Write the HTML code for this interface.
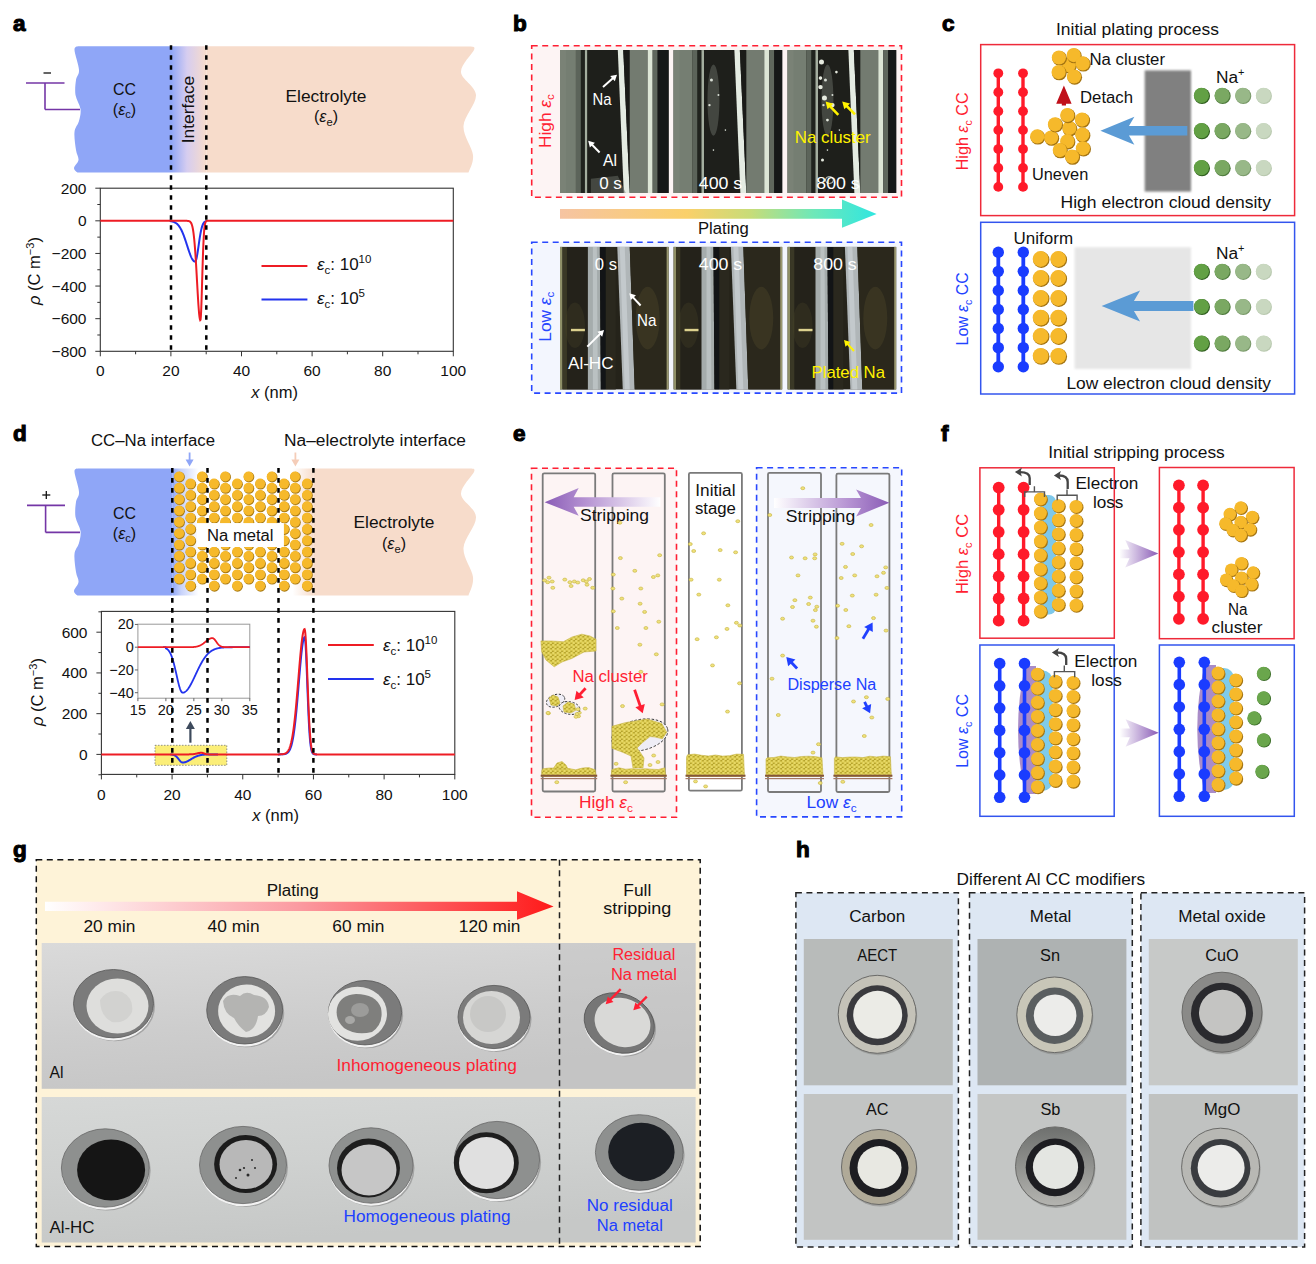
<!DOCTYPE html><html><head><meta charset="utf-8"><style>html,body{margin:0;padding:0;background:#fff;width:1316px;height:1264px;overflow:hidden}text{font-family:"Liberation Sans", sans-serif}</style></head><body><svg width="1316" height="1264" viewBox="0 0 1316 1264" style="display:block;font-family:'Liberation Sans', sans-serif"><defs><clipPath id="clipA"><path d="M78,46.2 L471.5,46.5  C471.92,47.08 475.75,45.75 474.00,50.00 C472.25,54.25 460.67,64.50 461.00,72.00 C461.33,79.50 475.58,86.00 476.00,95.00 C476.42,104.00 464.00,116.00 463.50,126.00 C463.00,136.00 472.17,147.25 473.00,155.00 C473.83,162.75 469.25,169.58 468.50,172.50 L77.5,172.5  C76.92,171.75 73.83,170.08 74.00,168.00 C74.17,165.92 78.17,163.00 78.50,160.00 C78.83,157.00 76.67,154.67 76.00,150.00 C75.33,145.33 74.00,136.83 74.50,132.00 C75.00,127.17 78.00,124.83 79.00,121.00 C80.00,117.17 81.08,113.33 80.50,109.00 C79.92,104.67 76.25,99.83 75.50,95.00 C74.75,90.17 75.42,84.17 76.00,80.00 C76.58,75.83 79.25,75.00 79.00,70.00 C78.75,65.00 74.67,53.97 74.50,50.00 C74.33,46.03 77.42,46.83 78.00,46.20Z"/></clipPath><linearGradient id="gIntA" x1="0" x2="1" y1="0" y2="0"><stop offset="0" stop-color="#8fa6f7"/><stop offset="0.45" stop-color="#d6cdf0"/><stop offset="1" stop-color="#f7dccb"/></linearGradient><linearGradient id="gPlat" x1="0" x2="1" y1="0" y2="0"><stop offset="0" stop-color="#f6c4a2"/><stop offset="0.4" stop-color="#fad06a"/><stop offset="0.6" stop-color="#c8dc78"/><stop offset="0.8" stop-color="#6ee8b8"/><stop offset="1" stop-color="#30e6e0"/></linearGradient><filter id="fblur1" x="-10%" y="-10%" width="120%" height="120%"><feGaussianBlur stdDeviation="0.8"/></filter><clipPath id="clipD"><path d="M77.5,468.6 L471.5,468.6  C471.92,469.17 475.75,467.77 474.00,472.00 C472.25,476.23 460.67,486.50 461.00,494.00 C461.33,501.50 475.58,508.00 476.00,517.00 C476.42,526.00 464.00,538.00 463.50,548.00 C463.00,558.00 472.17,569.08 473.00,577.00 C473.83,584.92 469.25,592.42 468.50,595.50 L77.5,595.5  C76.92,594.75 73.83,593.25 74.00,591.00 C74.17,588.75 78.17,585.17 78.50,582.00 C78.83,578.83 76.67,576.67 76.00,572.00 C75.33,567.33 74.00,558.83 74.50,554.00 C75.00,549.17 78.00,546.83 79.00,543.00 C80.00,539.17 81.08,535.33 80.50,531.00 C79.92,526.67 76.25,521.83 75.50,517.00 C74.75,512.17 75.42,506.17 76.00,502.00 C76.58,497.83 79.25,497.00 79.00,492.00 C78.75,487.00 74.75,475.90 74.50,472.00 C74.25,468.10 77.00,469.17 77.50,468.60Z"/></clipPath><linearGradient id="gIntD1" x1="0" x2="1" y1="0" y2="0"><stop offset="0" stop-color="#8fa6f7"/><stop offset="0.25" stop-color="#c7d2fa"/><stop offset="0.75" stop-color="#ffffff"/><stop offset="1" stop-color="#ffffff"/></linearGradient><linearGradient id="gIntD2" x1="0" x2="1" y1="0" y2="0"><stop offset="0" stop-color="#ffffff"/><stop offset="0.4" stop-color="#ffffff"/><stop offset="1" stop-color="#f7dccb"/></linearGradient><pattern id="pNa" x="0" y="0" width="4.6" height="4" patternUnits="userSpaceOnUse"><rect width="4.6" height="4" fill="#b4a22c"/><circle cx="1.15" cy="1" r="1.85" fill="#ddcc50"/><circle cx="3.45" cy="3" r="1.85" fill="#ddcc50"/><circle cx="1.15" cy="1" r="0.8" fill="#f0e47a"/><circle cx="3.45" cy="3" r="0.8" fill="#f0e47a"/></pattern><linearGradient id="gStripL" x1="0" x2="1" y1="0" y2="0"><stop offset="0" stop-color="#8a5cb6"/><stop offset="0.35" stop-color="#b592d2"/><stop offset="1" stop-color="#ffffff"/></linearGradient><linearGradient id="gStripR" x1="0" x2="1" y1="0" y2="0"><stop offset="0" stop-color="#ffffff"/><stop offset="0.65" stop-color="#b592d2"/><stop offset="1" stop-color="#8a5cb6"/></linearGradient><filter id="fnone"/><linearGradient id="gArrF" x1="0" x2="1" y1="0" y2="0"><stop offset="0" stop-color="#ffffff"/><stop offset="1" stop-color="#8a5cb6"/></linearGradient><linearGradient id="gPlatG" x1="0" x2="1" y1="0" y2="0"><stop offset="0" stop-color="#ffffff"/><stop offset="0.5" stop-color="#fb9aa0"/><stop offset="1" stop-color="#ff1a1a"/></linearGradient><linearGradient id="gAl" x1="0" x2="0.3" y1="0" y2="1"><stop offset="0" stop-color="#dadada"/><stop offset="0.6" stop-color="#cdcdcd"/><stop offset="1" stop-color="#c6c6c6"/></linearGradient><linearGradient id="gHC" x1="0" x2="0.3" y1="0" y2="1"><stop offset="0" stop-color="#d6d8d7"/><stop offset="0.5" stop-color="#cfd1d0"/><stop offset="1" stop-color="#c6c8c7"/></linearGradient><filter id="fnoise" x="0" y="0" width="100%" height="100%"><feTurbulence type="fractalNoise" baseFrequency="0.35" numOctaves="2" seed="3" result="n"/><feColorMatrix type="matrix" values="0 0 0 0 0.5  0 0 0 0 0.5  0 0 0 0 0.5  0 0 0 0.25 0" in="n"/><feComposite in2="SourceGraphic" operator="in"/></filter><linearGradient id="gSb" x1="0" x2="0" y1="0" y2="1"><stop offset="0" stop-color="#6e706e"/><stop offset="1" stop-color="#b4b4b0"/></linearGradient></defs><text x="13.00" y="30.70" font-size="22.5" fill="#000" font-weight="bold" stroke="#000" stroke-width="1.1">a</text><g clip-path="url(#clipA)"><rect x="60.00" y="40.00" width="111.00" height="140.00" fill="#8fa6f7" stroke="none" stroke-width="1" /><rect x="171.00" y="40.00" width="35.50" height="140.00" fill="url(#gIntA)" stroke="none" stroke-width="1" /><rect x="206.50" y="40.00" width="280.00" height="140.00" fill="#f7dccb" stroke="none" stroke-width="1" /></g><line x1="26.00" y1="83.00" x2="64.50" y2="83.00" stroke="#7436a6" stroke-width="1.6" /><line x1="45.00" y1="83.00" x2="45.00" y2="109.50" stroke="#7436a6" stroke-width="1.6" /><line x1="45.00" y1="109.50" x2="80.00" y2="109.50" stroke="#7436a6" stroke-width="1.6" /><line x1="43.50" y1="73.00" x2="51.00" y2="73.00" stroke="#111" stroke-width="1.3" /><text x="124.50" y="94.50" font-size="16" fill="#111" text-anchor="middle" textLength="23" lengthAdjust="spacingAndGlyphs" >CC</text><text x="124.50" y="114.50" font-size="16" fill="#111" text-anchor="middle" >(<tspan font-style="italic">ε</tspan><tspan font-size="11.2" dy="3.5">c</tspan><tspan dy="-3.5">)</tspan></text><text x="193.50" y="109.50" font-size="17.3" fill="#111" text-anchor="middle" textLength="67.5" lengthAdjust="spacingAndGlyphs" transform="rotate(-90 193.50 109.50)" >Interface</text><text x="326.00" y="101.50" font-size="17.3" fill="#111" text-anchor="middle" textLength="81" lengthAdjust="spacingAndGlyphs" >Electrolyte</text><text x="326.00" y="122.00" font-size="16" fill="#111" text-anchor="middle" >(<tspan font-style="italic">ε</tspan><tspan font-size="11.2" dy="3.5">e</tspan><tspan dy="-3.5">)</tspan></text><rect x="100.30" y="188.20" width="353.00" height="163.10" fill="none" stroke="#333" stroke-width="1.1" /><line x1="95.30" y1="351.30" x2="100.30" y2="351.30" stroke="#333" stroke-width="1" /><line x1="97.30" y1="334.99" x2="100.30" y2="334.99" stroke="#333" stroke-width="1" /><line x1="95.30" y1="318.68" x2="100.30" y2="318.68" stroke="#333" stroke-width="1" /><line x1="97.30" y1="302.37" x2="100.30" y2="302.37" stroke="#333" stroke-width="1" /><line x1="95.30" y1="286.06" x2="100.30" y2="286.06" stroke="#333" stroke-width="1" /><line x1="97.30" y1="269.75" x2="100.30" y2="269.75" stroke="#333" stroke-width="1" /><line x1="95.30" y1="253.44" x2="100.30" y2="253.44" stroke="#333" stroke-width="1" /><line x1="97.30" y1="237.13" x2="100.30" y2="237.13" stroke="#333" stroke-width="1" /><line x1="95.30" y1="220.82" x2="100.30" y2="220.82" stroke="#333" stroke-width="1" /><line x1="97.30" y1="204.51" x2="100.30" y2="204.51" stroke="#333" stroke-width="1" /><line x1="95.30" y1="188.20" x2="100.30" y2="188.20" stroke="#333" stroke-width="1" /><text x="86.50" y="356.80" font-size="15.5" fill="#111" text-anchor="end" >−800</text><text x="86.50" y="324.18" font-size="15.5" fill="#111" text-anchor="end" >−600</text><text x="86.50" y="291.56" font-size="15.5" fill="#111" text-anchor="end" >−400</text><text x="86.50" y="258.94" font-size="15.5" fill="#111" text-anchor="end" >−200</text><text x="86.50" y="226.32" font-size="15.5" fill="#111" text-anchor="end" >0</text><text x="86.50" y="193.70" font-size="15.5" fill="#111" text-anchor="end" >200</text><line x1="100.30" y1="351.30" x2="100.30" y2="356.30" stroke="#333" stroke-width="1" /><line x1="135.60" y1="351.30" x2="135.60" y2="354.30" stroke="#333" stroke-width="1" /><line x1="170.90" y1="351.30" x2="170.90" y2="356.30" stroke="#333" stroke-width="1" /><line x1="206.20" y1="351.30" x2="206.20" y2="354.30" stroke="#333" stroke-width="1" /><line x1="241.50" y1="351.30" x2="241.50" y2="356.30" stroke="#333" stroke-width="1" /><line x1="276.80" y1="351.30" x2="276.80" y2="354.30" stroke="#333" stroke-width="1" /><line x1="312.10" y1="351.30" x2="312.10" y2="356.30" stroke="#333" stroke-width="1" /><line x1="347.40" y1="351.30" x2="347.40" y2="354.30" stroke="#333" stroke-width="1" /><line x1="382.70" y1="351.30" x2="382.70" y2="356.30" stroke="#333" stroke-width="1" /><line x1="418.00" y1="351.30" x2="418.00" y2="354.30" stroke="#333" stroke-width="1" /><line x1="453.30" y1="351.30" x2="453.30" y2="356.30" stroke="#333" stroke-width="1" /><text x="100.30" y="376.00" font-size="15.5" fill="#111" text-anchor="middle" >0</text><text x="170.90" y="376.00" font-size="15.5" fill="#111" text-anchor="middle" >20</text><text x="241.50" y="376.00" font-size="15.5" fill="#111" text-anchor="middle" >40</text><text x="312.10" y="376.00" font-size="15.5" fill="#111" text-anchor="middle" >60</text><text x="382.70" y="376.00" font-size="15.5" fill="#111" text-anchor="middle" >80</text><text x="453.30" y="376.00" font-size="15.5" fill="#111" text-anchor="middle" >100</text><text x="274.50" y="397.50" font-size="16.5" fill="#111" text-anchor="middle" ><tspan font-style="italic">x</tspan> (nm)</text><text x="40.00" y="271.00" font-size="16.5" fill="#111" text-anchor="middle" transform="rotate(-90 40.00 271.00)" ><tspan font-style="italic">ρ</tspan> (C m<tspan font-size="11" dy="-6">−3</tspan><tspan dy="6">)</tspan></text><path d="M169.49,220.82 L169.84,220.82 L170.19,220.82 L170.55,220.82 L170.90,221.22 L171.25,221.27 L171.61,221.34 L171.96,221.41 L172.31,221.49 L172.66,221.58 L173.02,221.68 L173.37,221.79 L173.72,221.92 L174.08,222.06 L174.43,222.21 L174.78,222.38 L175.14,222.56 L175.49,222.77 L175.84,222.99 L176.19,223.23 L176.55,223.50 L176.90,223.79 L177.25,224.10 L177.61,224.45 L177.96,224.81 L178.31,225.21 L178.67,225.64 L179.02,226.10 L179.37,226.59 L179.72,227.11 L180.08,227.67 L180.43,228.26 L180.78,228.89 L181.14,229.55 L181.49,230.25 L181.84,230.99 L182.20,231.76 L182.55,232.56 L182.90,233.41 L183.25,234.28 L183.61,235.19 L183.96,236.12 L184.31,237.09 L184.67,238.08 L185.02,239.10 L185.37,240.14 L185.73,241.20 L186.08,242.27 L186.43,243.36 L186.78,244.45 L187.14,245.55 L187.49,246.65 L187.84,247.74 L188.20,248.83 L188.55,249.90 L188.90,250.95 L189.26,251.98 L189.61,252.98 L189.96,253.95 L190.31,254.88 L190.67,255.76 L191.02,256.60 L191.37,257.39 L191.73,258.12 L192.08,258.79 L192.43,259.39 L192.79,259.93 L193.14,260.39 L193.49,260.79 L193.84,261.10 L194.20,261.34 L194.55,261.50 L194.90,261.58 L195.26,261.54 L195.61,261.14 L195.96,260.34 L196.32,259.17 L196.67,257.67 L197.02,255.87 L197.38,253.83 L197.73,251.60 L198.08,249.23 L198.43,246.79 L198.79,244.32 L199.14,241.87 L199.49,239.49 L199.85,237.21 L200.20,235.07 L200.55,233.09 L200.91,231.27 L201.26,229.64 L201.61,228.19 L201.96,226.91 L202.32,225.81 L202.67,224.86 L203.02,224.06 L203.38,223.40 L203.73,222.85 L204.08,222.40 L204.44,222.04 L204.79,221.75 L205.14,221.52 L205.49,221.35 L205.85,221.21 L206.20,221.11 L206.55,221.03 L206.91,220.97" fill="none" stroke="#2233ee" stroke-width="2" /><path d="M100.30,220.82 L100.65,220.82 L101.01,220.82 L101.36,220.82 L101.71,220.82 L102.06,220.82 L102.42,220.82 L102.77,220.82 L103.12,220.82 L103.48,220.82 L103.83,220.82 L104.18,220.82 L104.54,220.82 L104.89,220.82 L105.24,220.82 L105.59,220.82 L105.95,220.82 L106.30,220.82 L106.65,220.82 L107.01,220.82 L107.36,220.82 L107.71,220.82 L108.07,220.82 L108.42,220.82 L108.77,220.82 L109.12,220.82 L109.48,220.82 L109.83,220.82 L110.18,220.82 L110.54,220.82 L110.89,220.82 L111.24,220.82 L111.60,220.82 L111.95,220.82 L112.30,220.82 L112.66,220.82 L113.01,220.82 L113.36,220.82 L113.71,220.82 L114.07,220.82 L114.42,220.82 L114.77,220.82 L115.13,220.82 L115.48,220.82 L115.83,220.82 L116.19,220.82 L116.54,220.82 L116.89,220.82 L117.24,220.82 L117.60,220.82 L117.95,220.82 L118.30,220.82 L118.66,220.82 L119.01,220.82 L119.36,220.82 L119.72,220.82 L120.07,220.82 L120.42,220.82 L120.77,220.82 L121.13,220.82 L121.48,220.82 L121.83,220.82 L122.19,220.82 L122.54,220.82 L122.89,220.82 L123.25,220.82 L123.60,220.82 L123.95,220.82 L124.30,220.82 L124.66,220.82 L125.01,220.82 L125.36,220.82 L125.72,220.82 L126.07,220.82 L126.42,220.82 L126.78,220.82 L127.13,220.82 L127.48,220.82 L127.83,220.82 L128.19,220.82 L128.54,220.82 L128.89,220.82 L129.25,220.82 L129.60,220.82 L129.95,220.82 L130.31,220.82 L130.66,220.82 L131.01,220.82 L131.36,220.82 L131.72,220.82 L132.07,220.82 L132.42,220.82 L132.78,220.82 L133.13,220.82 L133.48,220.82 L133.83,220.82 L134.19,220.82 L134.54,220.82 L134.89,220.82 L135.25,220.82 L135.60,220.82 L135.95,220.82 L136.31,220.82 L136.66,220.82 L137.01,220.82 L137.37,220.82 L137.72,220.82 L138.07,220.82 L138.42,220.82 L138.78,220.82 L139.13,220.82 L139.48,220.82 L139.84,220.82 L140.19,220.82 L140.54,220.82 L140.89,220.82 L141.25,220.82 L141.60,220.82 L141.95,220.82 L142.31,220.82 L142.66,220.82 L143.01,220.82 L143.37,220.82 L143.72,220.82 L144.07,220.82 L144.43,220.82 L144.78,220.82 L145.13,220.82 L145.48,220.82 L145.84,220.82 L146.19,220.82 L146.54,220.82 L146.90,220.82 L147.25,220.82 L147.60,220.82 L147.95,220.82 L148.31,220.82 L148.66,220.82 L149.01,220.82 L149.37,220.82 L149.72,220.82 L150.07,220.82 L150.43,220.82 L150.78,220.82 L151.13,220.82 L151.49,220.82 L151.84,220.82 L152.19,220.82 L152.54,220.82 L152.90,220.82 L153.25,220.82 L153.60,220.82 L153.96,220.82 L154.31,220.82 L154.66,220.82 L155.01,220.82 L155.37,220.82 L155.72,220.82 L156.07,220.82 L156.43,220.82 L156.78,220.82 L157.13,220.82 L157.49,220.82 L157.84,220.82 L158.19,220.82 L158.54,220.82 L158.90,220.82 L159.25,220.82 L159.60,220.82 L159.96,220.82 L160.31,220.82 L160.66,220.82 L161.02,220.82 L161.37,220.82 L161.72,220.82 L162.07,220.82 L162.43,220.82 L162.78,220.82 L163.13,220.82 L163.49,220.82 L163.84,220.82 L164.19,220.82 L164.55,220.82 L164.90,220.82 L165.25,220.82 L165.61,220.82 L165.96,220.82 L166.31,220.82 L166.66,220.82 L167.02,220.82 L167.37,220.82 L167.72,220.82 L168.08,220.82 L168.43,220.82 L168.78,220.82 L169.13,220.82 L169.49,220.82 L169.84,220.82 L170.19,220.82 L170.55,220.82 L170.90,220.82 L171.25,220.82 L171.61,220.82 L171.96,220.82 L172.31,220.82 L172.66,220.82 L173.02,220.82 L173.37,220.82 L173.72,220.82 L174.08,220.82 L174.43,220.82 L174.78,220.82 L175.14,220.82 L175.49,220.82 L175.84,220.82 L176.19,220.82 L176.55,220.82 L176.90,220.82 L177.25,220.82 L177.61,220.82 L177.96,220.82 L178.31,220.82 L178.67,220.82 L179.02,220.82 L179.37,220.82 L179.72,220.82 L180.08,220.82 L180.43,220.82 L180.78,220.82 L181.14,220.82 L181.49,220.82 L181.84,220.82 L182.20,220.82 L182.55,220.82 L182.90,220.82 L183.25,220.82 L183.61,220.82 L183.96,220.82 L184.31,220.82 L184.67,220.82 L185.02,220.82 L185.37,220.82 L185.73,220.83 L186.08,220.83 L186.43,220.84 L186.78,220.85 L187.14,220.86 L187.49,220.88 L187.84,220.91 L188.20,220.96 L188.55,221.02 L188.90,221.11 L189.26,221.23 L189.61,221.39 L189.96,221.62 L190.31,221.93 L190.67,222.33 L191.02,222.85 L191.37,223.53 L191.73,224.40 L192.08,225.49 L192.43,226.84 L192.79,228.50 L193.14,230.52 L193.49,232.92 L193.84,235.76 L194.20,239.06 L194.55,242.84 L194.90,247.11 L195.26,251.86 L195.61,257.07 L195.96,262.68 L196.32,268.64 L196.67,274.84 L197.02,281.16 L197.38,287.49 L197.73,293.67 L198.08,299.55 L198.43,304.96 L198.79,309.75 L199.14,313.78 L199.49,316.92 L199.85,319.08 L200.20,320.17 L200.55,319.81 L200.91,315.93 L201.26,308.62 L201.61,298.69 L201.96,287.18 L202.32,275.15 L202.67,263.56 L203.02,253.12 L203.38,244.27 L203.73,237.18 L204.08,231.79 L204.44,227.88 L204.79,225.19 L205.14,223.42 L205.49,222.30 L205.85,221.63 L206.20,221.25 L206.55,221.04 L206.91,220.93 L207.26,220.87 L207.61,220.84 L207.97,220.83 L208.32,220.82 L208.67,220.82 L209.02,220.82 L209.38,220.82 L209.73,220.82 L210.08,220.82 L210.44,220.82 L210.79,220.82 L211.14,220.82 L211.50,220.82 L211.85,220.82 L212.20,220.82 L212.55,220.82 L212.91,220.82 L213.26,220.82 L213.61,220.82 L213.97,220.82 L214.32,220.82 L214.67,220.82 L215.02,220.82 L215.38,220.82 L215.73,220.82 L216.08,220.82 L216.44,220.82 L216.79,220.82 L217.14,220.82 L217.50,220.82 L217.85,220.82 L218.20,220.82 L218.56,220.82 L218.91,220.82 L219.26,220.82 L219.61,220.82 L219.97,220.82 L220.32,220.82 L220.67,220.82 L221.03,220.82 L221.38,220.82 L221.73,220.82 L222.08,220.82 L222.44,220.82 L222.79,220.82 L223.14,220.82 L223.50,220.82 L223.85,220.82 L224.20,220.82 L224.56,220.82 L224.91,220.82 L225.26,220.82 L225.62,220.82 L225.97,220.82 L226.32,220.82 L226.67,220.82 L227.03,220.82 L227.38,220.82 L227.73,220.82 L228.09,220.82 L228.44,220.82 L228.79,220.82 L229.14,220.82 L229.50,220.82 L229.85,220.82 L230.20,220.82 L230.56,220.82 L230.91,220.82 L231.26,220.82 L231.62,220.82 L231.97,220.82 L232.32,220.82 L232.68,220.82 L233.03,220.82 L233.38,220.82 L233.73,220.82 L234.09,220.82 L234.44,220.82 L234.79,220.82 L235.15,220.82 L235.50,220.82 L235.85,220.82 L236.20,220.82 L236.56,220.82 L236.91,220.82 L237.26,220.82 L237.62,220.82 L237.97,220.82 L238.32,220.82 L238.68,220.82 L239.03,220.82 L239.38,220.82 L239.74,220.82 L240.09,220.82 L240.44,220.82 L240.79,220.82 L241.15,220.82 L241.50,220.82 L241.85,220.82 L242.21,220.82 L242.56,220.82 L242.91,220.82 L243.26,220.82 L243.62,220.82 L243.97,220.82 L244.32,220.82 L244.68,220.82 L245.03,220.82 L245.38,220.82 L245.74,220.82 L246.09,220.82 L246.44,220.82 L246.80,220.82 L247.15,220.82 L247.50,220.82 L247.85,220.82 L248.21,220.82 L248.56,220.82 L248.91,220.82 L249.27,220.82 L249.62,220.82 L249.97,220.82 L250.32,220.82 L250.68,220.82 L251.03,220.82 L251.38,220.82 L251.74,220.82 L252.09,220.82 L252.44,220.82 L252.80,220.82 L253.15,220.82 L253.50,220.82 L253.86,220.82 L254.21,220.82 L254.56,220.82 L254.91,220.82 L255.27,220.82 L255.62,220.82 L255.97,220.82 L256.33,220.82 L256.68,220.82 L257.03,220.82 L257.38,220.82 L257.74,220.82 L258.09,220.82 L258.44,220.82 L258.80,220.82 L259.15,220.82 L259.50,220.82 L259.86,220.82 L260.21,220.82 L260.56,220.82 L260.92,220.82 L261.27,220.82 L261.62,220.82 L261.97,220.82 L262.33,220.82 L262.68,220.82 L263.03,220.82 L263.39,220.82 L263.74,220.82 L264.09,220.82 L264.44,220.82 L264.80,220.82 L265.15,220.82 L265.50,220.82 L265.86,220.82 L266.21,220.82 L266.56,220.82 L266.92,220.82 L267.27,220.82 L267.62,220.82 L267.98,220.82 L268.33,220.82 L268.68,220.82 L269.03,220.82 L269.39,220.82 L269.74,220.82 L270.09,220.82 L270.45,220.82 L270.80,220.82 L271.15,220.82 L271.50,220.82 L271.86,220.82 L272.21,220.82 L272.56,220.82 L272.92,220.82 L273.27,220.82 L273.62,220.82 L273.98,220.82 L274.33,220.82 L274.68,220.82 L275.04,220.82 L275.39,220.82 L275.74,220.82 L276.09,220.82 L276.45,220.82 L276.80,220.82 L277.15,220.82 L277.51,220.82 L277.86,220.82 L278.21,220.82 L278.56,220.82 L278.92,220.82 L279.27,220.82 L279.62,220.82 L279.98,220.82 L280.33,220.82 L280.68,220.82 L281.04,220.82 L281.39,220.82 L281.74,220.82 L282.09,220.82 L282.45,220.82 L282.80,220.82 L283.15,220.82 L283.51,220.82 L283.86,220.82 L284.21,220.82 L284.57,220.82 L284.92,220.82 L285.27,220.82 L285.62,220.82 L285.98,220.82 L286.33,220.82 L286.68,220.82 L287.04,220.82 L287.39,220.82 L287.74,220.82 L288.10,220.82 L288.45,220.82 L288.80,220.82 L289.15,220.82 L289.51,220.82 L289.86,220.82 L290.21,220.82 L290.57,220.82 L290.92,220.82 L291.27,220.82 L291.63,220.82 L291.98,220.82 L292.33,220.82 L292.69,220.82 L293.04,220.82 L293.39,220.82 L293.74,220.82 L294.10,220.82 L294.45,220.82 L294.80,220.82 L295.16,220.82 L295.51,220.82 L295.86,220.82 L296.21,220.82 L296.57,220.82 L296.92,220.82 L297.27,220.82 L297.63,220.82 L297.98,220.82 L298.33,220.82 L298.69,220.82 L299.04,220.82 L299.39,220.82 L299.75,220.82 L300.10,220.82 L300.45,220.82 L300.80,220.82 L301.16,220.82 L301.51,220.82 L301.86,220.82 L302.22,220.82 L302.57,220.82 L302.92,220.82 L303.27,220.82 L303.63,220.82 L303.98,220.82 L304.33,220.82 L304.69,220.82 L305.04,220.82 L305.39,220.82 L305.75,220.82 L306.10,220.82 L306.45,220.82 L306.81,220.82 L307.16,220.82 L307.51,220.82 L307.86,220.82 L308.22,220.82 L308.57,220.82 L308.92,220.82 L309.28,220.82 L309.63,220.82 L309.98,220.82 L310.33,220.82 L310.69,220.82 L311.04,220.82 L311.39,220.82 L311.75,220.82 L312.10,220.82 L312.45,220.82 L312.81,220.82 L313.16,220.82 L313.51,220.82 L313.87,220.82 L314.22,220.82 L314.57,220.82 L314.92,220.82 L315.28,220.82 L315.63,220.82 L315.98,220.82 L316.34,220.82 L316.69,220.82 L317.04,220.82 L317.39,220.82 L317.75,220.82 L318.10,220.82 L318.45,220.82 L318.81,220.82 L319.16,220.82 L319.51,220.82 L319.87,220.82 L320.22,220.82 L320.57,220.82 L320.93,220.82 L321.28,220.82 L321.63,220.82 L321.98,220.82 L322.34,220.82 L322.69,220.82 L323.04,220.82 L323.40,220.82 L323.75,220.82 L324.10,220.82 L324.45,220.82 L324.81,220.82 L325.16,220.82 L325.51,220.82 L325.87,220.82 L326.22,220.82 L326.57,220.82 L326.93,220.82 L327.28,220.82 L327.63,220.82 L327.99,220.82 L328.34,220.82 L328.69,220.82 L329.04,220.82 L329.40,220.82 L329.75,220.82 L330.10,220.82 L330.46,220.82 L330.81,220.82 L331.16,220.82 L331.51,220.82 L331.87,220.82 L332.22,220.82 L332.57,220.82 L332.93,220.82 L333.28,220.82 L333.63,220.82 L333.99,220.82 L334.34,220.82 L334.69,220.82 L335.05,220.82 L335.40,220.82 L335.75,220.82 L336.10,220.82 L336.46,220.82 L336.81,220.82 L337.16,220.82 L337.52,220.82 L337.87,220.82 L338.22,220.82 L338.57,220.82 L338.93,220.82 L339.28,220.82 L339.63,220.82 L339.99,220.82 L340.34,220.82 L340.69,220.82 L341.05,220.82 L341.40,220.82 L341.75,220.82 L342.11,220.82 L342.46,220.82 L342.81,220.82 L343.16,220.82 L343.52,220.82 L343.87,220.82 L344.22,220.82 L344.58,220.82 L344.93,220.82 L345.28,220.82 L345.63,220.82 L345.99,220.82 L346.34,220.82 L346.69,220.82 L347.05,220.82 L347.40,220.82 L347.75,220.82 L348.11,220.82 L348.46,220.82 L348.81,220.82 L349.17,220.82 L349.52,220.82 L349.87,220.82 L350.22,220.82 L350.58,220.82 L350.93,220.82 L351.28,220.82 L351.64,220.82 L351.99,220.82 L352.34,220.82 L352.69,220.82 L353.05,220.82 L353.40,220.82 L353.75,220.82 L354.11,220.82 L354.46,220.82 L354.81,220.82 L355.17,220.82 L355.52,220.82 L355.87,220.82 L356.23,220.82 L356.58,220.82 L356.93,220.82 L357.28,220.82 L357.64,220.82 L357.99,220.82 L358.34,220.82 L358.70,220.82 L359.05,220.82 L359.40,220.82 L359.75,220.82 L360.11,220.82 L360.46,220.82 L360.81,220.82 L361.17,220.82 L361.52,220.82 L361.87,220.82 L362.23,220.82 L362.58,220.82 L362.93,220.82 L363.29,220.82 L363.64,220.82 L363.99,220.82 L364.34,220.82 L364.70,220.82 L365.05,220.82 L365.40,220.82 L365.76,220.82 L366.11,220.82 L366.46,220.82 L366.81,220.82 L367.17,220.82 L367.52,220.82 L367.87,220.82 L368.23,220.82 L368.58,220.82 L368.93,220.82 L369.29,220.82 L369.64,220.82 L369.99,220.82 L370.35,220.82 L370.70,220.82 L371.05,220.82 L371.40,220.82 L371.76,220.82 L372.11,220.82 L372.46,220.82 L372.82,220.82 L373.17,220.82 L373.52,220.82 L373.88,220.82 L374.23,220.82 L374.58,220.82 L374.93,220.82 L375.29,220.82 L375.64,220.82 L375.99,220.82 L376.35,220.82 L376.70,220.82 L377.05,220.82 L377.41,220.82 L377.76,220.82 L378.11,220.82 L378.46,220.82 L378.82,220.82 L379.17,220.82 L379.52,220.82 L379.88,220.82 L380.23,220.82 L380.58,220.82 L380.94,220.82 L381.29,220.82 L381.64,220.82 L381.99,220.82 L382.35,220.82 L382.70,220.82 L383.05,220.82 L383.41,220.82 L383.76,220.82 L384.11,220.82 L384.47,220.82 L384.82,220.82 L385.17,220.82 L385.52,220.82 L385.88,220.82 L386.23,220.82 L386.58,220.82 L386.94,220.82 L387.29,220.82 L387.64,220.82 L388.00,220.82 L388.35,220.82 L388.70,220.82 L389.05,220.82 L389.41,220.82 L389.76,220.82 L390.11,220.82 L390.47,220.82 L390.82,220.82 L391.17,220.82 L391.53,220.82 L391.88,220.82 L392.23,220.82 L392.58,220.82 L392.94,220.82 L393.29,220.82 L393.64,220.82 L394.00,220.82 L394.35,220.82 L394.70,220.82 L395.06,220.82 L395.41,220.82 L395.76,220.82 L396.11,220.82 L396.47,220.82 L396.82,220.82 L397.17,220.82 L397.53,220.82 L397.88,220.82 L398.23,220.82 L398.59,220.82 L398.94,220.82 L399.29,220.82 L399.64,220.82 L400.00,220.82 L400.35,220.82 L400.70,220.82 L401.06,220.82 L401.41,220.82 L401.76,220.82 L402.12,220.82 L402.47,220.82 L402.82,220.82 L403.17,220.82 L403.53,220.82 L403.88,220.82 L404.23,220.82 L404.59,220.82 L404.94,220.82 L405.29,220.82 L405.65,220.82 L406.00,220.82 L406.35,220.82 L406.70,220.82 L407.06,220.82 L407.41,220.82 L407.76,220.82 L408.12,220.82 L408.47,220.82 L408.82,220.82 L409.18,220.82 L409.53,220.82 L409.88,220.82 L410.23,220.82 L410.59,220.82 L410.94,220.82 L411.29,220.82 L411.65,220.82 L412.00,220.82 L412.35,220.82 L412.70,220.82 L413.06,220.82 L413.41,220.82 L413.76,220.82 L414.12,220.82 L414.47,220.82 L414.82,220.82 L415.18,220.82 L415.53,220.82 L415.88,220.82 L416.24,220.82 L416.59,220.82 L416.94,220.82 L417.29,220.82 L417.65,220.82 L418.00,220.82 L418.35,220.82 L418.71,220.82 L419.06,220.82 L419.41,220.82 L419.76,220.82 L420.12,220.82 L420.47,220.82 L420.82,220.82 L421.18,220.82 L421.53,220.82 L421.88,220.82 L422.24,220.82 L422.59,220.82 L422.94,220.82 L423.30,220.82 L423.65,220.82 L424.00,220.82 L424.35,220.82 L424.71,220.82 L425.06,220.82 L425.41,220.82 L425.77,220.82 L426.12,220.82 L426.47,220.82 L426.82,220.82 L427.18,220.82 L427.53,220.82 L427.88,220.82 L428.24,220.82 L428.59,220.82 L428.94,220.82 L429.30,220.82 L429.65,220.82 L430.00,220.82 L430.36,220.82 L430.71,220.82 L431.06,220.82 L431.41,220.82 L431.77,220.82 L432.12,220.82 L432.47,220.82 L432.83,220.82 L433.18,220.82 L433.53,220.82 L433.88,220.82 L434.24,220.82 L434.59,220.82 L434.94,220.82 L435.30,220.82 L435.65,220.82 L436.00,220.82 L436.36,220.82 L436.71,220.82 L437.06,220.82 L437.42,220.82 L437.77,220.82 L438.12,220.82 L438.47,220.82 L438.83,220.82 L439.18,220.82 L439.53,220.82 L439.89,220.82 L440.24,220.82 L440.59,220.82 L440.94,220.82 L441.30,220.82 L441.65,220.82 L442.00,220.82 L442.36,220.82 L442.71,220.82 L443.06,220.82 L443.42,220.82 L443.77,220.82 L444.12,220.82 L444.48,220.82 L444.83,220.82 L445.18,220.82 L445.53,220.82 L445.89,220.82 L446.24,220.82 L446.59,220.82 L446.95,220.82 L447.30,220.82 L447.65,220.82 L448.00,220.82 L448.36,220.82 L448.71,220.82 L449.06,220.82 L449.42,220.82 L449.77,220.82 L450.12,220.82 L450.48,220.82 L450.83,220.82 L451.18,220.82 L451.54,220.82 L451.89,220.82 L452.24,220.82 L452.59,220.82 L452.95,220.82 L453.30,220.82" fill="none" stroke="#ee1c24" stroke-width="2" /><line x1="261.50" y1="265.90" x2="307.40" y2="265.90" stroke="#ee1c24" stroke-width="2" /><line x1="261.50" y1="299.50" x2="307.40" y2="299.50" stroke="#2233ee" stroke-width="2" /><text x="317.00" y="270.20" font-size="17" fill="#111" ><tspan font-style="italic">ε</tspan><tspan font-size="11.5" dy="4">c</tspan><tspan dy="-4">: 10</tspan><tspan font-size="11.5" dy="-7">10</tspan></text><text x="317.00" y="303.80" font-size="17" fill="#111" ><tspan font-style="italic">ε</tspan><tspan font-size="11.5" dy="4">c</tspan><tspan dy="-4">: 10</tspan><tspan font-size="11.5" dy="-7">5</tspan></text><line x1="171.00" y1="45.20" x2="171.00" y2="351.30" stroke="#000" stroke-width="2.5" stroke-dasharray="4.6,5.4" /><line x1="206.30" y1="45.20" x2="206.30" y2="351.30" stroke="#000" stroke-width="2.5" stroke-dasharray="4.6,5.4" /><text x="513.00" y="30.70" font-size="22.5" fill="#000" font-weight="bold" stroke="#000" stroke-width="1.1">b</text><rect x="531.70" y="45.70" width="369.80" height="151.60" fill="#fdf4f4" stroke="#ff1f33" stroke-width="1.6" stroke-dasharray="6,4.5" /><g transform="translate(560.00,50.10)"><rect x="0" y="0" width="108.6" height="142.9" fill="#1c1e1a"/><polygon points="0.00,0 15.94,0 15.94,142.9 0.00,142.9" fill="#757e72" opacity="1"/><polygon points="0.00,0 5.98,0 5.98,142.9 0.00,142.9" fill="#7d867a" opacity="0.6"/><polygon points="15.94,0 20.92,0 20.92,142.9 15.94,142.9" fill="#5c645a" opacity="1"/><polygon points="20.92,0 24.91,0 24.91,142.9 20.92,142.9" fill="#20231e" opacity="1"/><polygon points="24.91,0 27.40,0 27.40,142.9 24.91,142.9" fill="#a4ae9f" opacity="1"/><polygon points="27.40,0 57.79,0 63.77,142.9 27.40,142.9" fill="#1e1f1b" opacity="1"/><polygon points="57.79,0 63.27,0 69.74,142.9 63.77,142.9" fill="#e4ebe2" opacity="1"/><polygon points="63.27,0 69.74,0 69.74,142.9 69.74,142.9" fill="#1a1b18" opacity="1"/><polygon points="69.74,0 87.68,0 87.68,142.9 69.74,142.9" fill="#737b70" opacity="1"/><polygon points="87.68,0 92.66,0 92.66,142.9 87.68,142.9" fill="#dde6d6" opacity="1"/><polygon points="92.66,0 97.64,0 97.64,142.9 92.66,142.9" fill="#5f675d" opacity="1"/><polygon points="97.64,0 108.60,0 108.60,142.9 97.64,142.9" fill="#161818" opacity="1"/><polygon points="30.88623853211009,128.61 57.78715596330275,125.75200000000001 65.75779816513761,142.9 30.88623853211009,142.9" fill="#6a7068" opacity="0.5"/></g><g transform="translate(673.60,50.10)"><rect x="0" y="0" width="108.6" height="142.9" fill="#1c1e1a"/><polygon points="0.00,0 18.93,0 18.93,142.9 0.00,142.9" fill="#757e72" opacity="1"/><polygon points="0.00,0 5.98,0 5.98,142.9 0.00,142.9" fill="#7d867a" opacity="0.6"/><polygon points="18.93,0 23.91,0 23.91,142.9 18.93,142.9" fill="#5c645a" opacity="1"/><polygon points="23.91,0 27.90,0 27.90,142.9 23.91,142.9" fill="#20231e" opacity="1"/><polygon points="27.90,0 30.39,0 30.39,142.9 27.90,142.9" fill="#a4ae9f" opacity="1"/><polygon points="30.39,0 60.78,0 66.75,142.9 30.39,142.9" fill="#1e1f1b" opacity="1"/><polygon points="60.78,0 66.26,0 72.73,142.9 66.75,142.9" fill="#e4ebe2" opacity="1"/><polygon points="66.26,0 72.73,0 72.73,142.9 72.73,142.9" fill="#1a1b18" opacity="1"/><polygon points="72.73,0 90.67,0 90.67,142.9 72.73,142.9" fill="#737b70" opacity="1"/><polygon points="90.67,0 95.65,0 95.65,142.9 90.67,142.9" fill="#dde6d6" opacity="1"/><polygon points="95.65,0 100.63,0 100.63,142.9 95.65,142.9" fill="#5f675d" opacity="1"/><polygon points="100.63,0 108.60,0 108.60,142.9 100.63,142.9" fill="#161818" opacity="1"/><ellipse cx="39.85321100917431" cy="50.015" rx="5.977981651376147" ry="35.725" fill="#8a8e88" opacity="0.35"/><circle cx="37.86" cy="30.00" r="1.50" fill="#d8ddd4" stroke="none" stroke-width="0" /><circle cx="44.83" cy="45.00" r="1.00" fill="#d8ddd4" stroke="none" stroke-width="0" /><circle cx="35.87" cy="55.00" r="1.20" fill="#d8ddd4" stroke="none" stroke-width="0" /><circle cx="51.81" cy="80.00" r="0.80" fill="#d8ddd4" stroke="none" stroke-width="0" /><circle cx="39.85" cy="100.00" r="0.80" fill="#d8ddd4" stroke="none" stroke-width="0" /></g><g transform="translate(787.60,50.10)"><rect x="0" y="0" width="108.6" height="142.9" fill="#1c1e1a"/><polygon points="0.00,0 18.93,0 18.93,142.9 0.00,142.9" fill="#757e72" opacity="1"/><polygon points="0.00,0 5.98,0 5.98,142.9 0.00,142.9" fill="#7d867a" opacity="0.6"/><polygon points="18.93,0 23.91,0 23.91,142.9 18.93,142.9" fill="#5c645a" opacity="1"/><polygon points="23.91,0 27.90,0 27.90,142.9 23.91,142.9" fill="#20231e" opacity="1"/><polygon points="27.90,0 30.39,0 30.39,142.9 27.90,142.9" fill="#a4ae9f" opacity="1"/><polygon points="30.39,0 60.78,0 66.75,142.9 30.39,142.9" fill="#1e1f1b" opacity="1"/><polygon points="60.78,0 66.26,0 72.73,142.9 66.75,142.9" fill="#e4ebe2" opacity="1"/><polygon points="66.26,0 72.73,0 72.73,142.9 72.73,142.9" fill="#1a1b18" opacity="1"/><polygon points="72.73,0 90.67,0 90.67,142.9 72.73,142.9" fill="#737b70" opacity="1"/><polygon points="90.67,0 95.65,0 95.65,142.9 90.67,142.9" fill="#dde6d6" opacity="1"/><polygon points="95.65,0 100.63,0 100.63,142.9 95.65,142.9" fill="#5f675d" opacity="1"/><polygon points="100.63,0 108.60,0 108.60,142.9 100.63,142.9" fill="#161818" opacity="1"/><ellipse cx="39.85321100917431" cy="50.015" rx="5.977981651376147" ry="35.725" fill="#8a8e88" opacity="0.35"/><circle cx="37.86" cy="30.00" r="1.50" fill="#d8ddd4" stroke="none" stroke-width="0" /><circle cx="44.83" cy="45.00" r="1.00" fill="#d8ddd4" stroke="none" stroke-width="0" /><circle cx="35.87" cy="55.00" r="1.20" fill="#d8ddd4" stroke="none" stroke-width="0" /><circle cx="51.81" cy="80.00" r="0.80" fill="#d8ddd4" stroke="none" stroke-width="0" /><circle cx="39.85" cy="100.00" r="0.80" fill="#d8ddd4" stroke="none" stroke-width="0" /><circle cx="33.88" cy="12.00" r="2.50" fill="#e6eadf" stroke="none" stroke-width="0" /><circle cx="32.88" cy="28.00" r="1.80" fill="#e6eadf" stroke="none" stroke-width="0" /><circle cx="32.88" cy="37.00" r="2.20" fill="#e6eadf" stroke="none" stroke-width="0" /><circle cx="36.86" cy="48.00" r="2.50" fill="#e6eadf" stroke="none" stroke-width="0" /><circle cx="44.83" cy="55.00" r="2.20" fill="#e6eadf" stroke="none" stroke-width="0" /><circle cx="48.82" cy="22.00" r="1.30" fill="#e6eadf" stroke="none" stroke-width="0" /><circle cx="39.85" cy="70.00" r="1.40" fill="#e6eadf" stroke="none" stroke-width="0" /><circle cx="34.87" cy="110.00" r="1.50" fill="#e6eadf" stroke="none" stroke-width="0" /><ellipse cx="41.85" cy="129.90" rx="4.00" ry="3.50" fill="none" stroke="#c9cdc4" stroke-width="1" /></g><text x="550.90" y="148.00" font-size="17.3" fill="#ff1f33" transform="rotate(-90 550.90 148.00)" ><tspan>High </tspan><tspan font-style="italic">ε</tspan><tspan font-size="11.5" dy="3.5">c</tspan></text><text x="592.60" y="105.30" font-size="17" fill="#ffffff" textLength="19" lengthAdjust="spacingAndGlyphs" >Na</text><line x1="603.00" y1="87.00" x2="613.39" y2="77.87" stroke="#ffffff" stroke-width="2" /><polygon points="617.00,74.70 614.80,81.29 610.18,76.03" fill="#ffffff" /><text x="603.00" y="165.60" font-size="17" fill="#ffffff" textLength="14" lengthAdjust="spacingAndGlyphs" >Al</text><line x1="599.60" y1="152.50" x2="591.55" y2="144.24" stroke="#ffffff" stroke-width="2" /><polygon points="588.20,140.80 594.89,142.65 589.88,147.54" fill="#ffffff" /><text x="610.50" y="189.30" font-size="17" fill="#ffffff" text-anchor="middle" textLength="22.7" lengthAdjust="spacingAndGlyphs" >0 s</text><text x="720.50" y="189.30" font-size="17" fill="#ffffff" text-anchor="middle" textLength="43.5" lengthAdjust="spacingAndGlyphs" >400 s</text><text x="838.00" y="189.30" font-size="17" fill="#ffffff" text-anchor="middle" textLength="43.5" lengthAdjust="spacingAndGlyphs" >800 s</text><text x="794.70" y="143.10" font-size="17" fill="#fff200" textLength="76" lengthAdjust="spacingAndGlyphs" >Na cluster</text><line x1="838.30" y1="114.90" x2="829.45" y2="105.56" stroke="#fff200" stroke-width="2.6" /><polygon points="825.60,101.50 833.32,103.83 827.51,109.33" fill="#fff200" /><line x1="855.00" y1="114.30" x2="846.16" y2="105.46" stroke="#fff200" stroke-width="2.6" /><polygon points="842.20,101.50 849.98,103.62 844.32,109.28" fill="#fff200" /><path d="M560,209 L842,209 L842,199.6 L876.6,213.9 L842,227.7 L842,218.7 L560,218.7 Z" fill="url(#gPlat)"/><text x="723.40" y="233.50" font-size="17.3" fill="#111" text-anchor="middle" textLength="51" lengthAdjust="spacingAndGlyphs" >Plating</text><rect x="531.70" y="242.30" width="369.80" height="150.80" fill="#f3f6fe" stroke="#2848ff" stroke-width="1.6" stroke-dasharray="6,4.5" /><g transform="translate(560.00,246.90)"><rect x="0" y="0" width="108.6" height="142.5" fill="#25231a"/><polygon points="0.00,0 2.49,0 2.49,142.5 0.00,142.5" fill="#8f9068" opacity="1"/><polygon points="2.49,0 6.97,0 6.97,142.5 2.49,142.5" fill="#3a3826" opacity="1"/><polygon points="6.97,0 27.90,0 27.90,142.5 6.97,142.5" fill="#24221a" opacity="1"/><polygon points="27.90,0 39.85,0 40.85,142.5 27.90,142.5" fill="#a5acac" opacity="1"/><polygon points="32.88,0 36.86,0 37.86,142.5 32.88,142.5" fill="#c8cfd0" opacity="0.6"/><polygon points="39.85,0 45.83,0 45.83,142.5 40.85,142.5" fill="#121416" opacity="1"/><polygon points="45.83,0 55.79,0 55.79,142.5 45.83,142.5" fill="#2a281e" opacity="1"/><polygon points="57.29,0 69.74,0 74.72,142.5 62.77,142.5" fill="#b0b6b8" opacity="1"/><polygon points="59.78,0 64.76,0 69.74,142.5 64.76,142.5" fill="#d0d6d8" opacity="0.6"/><polygon points="69.74,0 106.61,0 106.61,142.5 74.72,142.5" fill="#2b281c" opacity="1"/><polygon points="106.61,0 108.60,0 108.60,142.5 106.61,142.5" fill="#9a9870" opacity="1"/><ellipse cx="87.68" cy="71.25" rx="11.96" ry="31.35" fill="#5a5430" opacity="0.3"/><ellipse cx="14.94" cy="78.38" rx="9.96" ry="22.80" fill="#4a4428" opacity="0.3"/><rect x="10.96" y="81.94" width="13.95" height="2.4" fill="#efe39a" opacity="0.9"/></g><g transform="translate(673.60,246.90)"><rect x="0" y="0" width="108.6" height="142.5" fill="#25231a"/><polygon points="0.00,0 2.49,0 2.49,142.5 0.00,142.5" fill="#8f9068" opacity="1"/><polygon points="2.49,0 6.97,0 6.97,142.5 2.49,142.5" fill="#3a3826" opacity="1"/><polygon points="6.97,0 27.90,0 27.90,142.5 6.97,142.5" fill="#24221a" opacity="1"/><polygon points="27.90,0 39.85,0 40.85,142.5 27.90,142.5" fill="#a5acac" opacity="1"/><polygon points="32.88,0 36.86,0 37.86,142.5 32.88,142.5" fill="#c8cfd0" opacity="0.6"/><polygon points="39.85,0 45.83,0 45.83,142.5 40.85,142.5" fill="#121416" opacity="1"/><polygon points="45.83,0 55.79,0 55.79,142.5 45.83,142.5" fill="#2a281e" opacity="1"/><polygon points="57.29,0 69.74,0 74.72,142.5 62.77,142.5" fill="#b0b6b8" opacity="1"/><polygon points="59.78,0 64.76,0 69.74,142.5 64.76,142.5" fill="#d0d6d8" opacity="0.6"/><polygon points="69.74,0 106.61,0 106.61,142.5 74.72,142.5" fill="#2b281c" opacity="1"/><polygon points="106.61,0 108.60,0 108.60,142.5 106.61,142.5" fill="#9a9870" opacity="1"/><ellipse cx="87.68" cy="71.25" rx="11.96" ry="31.35" fill="#5a5430" opacity="0.3"/><ellipse cx="14.94" cy="78.38" rx="9.96" ry="22.80" fill="#4a4428" opacity="0.3"/><rect x="10.96" y="81.94" width="13.95" height="2.4" fill="#efe39a" opacity="0.9"/></g><g transform="translate(787.60,246.90)"><rect x="0" y="0" width="108.6" height="142.5" fill="#25231a"/><polygon points="0.00,0 2.49,0 2.49,142.5 0.00,142.5" fill="#8f9068" opacity="1"/><polygon points="2.49,0 6.97,0 6.97,142.5 2.49,142.5" fill="#3a3826" opacity="1"/><polygon points="6.97,0 27.90,0 27.90,142.5 6.97,142.5" fill="#24221a" opacity="1"/><polygon points="27.90,0 39.85,0 40.85,142.5 27.90,142.5" fill="#a5acac" opacity="1"/><polygon points="32.88,0 36.86,0 37.86,142.5 32.88,142.5" fill="#c8cfd0" opacity="0.6"/><polygon points="39.85,0 45.83,0 45.83,142.5 40.85,142.5" fill="#121416" opacity="1"/><polygon points="45.83,0 55.79,0 55.79,142.5 45.83,142.5" fill="#2a281e" opacity="1"/><polygon points="57.29,0 69.74,0 74.72,142.5 62.77,142.5" fill="#b0b6b8" opacity="1"/><polygon points="59.78,0 64.76,0 69.74,142.5 64.76,142.5" fill="#d0d6d8" opacity="0.6"/><polygon points="69.74,0 106.61,0 106.61,142.5 74.72,142.5" fill="#2b281c" opacity="1"/><polygon points="106.61,0 108.60,0 108.60,142.5 106.61,142.5" fill="#9a9870" opacity="1"/><ellipse cx="87.68" cy="71.25" rx="11.96" ry="31.35" fill="#5a5430" opacity="0.3"/><ellipse cx="14.94" cy="78.38" rx="9.96" ry="22.80" fill="#4a4428" opacity="0.3"/><rect x="10.96" y="81.94" width="13.95" height="2.4" fill="#efe39a" opacity="0.9"/></g><text x="550.90" y="341.70" font-size="17.3" fill="#2848ff" transform="rotate(-90 550.90 341.70)" ><tspan>Low </tspan><tspan font-style="italic">ε</tspan><tspan font-size="11.5" dy="3.5">c</tspan></text><text x="605.90" y="269.70" font-size="17" fill="#ffffff" text-anchor="middle" textLength="22.2" lengthAdjust="spacingAndGlyphs" >0 s</text><text x="720.50" y="269.70" font-size="17" fill="#ffffff" text-anchor="middle" textLength="43.5" lengthAdjust="spacingAndGlyphs" >400 s</text><text x="835.00" y="269.70" font-size="17" fill="#ffffff" text-anchor="middle" textLength="43.5" lengthAdjust="spacingAndGlyphs" >800 s</text><text x="568.00" y="369.30" font-size="17" fill="#ffffff" textLength="45.5" lengthAdjust="spacingAndGlyphs" >Al-HC</text><line x1="587.30" y1="346.60" x2="600.60" y2="333.38" stroke="#ffffff" stroke-width="2" /><polygon points="604.00,330.00 602.21,336.71 597.28,331.75" fill="#ffffff" /><text x="637.00" y="325.60" font-size="17" fill="#ffffff" textLength="19.4" lengthAdjust="spacingAndGlyphs" >Na</text><line x1="640.60" y1="305.50" x2="632.56" y2="296.82" stroke="#ffffff" stroke-width="2" /><polygon points="629.30,293.30 635.94,295.32 630.81,300.08" fill="#ffffff" /><text x="811.50" y="378.00" font-size="17" fill="#fff200" textLength="73.5" lengthAdjust="spacingAndGlyphs" >Plated Na</text><line x1="854.00" y1="351.00" x2="847.23" y2="343.55" stroke="#fff200" stroke-width="2" /><polygon points="844.00,340.00 850.63,342.09 845.45,346.79" fill="#fff200" /><text x="942.00" y="30.70" font-size="22.5" fill="#000" font-weight="bold" stroke="#000" stroke-width="1.1">c</text><text x="1137.50" y="34.60" font-size="17.3" fill="#111" text-anchor="middle" textLength="163" lengthAdjust="spacingAndGlyphs" >Initial plating process</text><rect x="980.70" y="44.60" width="313.90" height="171.00" fill="none" stroke="#ee2a3a" stroke-width="1.5" /><text x="968.50" y="170.30" font-size="17.3" fill="#ff1f33" textLength="78" lengthAdjust="spacingAndGlyphs" transform="rotate(-90 968.50 170.30)" ><tspan>High </tspan><tspan font-style="italic">ε</tspan><tspan font-size="11.6" dy="4">c</tspan><tspan dy="-4"> CC</tspan></text><line x1="998.30" y1="73.30" x2="998.30" y2="186.90" stroke="#ff1a2a" stroke-width="3.4" /><circle cx="998.30" cy="73.30" r="4.90" fill="#ff1a2a" stroke="none" stroke-width="0" /><circle cx="998.30" cy="92.23" r="4.90" fill="#ff1a2a" stroke="none" stroke-width="0" /><circle cx="998.30" cy="111.17" r="4.90" fill="#ff1a2a" stroke="none" stroke-width="0" /><circle cx="998.30" cy="130.10" r="4.90" fill="#ff1a2a" stroke="none" stroke-width="0" /><circle cx="998.30" cy="149.03" r="4.90" fill="#ff1a2a" stroke="none" stroke-width="0" /><circle cx="998.30" cy="167.97" r="4.90" fill="#ff1a2a" stroke="none" stroke-width="0" /><circle cx="998.30" cy="186.90" r="4.90" fill="#ff1a2a" stroke="none" stroke-width="0" /><line x1="1023.00" y1="73.30" x2="1023.00" y2="186.90" stroke="#ff1a2a" stroke-width="3.4" /><circle cx="1023.00" cy="73.30" r="4.90" fill="#ff1a2a" stroke="none" stroke-width="0" /><circle cx="1023.00" cy="92.23" r="4.90" fill="#ff1a2a" stroke="none" stroke-width="0" /><circle cx="1023.00" cy="111.17" r="4.90" fill="#ff1a2a" stroke="none" stroke-width="0" /><circle cx="1023.00" cy="130.10" r="4.90" fill="#ff1a2a" stroke="none" stroke-width="0" /><circle cx="1023.00" cy="149.03" r="4.90" fill="#ff1a2a" stroke="none" stroke-width="0" /><circle cx="1023.00" cy="167.97" r="4.90" fill="#ff1a2a" stroke="none" stroke-width="0" /><circle cx="1023.00" cy="186.90" r="4.90" fill="#ff1a2a" stroke="none" stroke-width="0" /><circle cx="1069.40" cy="66.00" r="7.40" fill="#a47412" stroke="none" stroke-width="0" /><circle cx="1068.70" cy="65.20" r="7.10" fill="#f6b92b" stroke="none" stroke-width="0" /><circle cx="1059.60" cy="58.30" r="7.40" fill="#a47412" stroke="none" stroke-width="0" /><circle cx="1058.90" cy="57.50" r="7.10" fill="#f6b92b" stroke="none" stroke-width="0" /><circle cx="1074.40" cy="55.90" r="7.40" fill="#a47412" stroke="none" stroke-width="0" /><circle cx="1073.70" cy="55.10" r="7.10" fill="#f6b92b" stroke="none" stroke-width="0" /><circle cx="1083.40" cy="64.20" r="7.40" fill="#a47412" stroke="none" stroke-width="0" /><circle cx="1082.70" cy="63.40" r="7.10" fill="#f6b92b" stroke="none" stroke-width="0" /><circle cx="1059.30" cy="72.90" r="7.40" fill="#a47412" stroke="none" stroke-width="0" /><circle cx="1058.60" cy="72.10" r="7.10" fill="#f6b92b" stroke="none" stroke-width="0" /><circle cx="1074.70" cy="77.30" r="7.40" fill="#a47412" stroke="none" stroke-width="0" /><circle cx="1074.00" cy="76.50" r="7.10" fill="#f6b92b" stroke="none" stroke-width="0" /><circle cx="1070.00" cy="128.90" r="7.40" fill="#a47412" stroke="none" stroke-width="0" /><circle cx="1069.30" cy="128.10" r="7.10" fill="#f6b92b" stroke="none" stroke-width="0" /><circle cx="1037.90" cy="137.20" r="7.40" fill="#a47412" stroke="none" stroke-width="0" /><circle cx="1037.20" cy="136.40" r="7.10" fill="#f6b92b" stroke="none" stroke-width="0" /><circle cx="1051.80" cy="138.40" r="7.40" fill="#a47412" stroke="none" stroke-width="0" /><circle cx="1051.10" cy="137.60" r="7.10" fill="#f6b92b" stroke="none" stroke-width="0" /><circle cx="1055.70" cy="125.10" r="7.40" fill="#a47412" stroke="none" stroke-width="0" /><circle cx="1055.00" cy="124.30" r="7.10" fill="#f6b92b" stroke="none" stroke-width="0" /><circle cx="1068.00" cy="115.80" r="7.40" fill="#a47412" stroke="none" stroke-width="0" /><circle cx="1067.30" cy="115.00" r="7.10" fill="#f6b92b" stroke="none" stroke-width="0" /><circle cx="1082.70" cy="120.40" r="7.40" fill="#a47412" stroke="none" stroke-width="0" /><circle cx="1082.00" cy="119.60" r="7.10" fill="#f6b92b" stroke="none" stroke-width="0" /><circle cx="1083.00" cy="135.40" r="7.40" fill="#a47412" stroke="none" stroke-width="0" /><circle cx="1082.30" cy="134.60" r="7.10" fill="#f6b92b" stroke="none" stroke-width="0" /><circle cx="1068.00" cy="142.00" r="7.40" fill="#a47412" stroke="none" stroke-width="0" /><circle cx="1067.30" cy="141.20" r="7.10" fill="#f6b92b" stroke="none" stroke-width="0" /><circle cx="1060.50" cy="150.90" r="7.40" fill="#a47412" stroke="none" stroke-width="0" /><circle cx="1059.80" cy="150.10" r="7.10" fill="#f6b92b" stroke="none" stroke-width="0" /><circle cx="1083.60" cy="149.10" r="7.40" fill="#a47412" stroke="none" stroke-width="0" /><circle cx="1082.90" cy="148.30" r="7.10" fill="#f6b92b" stroke="none" stroke-width="0" /><circle cx="1072.70" cy="157.40" r="7.40" fill="#a47412" stroke="none" stroke-width="0" /><circle cx="1072.00" cy="156.60" r="7.10" fill="#f6b92b" stroke="none" stroke-width="0" /><path d="M1063.9,85.4 L1071.6,103.8 L1066,103.8 L1066,105.6 L1061.8,105.6 L1061.8,103.8 L1056.2,103.8 Z" fill="#c0101a" stroke="none" stroke-width="1" /><text x="1089.50" y="64.60" font-size="17.3" fill="#111" textLength="75.5" lengthAdjust="spacingAndGlyphs" >Na cluster</text><text x="1080.00" y="103.20" font-size="17.3" fill="#111" textLength="53" lengthAdjust="spacingAndGlyphs" >Detach</text><text x="1031.90" y="180.40" font-size="17.3" fill="#111" textLength="56.4" lengthAdjust="spacingAndGlyphs" >Uneven</text><rect x="1144.70" y="70.40" width="46.30" height="121.20" fill="#808080" stroke="none" stroke-width="1" filter="url(#fblur1)"/><path d="M1100.4,130.7 L1134.4,116.69999999999999 L1128.96,125.89999999999999 L1187.3,125.89999999999999 L1187.3,135.5 L1128.96,135.5 L1134.4,144.7 Z" fill="#5b9bd5" stroke="none" stroke-width="1" /><circle cx="1202.00" cy="96.00" r="8.00" fill="#2f5e1e" stroke="none" stroke-width="0" /><circle cx="1201.40" cy="95.40" r="7.60" fill="#62a044" stroke="none" stroke-width="0" /><circle cx="1222.70" cy="96.00" r="8.00" fill="#4e7a3c" stroke="none" stroke-width="0" /><circle cx="1222.10" cy="95.40" r="7.60" fill="#7aa862" stroke="none" stroke-width="0" /><circle cx="1243.30" cy="96.00" r="8.00" fill="#7a9a6a" stroke="none" stroke-width="0" /><circle cx="1242.70" cy="95.40" r="7.60" fill="#98b888" stroke="none" stroke-width="0" /><circle cx="1264.00" cy="96.00" r="8.00" fill="#b8c8ae" stroke="none" stroke-width="0" /><circle cx="1263.40" cy="95.40" r="7.60" fill="#c9d8c0" stroke="none" stroke-width="0" /><circle cx="1202.00" cy="131.30" r="8.00" fill="#2f5e1e" stroke="none" stroke-width="0" /><circle cx="1201.40" cy="130.70" r="7.60" fill="#62a044" stroke="none" stroke-width="0" /><circle cx="1222.70" cy="131.30" r="8.00" fill="#4e7a3c" stroke="none" stroke-width="0" /><circle cx="1222.10" cy="130.70" r="7.60" fill="#7aa862" stroke="none" stroke-width="0" /><circle cx="1243.30" cy="131.30" r="8.00" fill="#7a9a6a" stroke="none" stroke-width="0" /><circle cx="1242.70" cy="130.70" r="7.60" fill="#98b888" stroke="none" stroke-width="0" /><circle cx="1264.00" cy="131.30" r="8.00" fill="#b8c8ae" stroke="none" stroke-width="0" /><circle cx="1263.40" cy="130.70" r="7.60" fill="#c9d8c0" stroke="none" stroke-width="0" /><circle cx="1202.00" cy="168.30" r="8.00" fill="#2f5e1e" stroke="none" stroke-width="0" /><circle cx="1201.40" cy="167.70" r="7.60" fill="#62a044" stroke="none" stroke-width="0" /><circle cx="1222.70" cy="168.30" r="8.00" fill="#4e7a3c" stroke="none" stroke-width="0" /><circle cx="1222.10" cy="167.70" r="7.60" fill="#7aa862" stroke="none" stroke-width="0" /><circle cx="1243.30" cy="168.30" r="8.00" fill="#7a9a6a" stroke="none" stroke-width="0" /><circle cx="1242.70" cy="167.70" r="7.60" fill="#98b888" stroke="none" stroke-width="0" /><circle cx="1264.00" cy="168.30" r="8.00" fill="#b8c8ae" stroke="none" stroke-width="0" /><circle cx="1263.40" cy="167.70" r="7.60" fill="#c9d8c0" stroke="none" stroke-width="0" /><rect x="1271.90" y="60.00" width="8.00" height="130.00" fill="#ffffff" stroke="none" stroke-width="1" /><text x="1216.00" y="83.10" font-size="17.3" fill="#111" >Na<tspan font-size="11" dy="-7">+</tspan></text><text x="1060.50" y="207.60" font-size="17.3" fill="#111" textLength="210.5" lengthAdjust="spacingAndGlyphs" >High electron cloud density</text><rect x="980.70" y="222.30" width="313.90" height="171.70" fill="none" stroke="#3355ee" stroke-width="1.5" /><text x="968.50" y="345.40" font-size="17.3" fill="#2244ff" textLength="73" lengthAdjust="spacingAndGlyphs" transform="rotate(-90 968.50 345.40)" ><tspan>Low </tspan><tspan font-style="italic">ε</tspan><tspan font-size="11.6" dy="4">c</tspan><tspan dy="-4"> CC</tspan></text><line x1="998.30" y1="252.30" x2="998.30" y2="366.70" stroke="#1a3cff" stroke-width="3.8" /><circle cx="998.30" cy="252.30" r="5.70" fill="#1a3cff" stroke="none" stroke-width="0" /><circle cx="998.30" cy="271.37" r="5.70" fill="#1a3cff" stroke="none" stroke-width="0" /><circle cx="998.30" cy="290.43" r="5.70" fill="#1a3cff" stroke="none" stroke-width="0" /><circle cx="998.30" cy="309.50" r="5.70" fill="#1a3cff" stroke="none" stroke-width="0" /><circle cx="998.30" cy="328.57" r="5.70" fill="#1a3cff" stroke="none" stroke-width="0" /><circle cx="998.30" cy="347.63" r="5.70" fill="#1a3cff" stroke="none" stroke-width="0" /><circle cx="998.30" cy="366.70" r="5.70" fill="#1a3cff" stroke="none" stroke-width="0" /><line x1="1023.30" y1="252.30" x2="1023.30" y2="366.70" stroke="#1a3cff" stroke-width="3.8" /><circle cx="1023.30" cy="252.30" r="5.70" fill="#1a3cff" stroke="none" stroke-width="0" /><circle cx="1023.30" cy="271.37" r="5.70" fill="#1a3cff" stroke="none" stroke-width="0" /><circle cx="1023.30" cy="290.43" r="5.70" fill="#1a3cff" stroke="none" stroke-width="0" /><circle cx="1023.30" cy="309.50" r="5.70" fill="#1a3cff" stroke="none" stroke-width="0" /><circle cx="1023.30" cy="328.57" r="5.70" fill="#1a3cff" stroke="none" stroke-width="0" /><circle cx="1023.30" cy="347.63" r="5.70" fill="#1a3cff" stroke="none" stroke-width="0" /><circle cx="1023.30" cy="366.70" r="5.70" fill="#1a3cff" stroke="none" stroke-width="0" /><circle cx="1041.30" cy="259.80" r="8.20" fill="#a47412" stroke="none" stroke-width="0" /><circle cx="1040.60" cy="259.00" r="7.90" fill="#f6b92b" stroke="none" stroke-width="0" /><circle cx="1058.90" cy="259.80" r="8.20" fill="#a47412" stroke="none" stroke-width="0" /><circle cx="1058.20" cy="259.00" r="7.90" fill="#f6b92b" stroke="none" stroke-width="0" /><circle cx="1041.30" cy="278.80" r="8.20" fill="#a47412" stroke="none" stroke-width="0" /><circle cx="1040.60" cy="278.00" r="7.90" fill="#f6b92b" stroke="none" stroke-width="0" /><circle cx="1058.90" cy="278.80" r="8.20" fill="#a47412" stroke="none" stroke-width="0" /><circle cx="1058.20" cy="278.00" r="7.90" fill="#f6b92b" stroke="none" stroke-width="0" /><circle cx="1041.30" cy="298.80" r="8.20" fill="#a47412" stroke="none" stroke-width="0" /><circle cx="1040.60" cy="298.00" r="7.90" fill="#f6b92b" stroke="none" stroke-width="0" /><circle cx="1058.90" cy="298.80" r="8.20" fill="#a47412" stroke="none" stroke-width="0" /><circle cx="1058.20" cy="298.00" r="7.90" fill="#f6b92b" stroke="none" stroke-width="0" /><circle cx="1041.30" cy="318.50" r="8.20" fill="#a47412" stroke="none" stroke-width="0" /><circle cx="1040.60" cy="317.70" r="7.90" fill="#f6b92b" stroke="none" stroke-width="0" /><circle cx="1058.90" cy="318.50" r="8.20" fill="#a47412" stroke="none" stroke-width="0" /><circle cx="1058.20" cy="317.70" r="7.90" fill="#f6b92b" stroke="none" stroke-width="0" /><circle cx="1041.30" cy="336.80" r="8.20" fill="#a47412" stroke="none" stroke-width="0" /><circle cx="1040.60" cy="336.00" r="7.90" fill="#f6b92b" stroke="none" stroke-width="0" /><circle cx="1058.90" cy="336.80" r="8.20" fill="#a47412" stroke="none" stroke-width="0" /><circle cx="1058.20" cy="336.00" r="7.90" fill="#f6b92b" stroke="none" stroke-width="0" /><circle cx="1041.30" cy="356.60" r="8.20" fill="#a47412" stroke="none" stroke-width="0" /><circle cx="1040.60" cy="355.80" r="7.90" fill="#f6b92b" stroke="none" stroke-width="0" /><circle cx="1058.90" cy="356.60" r="8.20" fill="#a47412" stroke="none" stroke-width="0" /><circle cx="1058.20" cy="355.80" r="7.90" fill="#f6b92b" stroke="none" stroke-width="0" /><text x="1013.60" y="244.30" font-size="17.3" fill="#111" textLength="59.5" lengthAdjust="spacingAndGlyphs" >Uniform</text><rect x="1074.60" y="247.30" width="116.40" height="121.70" fill="#e6e6e6" stroke="none" stroke-width="1" filter="url(#fblur1)"/><path d="M1101.6,306 L1140.1,290.4 L1133.9399999999998,300.9 L1193.4,300.9 L1193.4,311.1 L1133.9399999999998,311.1 L1140.1,321.6 Z" fill="#5b9bd5" stroke="none" stroke-width="1" /><circle cx="1202.00" cy="271.90" r="8.00" fill="#2f5e1e" stroke="none" stroke-width="0" /><circle cx="1201.40" cy="271.30" r="7.60" fill="#62a044" stroke="none" stroke-width="0" /><circle cx="1222.70" cy="271.90" r="8.00" fill="#4e7a3c" stroke="none" stroke-width="0" /><circle cx="1222.10" cy="271.30" r="7.60" fill="#7aa862" stroke="none" stroke-width="0" /><circle cx="1243.30" cy="271.90" r="8.00" fill="#7a9a6a" stroke="none" stroke-width="0" /><circle cx="1242.70" cy="271.30" r="7.60" fill="#98b888" stroke="none" stroke-width="0" /><circle cx="1264.00" cy="271.90" r="8.00" fill="#b8c8ae" stroke="none" stroke-width="0" /><circle cx="1263.40" cy="271.30" r="7.60" fill="#c9d8c0" stroke="none" stroke-width="0" /><circle cx="1202.00" cy="307.10" r="8.00" fill="#2f5e1e" stroke="none" stroke-width="0" /><circle cx="1201.40" cy="306.50" r="7.60" fill="#62a044" stroke="none" stroke-width="0" /><circle cx="1222.70" cy="307.10" r="8.00" fill="#4e7a3c" stroke="none" stroke-width="0" /><circle cx="1222.10" cy="306.50" r="7.60" fill="#7aa862" stroke="none" stroke-width="0" /><circle cx="1243.30" cy="307.10" r="8.00" fill="#7a9a6a" stroke="none" stroke-width="0" /><circle cx="1242.70" cy="306.50" r="7.60" fill="#98b888" stroke="none" stroke-width="0" /><circle cx="1264.00" cy="307.10" r="8.00" fill="#b8c8ae" stroke="none" stroke-width="0" /><circle cx="1263.40" cy="306.50" r="7.60" fill="#c9d8c0" stroke="none" stroke-width="0" /><circle cx="1202.00" cy="343.80" r="8.00" fill="#2f5e1e" stroke="none" stroke-width="0" /><circle cx="1201.40" cy="343.20" r="7.60" fill="#62a044" stroke="none" stroke-width="0" /><circle cx="1222.70" cy="343.80" r="8.00" fill="#4e7a3c" stroke="none" stroke-width="0" /><circle cx="1222.10" cy="343.20" r="7.60" fill="#7aa862" stroke="none" stroke-width="0" /><circle cx="1243.30" cy="343.80" r="8.00" fill="#7a9a6a" stroke="none" stroke-width="0" /><circle cx="1242.70" cy="343.20" r="7.60" fill="#98b888" stroke="none" stroke-width="0" /><circle cx="1264.00" cy="343.80" r="8.00" fill="#b8c8ae" stroke="none" stroke-width="0" /><circle cx="1263.40" cy="343.20" r="7.60" fill="#c9d8c0" stroke="none" stroke-width="0" /><rect x="1271.90" y="255.00" width="8.00" height="100.00" fill="#ffffff" stroke="none" stroke-width="1" /><text x="1216.00" y="259.00" font-size="17.3" fill="#111" >Na<tspan font-size="11" dy="-7">+</tspan></text><text x="1066.40" y="388.50" font-size="17.3" fill="#111" textLength="204.6" lengthAdjust="spacingAndGlyphs" >Low electron cloud density</text><text x="13.00" y="440.70" font-size="22.5" fill="#000" font-weight="bold" stroke="#000" stroke-width="1.1">d</text><text x="153.00" y="446.00" font-size="17.3" fill="#111" text-anchor="middle" textLength="124" lengthAdjust="spacingAndGlyphs" >CC–Na interface</text><text x="375.00" y="446.00" font-size="17.3" fill="#111" text-anchor="middle" textLength="182" lengthAdjust="spacingAndGlyphs" >Na–electrolyte interface</text><line x1="189.60" y1="452.50" x2="189.60" y2="460.90" stroke="#8fa6f7" stroke-width="1.8" /><polygon points="189.60,466.50 185.60,459.50 193.60,459.50" fill="#8fa6f7" /><line x1="295.40" y1="452.50" x2="295.40" y2="460.90" stroke="#f5cdb8" stroke-width="1.8" /><polygon points="295.40,466.50 291.40,459.50 299.40,459.50" fill="#f5cdb8" /><g clip-path="url(#clipD)"><rect x="60.00" y="460.00" width="112.30" height="140.00" fill="#8fa6f7" stroke="none" stroke-width="1" /><rect x="172.30" y="460.00" width="35.20" height="140.00" fill="url(#gIntD1)" stroke="none" stroke-width="1" /><rect x="207.50" y="460.00" width="71.00" height="140.00" fill="#ffffff" stroke="none" stroke-width="1" /><rect x="278.50" y="460.00" width="35.00" height="140.00" fill="url(#gIntD2)" stroke="none" stroke-width="1" /><rect x="313.50" y="460.00" width="170.00" height="140.00" fill="#f7dccb" stroke="none" stroke-width="1" /></g><circle cx="179.60" cy="477.10" r="5.30" fill="#a87a14" stroke="none" stroke-width="0" /><circle cx="179.10" cy="476.50" r="5.00" fill="#f6b92b" stroke="none" stroke-width="0" /><circle cx="179.60" cy="488.45" r="5.30" fill="#a87a14" stroke="none" stroke-width="0" /><circle cx="179.10" cy="487.85" r="5.00" fill="#f6b92b" stroke="none" stroke-width="0" /><circle cx="179.60" cy="499.80" r="5.30" fill="#a87a14" stroke="none" stroke-width="0" /><circle cx="179.10" cy="499.20" r="5.00" fill="#f6b92b" stroke="none" stroke-width="0" /><circle cx="179.60" cy="511.15" r="5.30" fill="#a87a14" stroke="none" stroke-width="0" /><circle cx="179.10" cy="510.55" r="5.00" fill="#f6b92b" stroke="none" stroke-width="0" /><circle cx="179.60" cy="522.50" r="5.30" fill="#a87a14" stroke="none" stroke-width="0" /><circle cx="179.10" cy="521.90" r="5.00" fill="#f6b92b" stroke="none" stroke-width="0" /><circle cx="179.60" cy="533.85" r="5.30" fill="#a87a14" stroke="none" stroke-width="0" /><circle cx="179.10" cy="533.25" r="5.00" fill="#f6b92b" stroke="none" stroke-width="0" /><circle cx="179.60" cy="545.20" r="5.30" fill="#a87a14" stroke="none" stroke-width="0" /><circle cx="179.10" cy="544.60" r="5.00" fill="#f6b92b" stroke="none" stroke-width="0" /><circle cx="179.60" cy="556.55" r="5.30" fill="#a87a14" stroke="none" stroke-width="0" /><circle cx="179.10" cy="555.95" r="5.00" fill="#f6b92b" stroke="none" stroke-width="0" /><circle cx="179.60" cy="567.90" r="5.30" fill="#a87a14" stroke="none" stroke-width="0" /><circle cx="179.10" cy="567.30" r="5.00" fill="#f6b92b" stroke="none" stroke-width="0" /><circle cx="179.60" cy="579.25" r="5.30" fill="#a87a14" stroke="none" stroke-width="0" /><circle cx="179.10" cy="578.65" r="5.00" fill="#f6b92b" stroke="none" stroke-width="0" /><circle cx="190.90" cy="484.20" r="5.30" fill="#a87a14" stroke="none" stroke-width="0" /><circle cx="190.40" cy="483.60" r="5.00" fill="#f6b92b" stroke="none" stroke-width="0" /><circle cx="190.90" cy="495.55" r="5.30" fill="#a87a14" stroke="none" stroke-width="0" /><circle cx="190.40" cy="494.95" r="5.00" fill="#f6b92b" stroke="none" stroke-width="0" /><circle cx="190.90" cy="506.90" r="5.30" fill="#a87a14" stroke="none" stroke-width="0" /><circle cx="190.40" cy="506.30" r="5.00" fill="#f6b92b" stroke="none" stroke-width="0" /><circle cx="190.90" cy="518.25" r="5.30" fill="#a87a14" stroke="none" stroke-width="0" /><circle cx="190.40" cy="517.65" r="5.00" fill="#f6b92b" stroke="none" stroke-width="0" /><circle cx="190.90" cy="529.60" r="5.30" fill="#a87a14" stroke="none" stroke-width="0" /><circle cx="190.40" cy="529.00" r="5.00" fill="#f6b92b" stroke="none" stroke-width="0" /><circle cx="190.90" cy="540.95" r="5.30" fill="#a87a14" stroke="none" stroke-width="0" /><circle cx="190.40" cy="540.35" r="5.00" fill="#f6b92b" stroke="none" stroke-width="0" /><circle cx="190.90" cy="552.30" r="5.30" fill="#a87a14" stroke="none" stroke-width="0" /><circle cx="190.40" cy="551.70" r="5.00" fill="#f6b92b" stroke="none" stroke-width="0" /><circle cx="190.90" cy="563.65" r="5.30" fill="#a87a14" stroke="none" stroke-width="0" /><circle cx="190.40" cy="563.05" r="5.00" fill="#f6b92b" stroke="none" stroke-width="0" /><circle cx="190.90" cy="575.00" r="5.30" fill="#a87a14" stroke="none" stroke-width="0" /><circle cx="190.40" cy="574.40" r="5.00" fill="#f6b92b" stroke="none" stroke-width="0" /><circle cx="190.90" cy="586.35" r="5.30" fill="#a87a14" stroke="none" stroke-width="0" /><circle cx="190.40" cy="585.75" r="5.00" fill="#f6b92b" stroke="none" stroke-width="0" /><circle cx="202.50" cy="477.10" r="5.30" fill="#a87a14" stroke="none" stroke-width="0" /><circle cx="202.00" cy="476.50" r="5.00" fill="#f6b92b" stroke="none" stroke-width="0" /><circle cx="202.50" cy="488.45" r="5.30" fill="#a87a14" stroke="none" stroke-width="0" /><circle cx="202.00" cy="487.85" r="5.00" fill="#f6b92b" stroke="none" stroke-width="0" /><circle cx="202.50" cy="499.80" r="5.30" fill="#a87a14" stroke="none" stroke-width="0" /><circle cx="202.00" cy="499.20" r="5.00" fill="#f6b92b" stroke="none" stroke-width="0" /><circle cx="202.50" cy="511.15" r="5.30" fill="#a87a14" stroke="none" stroke-width="0" /><circle cx="202.00" cy="510.55" r="5.00" fill="#f6b92b" stroke="none" stroke-width="0" /><circle cx="202.50" cy="522.50" r="5.30" fill="#a87a14" stroke="none" stroke-width="0" /><circle cx="202.00" cy="521.90" r="5.00" fill="#f6b92b" stroke="none" stroke-width="0" /><circle cx="202.50" cy="533.85" r="5.30" fill="#a87a14" stroke="none" stroke-width="0" /><circle cx="202.00" cy="533.25" r="5.00" fill="#f6b92b" stroke="none" stroke-width="0" /><circle cx="202.50" cy="545.20" r="5.30" fill="#a87a14" stroke="none" stroke-width="0" /><circle cx="202.00" cy="544.60" r="5.00" fill="#f6b92b" stroke="none" stroke-width="0" /><circle cx="202.50" cy="556.55" r="5.30" fill="#a87a14" stroke="none" stroke-width="0" /><circle cx="202.00" cy="555.95" r="5.00" fill="#f6b92b" stroke="none" stroke-width="0" /><circle cx="202.50" cy="567.90" r="5.30" fill="#a87a14" stroke="none" stroke-width="0" /><circle cx="202.00" cy="567.30" r="5.00" fill="#f6b92b" stroke="none" stroke-width="0" /><circle cx="202.50" cy="579.25" r="5.30" fill="#a87a14" stroke="none" stroke-width="0" /><circle cx="202.00" cy="578.65" r="5.00" fill="#f6b92b" stroke="none" stroke-width="0" /><circle cx="214.50" cy="484.20" r="5.30" fill="#a87a14" stroke="none" stroke-width="0" /><circle cx="214.00" cy="483.60" r="5.00" fill="#f6b92b" stroke="none" stroke-width="0" /><circle cx="214.50" cy="495.55" r="5.30" fill="#a87a14" stroke="none" stroke-width="0" /><circle cx="214.00" cy="494.95" r="5.00" fill="#f6b92b" stroke="none" stroke-width="0" /><circle cx="214.50" cy="506.90" r="5.30" fill="#a87a14" stroke="none" stroke-width="0" /><circle cx="214.00" cy="506.30" r="5.00" fill="#f6b92b" stroke="none" stroke-width="0" /><circle cx="214.50" cy="518.25" r="5.30" fill="#a87a14" stroke="none" stroke-width="0" /><circle cx="214.00" cy="517.65" r="5.00" fill="#f6b92b" stroke="none" stroke-width="0" /><circle cx="214.50" cy="529.60" r="5.30" fill="#a87a14" stroke="none" stroke-width="0" /><circle cx="214.00" cy="529.00" r="5.00" fill="#f6b92b" stroke="none" stroke-width="0" /><circle cx="214.50" cy="540.95" r="5.30" fill="#a87a14" stroke="none" stroke-width="0" /><circle cx="214.00" cy="540.35" r="5.00" fill="#f6b92b" stroke="none" stroke-width="0" /><circle cx="214.50" cy="552.30" r="5.30" fill="#a87a14" stroke="none" stroke-width="0" /><circle cx="214.00" cy="551.70" r="5.00" fill="#f6b92b" stroke="none" stroke-width="0" /><circle cx="214.50" cy="563.65" r="5.30" fill="#a87a14" stroke="none" stroke-width="0" /><circle cx="214.00" cy="563.05" r="5.00" fill="#f6b92b" stroke="none" stroke-width="0" /><circle cx="214.50" cy="575.00" r="5.30" fill="#a87a14" stroke="none" stroke-width="0" /><circle cx="214.00" cy="574.40" r="5.00" fill="#f6b92b" stroke="none" stroke-width="0" /><circle cx="214.50" cy="586.35" r="5.30" fill="#a87a14" stroke="none" stroke-width="0" /><circle cx="214.00" cy="585.75" r="5.00" fill="#f6b92b" stroke="none" stroke-width="0" /><circle cx="225.70" cy="477.10" r="5.30" fill="#a87a14" stroke="none" stroke-width="0" /><circle cx="225.20" cy="476.50" r="5.00" fill="#f6b92b" stroke="none" stroke-width="0" /><circle cx="225.70" cy="488.45" r="5.30" fill="#a87a14" stroke="none" stroke-width="0" /><circle cx="225.20" cy="487.85" r="5.00" fill="#f6b92b" stroke="none" stroke-width="0" /><circle cx="225.70" cy="499.80" r="5.30" fill="#a87a14" stroke="none" stroke-width="0" /><circle cx="225.20" cy="499.20" r="5.00" fill="#f6b92b" stroke="none" stroke-width="0" /><circle cx="225.70" cy="511.15" r="5.30" fill="#a87a14" stroke="none" stroke-width="0" /><circle cx="225.20" cy="510.55" r="5.00" fill="#f6b92b" stroke="none" stroke-width="0" /><circle cx="225.70" cy="522.50" r="5.30" fill="#a87a14" stroke="none" stroke-width="0" /><circle cx="225.20" cy="521.90" r="5.00" fill="#f6b92b" stroke="none" stroke-width="0" /><circle cx="225.70" cy="533.85" r="5.30" fill="#a87a14" stroke="none" stroke-width="0" /><circle cx="225.20" cy="533.25" r="5.00" fill="#f6b92b" stroke="none" stroke-width="0" /><circle cx="225.70" cy="545.20" r="5.30" fill="#a87a14" stroke="none" stroke-width="0" /><circle cx="225.20" cy="544.60" r="5.00" fill="#f6b92b" stroke="none" stroke-width="0" /><circle cx="225.70" cy="556.55" r="5.30" fill="#a87a14" stroke="none" stroke-width="0" /><circle cx="225.20" cy="555.95" r="5.00" fill="#f6b92b" stroke="none" stroke-width="0" /><circle cx="225.70" cy="567.90" r="5.30" fill="#a87a14" stroke="none" stroke-width="0" /><circle cx="225.20" cy="567.30" r="5.00" fill="#f6b92b" stroke="none" stroke-width="0" /><circle cx="225.70" cy="579.25" r="5.30" fill="#a87a14" stroke="none" stroke-width="0" /><circle cx="225.20" cy="578.65" r="5.00" fill="#f6b92b" stroke="none" stroke-width="0" /><circle cx="237.60" cy="484.20" r="5.30" fill="#a87a14" stroke="none" stroke-width="0" /><circle cx="237.10" cy="483.60" r="5.00" fill="#f6b92b" stroke="none" stroke-width="0" /><circle cx="237.60" cy="495.55" r="5.30" fill="#a87a14" stroke="none" stroke-width="0" /><circle cx="237.10" cy="494.95" r="5.00" fill="#f6b92b" stroke="none" stroke-width="0" /><circle cx="237.60" cy="506.90" r="5.30" fill="#a87a14" stroke="none" stroke-width="0" /><circle cx="237.10" cy="506.30" r="5.00" fill="#f6b92b" stroke="none" stroke-width="0" /><circle cx="237.60" cy="518.25" r="5.30" fill="#a87a14" stroke="none" stroke-width="0" /><circle cx="237.10" cy="517.65" r="5.00" fill="#f6b92b" stroke="none" stroke-width="0" /><circle cx="237.60" cy="529.60" r="5.30" fill="#a87a14" stroke="none" stroke-width="0" /><circle cx="237.10" cy="529.00" r="5.00" fill="#f6b92b" stroke="none" stroke-width="0" /><circle cx="237.60" cy="540.95" r="5.30" fill="#a87a14" stroke="none" stroke-width="0" /><circle cx="237.10" cy="540.35" r="5.00" fill="#f6b92b" stroke="none" stroke-width="0" /><circle cx="237.60" cy="552.30" r="5.30" fill="#a87a14" stroke="none" stroke-width="0" /><circle cx="237.10" cy="551.70" r="5.00" fill="#f6b92b" stroke="none" stroke-width="0" /><circle cx="237.60" cy="563.65" r="5.30" fill="#a87a14" stroke="none" stroke-width="0" /><circle cx="237.10" cy="563.05" r="5.00" fill="#f6b92b" stroke="none" stroke-width="0" /><circle cx="237.60" cy="575.00" r="5.30" fill="#a87a14" stroke="none" stroke-width="0" /><circle cx="237.10" cy="574.40" r="5.00" fill="#f6b92b" stroke="none" stroke-width="0" /><circle cx="237.60" cy="586.35" r="5.30" fill="#a87a14" stroke="none" stroke-width="0" /><circle cx="237.10" cy="585.75" r="5.00" fill="#f6b92b" stroke="none" stroke-width="0" /><circle cx="249.00" cy="477.10" r="5.30" fill="#a87a14" stroke="none" stroke-width="0" /><circle cx="248.50" cy="476.50" r="5.00" fill="#f6b92b" stroke="none" stroke-width="0" /><circle cx="249.00" cy="488.45" r="5.30" fill="#a87a14" stroke="none" stroke-width="0" /><circle cx="248.50" cy="487.85" r="5.00" fill="#f6b92b" stroke="none" stroke-width="0" /><circle cx="249.00" cy="499.80" r="5.30" fill="#a87a14" stroke="none" stroke-width="0" /><circle cx="248.50" cy="499.20" r="5.00" fill="#f6b92b" stroke="none" stroke-width="0" /><circle cx="249.00" cy="511.15" r="5.30" fill="#a87a14" stroke="none" stroke-width="0" /><circle cx="248.50" cy="510.55" r="5.00" fill="#f6b92b" stroke="none" stroke-width="0" /><circle cx="249.00" cy="522.50" r="5.30" fill="#a87a14" stroke="none" stroke-width="0" /><circle cx="248.50" cy="521.90" r="5.00" fill="#f6b92b" stroke="none" stroke-width="0" /><circle cx="249.00" cy="533.85" r="5.30" fill="#a87a14" stroke="none" stroke-width="0" /><circle cx="248.50" cy="533.25" r="5.00" fill="#f6b92b" stroke="none" stroke-width="0" /><circle cx="249.00" cy="545.20" r="5.30" fill="#a87a14" stroke="none" stroke-width="0" /><circle cx="248.50" cy="544.60" r="5.00" fill="#f6b92b" stroke="none" stroke-width="0" /><circle cx="249.00" cy="556.55" r="5.30" fill="#a87a14" stroke="none" stroke-width="0" /><circle cx="248.50" cy="555.95" r="5.00" fill="#f6b92b" stroke="none" stroke-width="0" /><circle cx="249.00" cy="567.90" r="5.30" fill="#a87a14" stroke="none" stroke-width="0" /><circle cx="248.50" cy="567.30" r="5.00" fill="#f6b92b" stroke="none" stroke-width="0" /><circle cx="249.00" cy="579.25" r="5.30" fill="#a87a14" stroke="none" stroke-width="0" /><circle cx="248.50" cy="578.65" r="5.00" fill="#f6b92b" stroke="none" stroke-width="0" /><circle cx="260.60" cy="484.20" r="5.30" fill="#a87a14" stroke="none" stroke-width="0" /><circle cx="260.10" cy="483.60" r="5.00" fill="#f6b92b" stroke="none" stroke-width="0" /><circle cx="260.60" cy="495.55" r="5.30" fill="#a87a14" stroke="none" stroke-width="0" /><circle cx="260.10" cy="494.95" r="5.00" fill="#f6b92b" stroke="none" stroke-width="0" /><circle cx="260.60" cy="506.90" r="5.30" fill="#a87a14" stroke="none" stroke-width="0" /><circle cx="260.10" cy="506.30" r="5.00" fill="#f6b92b" stroke="none" stroke-width="0" /><circle cx="260.60" cy="518.25" r="5.30" fill="#a87a14" stroke="none" stroke-width="0" /><circle cx="260.10" cy="517.65" r="5.00" fill="#f6b92b" stroke="none" stroke-width="0" /><circle cx="260.60" cy="529.60" r="5.30" fill="#a87a14" stroke="none" stroke-width="0" /><circle cx="260.10" cy="529.00" r="5.00" fill="#f6b92b" stroke="none" stroke-width="0" /><circle cx="260.60" cy="540.95" r="5.30" fill="#a87a14" stroke="none" stroke-width="0" /><circle cx="260.10" cy="540.35" r="5.00" fill="#f6b92b" stroke="none" stroke-width="0" /><circle cx="260.60" cy="552.30" r="5.30" fill="#a87a14" stroke="none" stroke-width="0" /><circle cx="260.10" cy="551.70" r="5.00" fill="#f6b92b" stroke="none" stroke-width="0" /><circle cx="260.60" cy="563.65" r="5.30" fill="#a87a14" stroke="none" stroke-width="0" /><circle cx="260.10" cy="563.05" r="5.00" fill="#f6b92b" stroke="none" stroke-width="0" /><circle cx="260.60" cy="575.00" r="5.30" fill="#a87a14" stroke="none" stroke-width="0" /><circle cx="260.10" cy="574.40" r="5.00" fill="#f6b92b" stroke="none" stroke-width="0" /><circle cx="260.60" cy="586.35" r="5.30" fill="#a87a14" stroke="none" stroke-width="0" /><circle cx="260.10" cy="585.75" r="5.00" fill="#f6b92b" stroke="none" stroke-width="0" /><circle cx="272.20" cy="477.10" r="5.30" fill="#a87a14" stroke="none" stroke-width="0" /><circle cx="271.70" cy="476.50" r="5.00" fill="#f6b92b" stroke="none" stroke-width="0" /><circle cx="272.20" cy="488.45" r="5.30" fill="#a87a14" stroke="none" stroke-width="0" /><circle cx="271.70" cy="487.85" r="5.00" fill="#f6b92b" stroke="none" stroke-width="0" /><circle cx="272.20" cy="499.80" r="5.30" fill="#a87a14" stroke="none" stroke-width="0" /><circle cx="271.70" cy="499.20" r="5.00" fill="#f6b92b" stroke="none" stroke-width="0" /><circle cx="272.20" cy="511.15" r="5.30" fill="#a87a14" stroke="none" stroke-width="0" /><circle cx="271.70" cy="510.55" r="5.00" fill="#f6b92b" stroke="none" stroke-width="0" /><circle cx="272.20" cy="522.50" r="5.30" fill="#a87a14" stroke="none" stroke-width="0" /><circle cx="271.70" cy="521.90" r="5.00" fill="#f6b92b" stroke="none" stroke-width="0" /><circle cx="272.20" cy="533.85" r="5.30" fill="#a87a14" stroke="none" stroke-width="0" /><circle cx="271.70" cy="533.25" r="5.00" fill="#f6b92b" stroke="none" stroke-width="0" /><circle cx="272.20" cy="545.20" r="5.30" fill="#a87a14" stroke="none" stroke-width="0" /><circle cx="271.70" cy="544.60" r="5.00" fill="#f6b92b" stroke="none" stroke-width="0" /><circle cx="272.20" cy="556.55" r="5.30" fill="#a87a14" stroke="none" stroke-width="0" /><circle cx="271.70" cy="555.95" r="5.00" fill="#f6b92b" stroke="none" stroke-width="0" /><circle cx="272.20" cy="567.90" r="5.30" fill="#a87a14" stroke="none" stroke-width="0" /><circle cx="271.70" cy="567.30" r="5.00" fill="#f6b92b" stroke="none" stroke-width="0" /><circle cx="272.20" cy="579.25" r="5.30" fill="#a87a14" stroke="none" stroke-width="0" /><circle cx="271.70" cy="578.65" r="5.00" fill="#f6b92b" stroke="none" stroke-width="0" /><circle cx="284.50" cy="484.20" r="5.30" fill="#a87a14" stroke="none" stroke-width="0" /><circle cx="284.00" cy="483.60" r="5.00" fill="#f6b92b" stroke="none" stroke-width="0" /><circle cx="284.50" cy="495.55" r="5.30" fill="#a87a14" stroke="none" stroke-width="0" /><circle cx="284.00" cy="494.95" r="5.00" fill="#f6b92b" stroke="none" stroke-width="0" /><circle cx="284.50" cy="506.90" r="5.30" fill="#a87a14" stroke="none" stroke-width="0" /><circle cx="284.00" cy="506.30" r="5.00" fill="#f6b92b" stroke="none" stroke-width="0" /><circle cx="284.50" cy="518.25" r="5.30" fill="#a87a14" stroke="none" stroke-width="0" /><circle cx="284.00" cy="517.65" r="5.00" fill="#f6b92b" stroke="none" stroke-width="0" /><circle cx="284.50" cy="529.60" r="5.30" fill="#a87a14" stroke="none" stroke-width="0" /><circle cx="284.00" cy="529.00" r="5.00" fill="#f6b92b" stroke="none" stroke-width="0" /><circle cx="284.50" cy="540.95" r="5.30" fill="#a87a14" stroke="none" stroke-width="0" /><circle cx="284.00" cy="540.35" r="5.00" fill="#f6b92b" stroke="none" stroke-width="0" /><circle cx="284.50" cy="552.30" r="5.30" fill="#a87a14" stroke="none" stroke-width="0" /><circle cx="284.00" cy="551.70" r="5.00" fill="#f6b92b" stroke="none" stroke-width="0" /><circle cx="284.50" cy="563.65" r="5.30" fill="#a87a14" stroke="none" stroke-width="0" /><circle cx="284.00" cy="563.05" r="5.00" fill="#f6b92b" stroke="none" stroke-width="0" /><circle cx="284.50" cy="575.00" r="5.30" fill="#a87a14" stroke="none" stroke-width="0" /><circle cx="284.00" cy="574.40" r="5.00" fill="#f6b92b" stroke="none" stroke-width="0" /><circle cx="284.50" cy="586.35" r="5.30" fill="#a87a14" stroke="none" stroke-width="0" /><circle cx="284.00" cy="585.75" r="5.00" fill="#f6b92b" stroke="none" stroke-width="0" /><circle cx="295.50" cy="477.10" r="5.30" fill="#a87a14" stroke="none" stroke-width="0" /><circle cx="295.00" cy="476.50" r="5.00" fill="#f6b92b" stroke="none" stroke-width="0" /><circle cx="295.50" cy="488.45" r="5.30" fill="#a87a14" stroke="none" stroke-width="0" /><circle cx="295.00" cy="487.85" r="5.00" fill="#f6b92b" stroke="none" stroke-width="0" /><circle cx="295.50" cy="499.80" r="5.30" fill="#a87a14" stroke="none" stroke-width="0" /><circle cx="295.00" cy="499.20" r="5.00" fill="#f6b92b" stroke="none" stroke-width="0" /><circle cx="295.50" cy="511.15" r="5.30" fill="#a87a14" stroke="none" stroke-width="0" /><circle cx="295.00" cy="510.55" r="5.00" fill="#f6b92b" stroke="none" stroke-width="0" /><circle cx="295.50" cy="522.50" r="5.30" fill="#a87a14" stroke="none" stroke-width="0" /><circle cx="295.00" cy="521.90" r="5.00" fill="#f6b92b" stroke="none" stroke-width="0" /><circle cx="295.50" cy="533.85" r="5.30" fill="#a87a14" stroke="none" stroke-width="0" /><circle cx="295.00" cy="533.25" r="5.00" fill="#f6b92b" stroke="none" stroke-width="0" /><circle cx="295.50" cy="545.20" r="5.30" fill="#a87a14" stroke="none" stroke-width="0" /><circle cx="295.00" cy="544.60" r="5.00" fill="#f6b92b" stroke="none" stroke-width="0" /><circle cx="295.50" cy="556.55" r="5.30" fill="#a87a14" stroke="none" stroke-width="0" /><circle cx="295.00" cy="555.95" r="5.00" fill="#f6b92b" stroke="none" stroke-width="0" /><circle cx="295.50" cy="567.90" r="5.30" fill="#a87a14" stroke="none" stroke-width="0" /><circle cx="295.00" cy="567.30" r="5.00" fill="#f6b92b" stroke="none" stroke-width="0" /><circle cx="295.50" cy="579.25" r="5.30" fill="#a87a14" stroke="none" stroke-width="0" /><circle cx="295.00" cy="578.65" r="5.00" fill="#f6b92b" stroke="none" stroke-width="0" /><circle cx="307.50" cy="484.20" r="5.30" fill="#a87a14" stroke="none" stroke-width="0" /><circle cx="307.00" cy="483.60" r="5.00" fill="#f6b92b" stroke="none" stroke-width="0" /><circle cx="307.50" cy="495.55" r="5.30" fill="#a87a14" stroke="none" stroke-width="0" /><circle cx="307.00" cy="494.95" r="5.00" fill="#f6b92b" stroke="none" stroke-width="0" /><circle cx="307.50" cy="506.90" r="5.30" fill="#a87a14" stroke="none" stroke-width="0" /><circle cx="307.00" cy="506.30" r="5.00" fill="#f6b92b" stroke="none" stroke-width="0" /><circle cx="307.50" cy="518.25" r="5.30" fill="#a87a14" stroke="none" stroke-width="0" /><circle cx="307.00" cy="517.65" r="5.00" fill="#f6b92b" stroke="none" stroke-width="0" /><circle cx="307.50" cy="529.60" r="5.30" fill="#a87a14" stroke="none" stroke-width="0" /><circle cx="307.00" cy="529.00" r="5.00" fill="#f6b92b" stroke="none" stroke-width="0" /><circle cx="307.50" cy="540.95" r="5.30" fill="#a87a14" stroke="none" stroke-width="0" /><circle cx="307.00" cy="540.35" r="5.00" fill="#f6b92b" stroke="none" stroke-width="0" /><circle cx="307.50" cy="552.30" r="5.30" fill="#a87a14" stroke="none" stroke-width="0" /><circle cx="307.00" cy="551.70" r="5.00" fill="#f6b92b" stroke="none" stroke-width="0" /><circle cx="307.50" cy="563.65" r="5.30" fill="#a87a14" stroke="none" stroke-width="0" /><circle cx="307.00" cy="563.05" r="5.00" fill="#f6b92b" stroke="none" stroke-width="0" /><circle cx="307.50" cy="575.00" r="5.30" fill="#a87a14" stroke="none" stroke-width="0" /><circle cx="307.00" cy="574.40" r="5.00" fill="#f6b92b" stroke="none" stroke-width="0" /><circle cx="307.50" cy="586.35" r="5.30" fill="#a87a14" stroke="none" stroke-width="0" /><circle cx="307.00" cy="585.75" r="5.00" fill="#f6b92b" stroke="none" stroke-width="0" /><rect x="197.00" y="523.30" width="86.70" height="23.70" fill="#ffffff" stroke="none" stroke-width="1" /><text x="240.30" y="541.00" font-size="17.3" fill="#111" text-anchor="middle" textLength="68" lengthAdjust="spacingAndGlyphs" >Na metal</text><line x1="27.00" y1="505.40" x2="65.00" y2="505.40" stroke="#7436a6" stroke-width="1.6" /><line x1="45.60" y1="505.40" x2="45.60" y2="532.40" stroke="#7436a6" stroke-width="1.6" /><line x1="45.60" y1="532.40" x2="80.00" y2="532.40" stroke="#7436a6" stroke-width="1.6" /><line x1="42.30" y1="495.00" x2="50.30" y2="495.00" stroke="#111" stroke-width="1.3" /><line x1="46.30" y1="491.00" x2="46.30" y2="499.00" stroke="#111" stroke-width="1.3" /><text x="124.50" y="518.50" font-size="16" fill="#111" text-anchor="middle" textLength="23" lengthAdjust="spacingAndGlyphs" >CC</text><text x="124.50" y="538.50" font-size="16" fill="#111" text-anchor="middle" >(<tspan font-style="italic">ε</tspan><tspan font-size="11.2" dy="3.5">c</tspan><tspan dy="-3.5">)</tspan></text><text x="394.00" y="528.00" font-size="17.3" fill="#111" text-anchor="middle" textLength="81" lengthAdjust="spacingAndGlyphs" >Electrolyte</text><text x="394.00" y="549.00" font-size="16" fill="#111" text-anchor="middle" >(<tspan font-style="italic">ε</tspan><tspan font-size="11.2" dy="3.5">e</tspan><tspan dy="-3.5">)</tspan></text><rect x="101.40" y="611.40" width="353.40" height="163.00" fill="none" stroke="#333" stroke-width="1.1" /><line x1="98.40" y1="774.77" x2="101.40" y2="774.77" stroke="#333" stroke-width="1" /><line x1="96.40" y1="754.40" x2="101.40" y2="754.40" stroke="#333" stroke-width="1" /><line x1="98.40" y1="734.03" x2="101.40" y2="734.03" stroke="#333" stroke-width="1" /><line x1="96.40" y1="713.67" x2="101.40" y2="713.67" stroke="#333" stroke-width="1" /><line x1="98.40" y1="693.30" x2="101.40" y2="693.30" stroke="#333" stroke-width="1" /><line x1="96.40" y1="672.93" x2="101.40" y2="672.93" stroke="#333" stroke-width="1" /><line x1="98.40" y1="652.57" x2="101.40" y2="652.57" stroke="#333" stroke-width="1" /><line x1="96.40" y1="632.20" x2="101.40" y2="632.20" stroke="#333" stroke-width="1" /><line x1="98.40" y1="611.83" x2="101.40" y2="611.83" stroke="#333" stroke-width="1" /><text x="87.50" y="759.90" font-size="15.5" fill="#111" text-anchor="end" >0</text><text x="87.50" y="719.17" font-size="15.5" fill="#111" text-anchor="end" >200</text><text x="87.50" y="678.43" font-size="15.5" fill="#111" text-anchor="end" >400</text><text x="87.50" y="637.70" font-size="15.5" fill="#111" text-anchor="end" >600</text><line x1="101.40" y1="774.40" x2="101.40" y2="779.40" stroke="#333" stroke-width="1" /><line x1="136.74" y1="774.40" x2="136.74" y2="777.40" stroke="#333" stroke-width="1" /><line x1="172.08" y1="774.40" x2="172.08" y2="779.40" stroke="#333" stroke-width="1" /><line x1="207.42" y1="774.40" x2="207.42" y2="777.40" stroke="#333" stroke-width="1" /><line x1="242.76" y1="774.40" x2="242.76" y2="779.40" stroke="#333" stroke-width="1" /><line x1="278.10" y1="774.40" x2="278.10" y2="777.40" stroke="#333" stroke-width="1" /><line x1="313.44" y1="774.40" x2="313.44" y2="779.40" stroke="#333" stroke-width="1" /><line x1="348.78" y1="774.40" x2="348.78" y2="777.40" stroke="#333" stroke-width="1" /><line x1="384.12" y1="774.40" x2="384.12" y2="779.40" stroke="#333" stroke-width="1" /><line x1="419.46" y1="774.40" x2="419.46" y2="777.40" stroke="#333" stroke-width="1" /><line x1="454.80" y1="774.40" x2="454.80" y2="779.40" stroke="#333" stroke-width="1" /><text x="101.40" y="799.50" font-size="15.5" fill="#111" text-anchor="middle" >0</text><text x="172.08" y="799.50" font-size="15.5" fill="#111" text-anchor="middle" >20</text><text x="242.76" y="799.50" font-size="15.5" fill="#111" text-anchor="middle" >40</text><text x="313.44" y="799.50" font-size="15.5" fill="#111" text-anchor="middle" >60</text><text x="384.12" y="799.50" font-size="15.5" fill="#111" text-anchor="middle" >80</text><text x="454.80" y="799.50" font-size="15.5" fill="#111" text-anchor="middle" >100</text><text x="275.50" y="821.00" font-size="16.5" fill="#111" text-anchor="middle" ><tspan font-style="italic">x</tspan> (nm)</text><text x="42.50" y="692.00" font-size="16.5" fill="#111" text-anchor="middle" transform="rotate(-90 42.50 692.00)" ><tspan font-style="italic">ρ</tspan> (C m<tspan font-size="11" dy="-6">−3</tspan><tspan dy="6">)</tspan></text><rect x="155.00" y="745.30" width="71.80" height="20.00" fill="#fbee78" stroke="#777" stroke-width="0.8" stroke-dasharray="1.5,1.5" /><path d="M170.31,754.40 L170.67,754.40 L171.02,754.40 L171.37,754.40 L171.73,754.40 L172.08,754.60 L172.43,754.65 L172.79,754.72 L173.14,754.80 L173.49,754.90 L173.85,755.02 L174.20,755.15 L174.55,755.32 L174.91,755.50 L175.26,755.72 L175.61,755.96 L175.97,756.23 L176.32,756.54 L176.67,756.87 L177.03,757.23 L177.38,757.62 L177.73,758.02 L178.09,758.45 L178.44,758.89 L178.79,759.34 L179.15,759.79 L179.50,760.23 L179.85,760.65 L180.21,761.05 L180.56,761.42 L180.92,761.75 L181.27,762.03 L181.62,762.25 L181.98,762.41 L182.33,762.51 L182.68,762.55 L183.04,762.54 L183.39,762.52 L183.74,762.48 L184.10,762.42 L184.45,762.36 L184.80,762.27 L185.16,762.18 L185.51,762.07 L185.86,761.95 L186.22,761.81 L186.57,761.67 L186.92,761.51 L187.28,761.34 L187.63,761.17 L187.98,760.99 L188.34,760.80 L188.69,760.60 L189.04,760.40 L189.40,760.19 L189.75,759.98 L190.10,759.77 L190.46,759.56 L190.81,759.34 L191.16,759.13 L191.52,758.91 L191.87,758.70 L192.22,758.49 L192.58,758.28 L192.93,758.08 L193.28,757.88 L193.64,757.68 L193.99,757.49 L194.34,757.31 L194.70,757.13 L195.05,756.96 L195.40,756.79 L195.76,756.63 L196.11,756.48 L196.46,756.33 L196.82,756.20 L197.17,756.06 L197.52,755.94 L197.88,755.82 L198.23,755.71 L198.59,755.60 L198.94,755.50 L199.29,755.41 L199.65,755.32 L200.00,755.24 L200.35,755.17 L200.71,755.10 L201.06,755.03 L201.41,754.97 L201.77,754.92 L202.12,754.87 L202.47,754.82 L202.83,754.78 L203.18,754.74 L203.53,754.70 L203.89,754.67 L204.24,754.64 L204.59,754.62 L204.95,754.59 L205.30,754.57 L205.65,754.55 L206.01,754.53 L206.36,754.52 L206.71,754.50 L207.07,754.49 L207.42,754.48 L207.77,754.47 L208.13,754.46 L208.48,754.45 L208.83,754.45 L209.19,754.44 L209.54,754.43 L209.89,754.43 L210.25,754.43 L210.60,754.42 L210.95,754.42 L211.31,754.42 L211.66,754.41 L212.01,754.41 L212.37,754.41 L212.72,754.41 L213.07,754.41 L213.43,754.41 L213.78,754.41 L214.13,754.40 L214.49,754.40 L214.84,754.40 L215.19,754.40 L215.55,754.40 L215.90,754.40 L216.26,754.40 L216.61,754.40 L216.96,754.40 L217.32,754.40 L217.67,754.40 L218.02,754.40" fill="none" stroke="#2233ee" stroke-width="2" /><path d="M278.10,754.40 L278.45,754.39 L278.81,754.39 L279.16,754.39 L279.51,754.39 L279.87,754.39 L280.22,754.38 L280.57,754.38 L280.93,754.37 L281.28,754.36 L281.63,754.35 L281.99,754.34 L282.34,754.32 L282.69,754.30 L283.05,754.27 L283.40,754.24 L283.75,754.20 L284.11,754.16 L284.46,754.10 L284.81,754.03 L285.17,753.95 L285.52,753.85 L285.87,753.73 L286.23,753.58 L286.58,753.41 L286.94,753.21 L287.29,752.98 L287.64,752.70 L288.00,752.37 L288.35,752.00 L288.70,751.56 L289.06,751.05 L289.41,750.48 L289.76,749.81 L290.12,749.06 L290.47,748.20 L290.82,747.23 L291.18,746.14 L291.53,744.92 L291.88,743.56 L292.24,742.05 L292.59,740.39 L292.94,738.55 L293.30,736.54 L293.65,734.35 L294.00,731.97 L294.36,729.41 L294.71,726.65 L295.06,723.70 L295.42,720.56 L295.77,717.24 L296.12,713.74 L296.48,710.07 L296.83,706.26 L297.18,702.30 L297.54,698.22 L297.89,694.05 L298.24,689.81 L298.60,685.52 L298.95,681.22 L299.30,676.93 L299.66,672.69 L300.01,668.54 L300.36,664.51 L300.72,660.63 L301.07,656.94 L301.42,653.48 L301.78,650.28 L302.13,647.37 L302.48,644.78 L302.84,642.55 L303.19,640.68 L303.54,639.21 L303.90,638.15 L304.25,637.51 L304.61,637.29 L304.96,638.33 L305.31,641.38 L305.67,646.30 L306.02,652.82 L306.37,660.63 L306.73,669.36 L307.08,678.64 L307.43,688.10 L307.79,697.40 L308.14,706.26 L308.49,714.45 L308.85,721.84 L309.20,728.33 L309.55,733.89 L309.91,738.55 L310.26,742.37 L310.61,745.43 L310.97,747.83 L311.32,749.67 L311.67,751.05 L312.03,752.08 L312.38,752.81 L312.73,753.34 L313.09,753.70 L313.44,753.95 L313.79,754.11 L314.15,754.22 L314.50,754.29 L314.85,754.33 L315.21,754.36 L315.56,754.38 L315.91,754.39 L316.27,754.39 L316.62,754.40 L316.97,754.40" fill="none" stroke="#2233ee" stroke-width="2" /><path d="M101.40,754.40 L101.75,754.40 L102.11,754.40 L102.46,754.40 L102.81,754.40 L103.17,754.40 L103.52,754.40 L103.87,754.40 L104.23,754.40 L104.58,754.40 L104.93,754.40 L105.29,754.40 L105.64,754.40 L105.99,754.40 L106.35,754.40 L106.70,754.40 L107.05,754.40 L107.41,754.40 L107.76,754.40 L108.11,754.40 L108.47,754.40 L108.82,754.40 L109.17,754.40 L109.53,754.40 L109.88,754.40 L110.24,754.40 L110.59,754.40 L110.94,754.40 L111.30,754.40 L111.65,754.40 L112.00,754.40 L112.36,754.40 L112.71,754.40 L113.06,754.40 L113.42,754.40 L113.77,754.40 L114.12,754.40 L114.48,754.40 L114.83,754.40 L115.18,754.40 L115.54,754.40 L115.89,754.40 L116.24,754.40 L116.60,754.40 L116.95,754.40 L117.30,754.40 L117.66,754.40 L118.01,754.40 L118.36,754.40 L118.72,754.40 L119.07,754.40 L119.42,754.40 L119.78,754.40 L120.13,754.40 L120.48,754.40 L120.84,754.40 L121.19,754.40 L121.54,754.40 L121.90,754.40 L122.25,754.40 L122.60,754.40 L122.96,754.40 L123.31,754.40 L123.66,754.40 L124.02,754.40 L124.37,754.40 L124.72,754.40 L125.08,754.40 L125.43,754.40 L125.78,754.40 L126.14,754.40 L126.49,754.40 L126.84,754.40 L127.20,754.40 L127.55,754.40 L127.90,754.40 L128.26,754.40 L128.61,754.40 L128.97,754.40 L129.32,754.40 L129.67,754.40 L130.03,754.40 L130.38,754.40 L130.73,754.40 L131.09,754.40 L131.44,754.40 L131.79,754.40 L132.15,754.40 L132.50,754.40 L132.85,754.40 L133.21,754.40 L133.56,754.40 L133.91,754.40 L134.27,754.40 L134.62,754.40 L134.97,754.40 L135.33,754.40 L135.68,754.40 L136.03,754.40 L136.39,754.40 L136.74,754.40 L137.09,754.40 L137.45,754.40 L137.80,754.40 L138.15,754.40 L138.51,754.40 L138.86,754.40 L139.21,754.40 L139.57,754.40 L139.92,754.40 L140.27,754.40 L140.63,754.40 L140.98,754.40 L141.33,754.40 L141.69,754.40 L142.04,754.40 L142.39,754.40 L142.75,754.40 L143.10,754.40 L143.45,754.40 L143.81,754.40 L144.16,754.40 L144.51,754.40 L144.87,754.40 L145.22,754.40 L145.57,754.40 L145.93,754.40 L146.28,754.40 L146.64,754.40 L146.99,754.40 L147.34,754.40 L147.70,754.40 L148.05,754.40 L148.40,754.40 L148.76,754.40 L149.11,754.40 L149.46,754.40 L149.82,754.40 L150.17,754.40 L150.52,754.40 L150.88,754.40 L151.23,754.40 L151.58,754.40 L151.94,754.40 L152.29,754.40 L152.64,754.40 L153.00,754.40 L153.35,754.40 L153.70,754.40 L154.06,754.40 L154.41,754.40 L154.76,754.40 L155.12,754.40 L155.47,754.40 L155.82,754.40 L156.18,754.40 L156.53,754.40 L156.88,754.40 L157.24,754.40 L157.59,754.40 L157.94,754.40 L158.30,754.40 L158.65,754.40 L159.00,754.40 L159.36,754.40 L159.71,754.40 L160.06,754.40 L160.42,754.40 L160.77,754.40 L161.12,754.40 L161.48,754.40 L161.83,754.40 L162.18,754.40 L162.54,754.40 L162.89,754.40 L163.24,754.40 L163.60,754.40 L163.95,754.40 L164.31,754.40 L164.66,754.40 L165.01,754.40 L165.37,754.40 L165.72,754.40 L166.07,754.40 L166.43,754.40 L166.78,754.40 L167.13,754.40 L167.49,754.40 L167.84,754.40 L168.19,754.40 L168.55,754.40 L168.90,754.40 L169.25,754.40 L169.61,754.40 L169.96,754.40 L170.31,754.40 L170.67,754.40 L171.02,754.40 L171.37,754.40 L171.73,754.40 L172.08,754.40 L172.43,754.40 L172.79,754.40 L173.14,754.40 L173.49,754.40 L173.85,754.40 L174.20,754.40 L174.55,754.40 L174.91,754.40 L175.26,754.40 L175.61,754.40 L175.97,754.40 L176.32,754.40 L176.67,754.40 L177.03,754.40 L177.38,754.40 L177.73,754.40 L178.09,754.40 L178.44,754.40 L178.79,754.40 L179.15,754.40 L179.50,754.40 L179.85,754.40 L180.21,754.40 L180.56,754.40 L180.92,754.40 L181.27,754.40 L181.62,754.40 L181.98,754.40 L182.33,754.40 L182.68,754.40 L183.04,754.40 L183.39,754.40 L183.74,754.40 L184.10,754.40 L184.45,754.40 L184.80,754.40 L185.16,754.40 L185.51,754.40 L185.86,754.40 L186.22,754.40 L186.57,754.40 L186.92,754.40 L187.28,754.39 L187.63,754.39 L187.98,754.39 L188.34,754.39 L188.69,754.38 L189.04,754.38 L189.40,754.37 L189.75,754.36 L190.10,754.35 L190.46,754.34 L190.81,754.33 L191.16,754.31 L191.52,754.29 L191.87,754.27 L192.22,754.24 L192.58,754.21 L192.93,754.18 L193.28,754.14 L193.64,754.10 L193.99,754.05 L194.34,753.99 L194.70,753.93 L195.05,753.87 L195.40,753.80 L195.76,753.73 L196.11,753.65 L196.46,753.58 L196.82,753.49 L197.17,753.41 L197.52,753.33 L197.88,753.25 L198.23,753.17 L198.59,753.10 L198.94,753.03 L199.29,752.96 L199.65,752.91 L200.00,752.86 L200.35,752.82 L200.71,752.79 L201.06,752.78 L201.41,752.77 L201.77,752.79 L202.12,752.84 L202.47,752.91 L202.83,753.02 L203.18,753.14 L203.53,753.27 L203.89,753.41 L204.24,753.55 L204.59,753.69 L204.95,753.81 L205.30,753.93 L205.65,754.03 L206.01,754.11 L206.36,754.18 L206.71,754.24 L207.07,754.28 L207.42,754.31 L207.77,754.34 L208.13,754.36 L208.48,754.37 L208.83,754.38 L209.19,754.39 L209.54,754.39 L209.89,754.40 L210.25,754.40 L210.60,754.40 L210.95,754.40 L211.31,754.40 L211.66,754.40 L212.01,754.40 L212.37,754.40 L212.72,754.40 L213.07,754.40 L213.43,754.40 L213.78,754.40 L214.13,754.40 L214.49,754.40 L214.84,754.40 L215.19,754.40 L215.55,754.40 L215.90,754.40 L216.26,754.40 L216.61,754.40 L216.96,754.40 L217.32,754.40 L217.67,754.40 L218.02,754.40 L218.38,754.40 L218.73,754.40 L219.08,754.40 L219.44,754.40 L219.79,754.40 L220.14,754.40 L220.50,754.40 L220.85,754.40 L221.20,754.40 L221.56,754.40 L221.91,754.40 L222.26,754.40 L222.62,754.40 L222.97,754.40 L223.32,754.40 L223.68,754.40 L224.03,754.40 L224.38,754.40 L224.74,754.40 L225.09,754.40 L225.44,754.40 L225.80,754.40 L226.15,754.40 L226.50,754.40 L226.86,754.40 L227.21,754.40 L227.56,754.40 L227.92,754.40 L228.27,754.40 L228.62,754.40 L228.98,754.40 L229.33,754.40 L229.68,754.40 L230.04,754.40 L230.39,754.40 L230.74,754.40 L231.10,754.40 L231.45,754.40 L231.80,754.40 L232.16,754.40 L232.51,754.40 L232.86,754.40 L233.22,754.40 L233.57,754.40 L233.93,754.40 L234.28,754.40 L234.63,754.40 L234.99,754.40 L235.34,754.40 L235.69,754.40 L236.05,754.40 L236.40,754.40 L236.75,754.40 L237.11,754.40 L237.46,754.40 L237.81,754.40 L238.17,754.40 L238.52,754.40 L238.87,754.40 L239.23,754.40 L239.58,754.40 L239.93,754.40 L240.29,754.40 L240.64,754.40 L240.99,754.40 L241.35,754.40 L241.70,754.40 L242.05,754.40 L242.41,754.40 L242.76,754.40 L243.11,754.40 L243.47,754.40 L243.82,754.40 L244.17,754.40 L244.53,754.40 L244.88,754.40 L245.23,754.40 L245.59,754.40 L245.94,754.40 L246.29,754.40 L246.65,754.40 L247.00,754.40 L247.35,754.40 L247.71,754.40 L248.06,754.40 L248.41,754.40 L248.77,754.40 L249.12,754.40 L249.47,754.40 L249.83,754.40 L250.18,754.40 L250.53,754.40 L250.89,754.40 L251.24,754.40 L251.60,754.40 L251.95,754.40 L252.30,754.40 L252.66,754.40 L253.01,754.40 L253.36,754.40 L253.72,754.40 L254.07,754.40 L254.42,754.40 L254.78,754.40 L255.13,754.40 L255.48,754.40 L255.84,754.40 L256.19,754.40 L256.54,754.40 L256.90,754.40 L257.25,754.40 L257.60,754.40 L257.96,754.40 L258.31,754.40 L258.66,754.40 L259.02,754.40 L259.37,754.40 L259.72,754.40 L260.08,754.40 L260.43,754.40 L260.78,754.40 L261.14,754.40 L261.49,754.40 L261.84,754.40 L262.20,754.40 L262.55,754.40 L262.90,754.40 L263.26,754.40 L263.61,754.40 L263.96,754.40 L264.32,754.40 L264.67,754.40 L265.02,754.40 L265.38,754.40 L265.73,754.40 L266.08,754.40 L266.44,754.40 L266.79,754.40 L267.14,754.40 L267.50,754.40 L267.85,754.40 L268.20,754.40 L268.56,754.40 L268.91,754.40 L269.27,754.40 L269.62,754.40 L269.97,754.40 L270.33,754.40 L270.68,754.40 L271.03,754.40 L271.39,754.40 L271.74,754.40 L272.09,754.40 L272.45,754.40 L272.80,754.40 L273.15,754.40 L273.51,754.40 L273.86,754.40 L274.21,754.40 L274.57,754.40 L274.92,754.40 L275.27,754.40 L275.63,754.40 L275.98,754.40 L276.33,754.40 L276.69,754.40 L277.04,754.39 L277.39,754.39 L277.75,754.39 L278.10,754.39 L278.45,754.38 L278.81,754.38 L279.16,754.37 L279.51,754.37 L279.87,754.36 L280.22,754.35 L280.57,754.33 L280.93,754.32 L281.28,754.30 L281.63,754.27 L281.99,754.24 L282.34,754.21 L282.69,754.16 L283.05,754.11 L283.40,754.05 L283.75,753.97 L284.11,753.88 L284.46,753.78 L284.81,753.65 L285.17,753.50 L285.52,753.33 L285.87,753.12 L286.23,752.88 L286.58,752.61 L286.94,752.29 L287.29,751.91 L287.64,751.49 L288.00,751.00 L288.35,750.44 L288.70,749.81 L289.06,749.09 L289.41,748.28 L289.76,747.37 L290.12,746.35 L290.47,745.21 L290.82,743.94 L291.18,742.54 L291.53,741.00 L291.88,739.30 L292.24,737.45 L292.59,735.43 L292.94,733.23 L293.30,730.86 L293.65,728.31 L294.00,725.58 L294.36,722.67 L294.71,719.57 L295.06,716.30 L295.42,712.86 L295.77,709.25 L296.12,705.49 L296.48,701.59 L296.83,697.57 L297.18,693.43 L297.54,689.21 L297.89,684.93 L298.24,680.60 L298.60,676.26 L298.95,671.93 L299.30,667.65 L299.66,663.45 L300.01,659.35 L300.36,655.39 L300.72,651.60 L301.07,648.01 L301.42,644.66 L301.78,641.57 L302.13,638.78 L302.48,636.29 L302.84,634.15 L303.19,632.37 L303.54,630.97 L303.90,629.96 L304.25,629.35 L304.61,629.15 L304.96,630.12 L305.31,633.00 L305.67,637.65 L306.02,643.86 L306.37,651.37 L306.73,659.85 L307.08,668.98 L307.43,678.43 L307.79,687.88 L308.14,697.05 L308.49,705.73 L308.85,713.74 L309.20,720.95 L309.55,727.31 L309.91,732.80 L310.26,737.45 L310.61,741.30 L310.97,744.43 L311.32,746.94 L311.67,748.90 L312.03,750.41 L312.38,751.54 L312.73,752.39 L313.09,753.01 L313.44,753.45 L313.79,753.76 L314.15,753.98 L314.50,754.13 L314.85,754.22 L315.21,754.29 L315.56,754.33 L315.91,754.36 L316.27,754.37 L316.62,754.39 L316.97,754.39 L317.33,754.39 L317.68,754.40 L318.03,754.40 L318.39,754.40 L318.74,754.40 L319.09,754.40 L319.45,754.40 L319.80,754.40 L320.15,754.40 L320.51,754.40 L320.86,754.40 L321.21,754.40 L321.57,754.40 L321.92,754.40 L322.28,754.40 L322.63,754.40 L322.98,754.40 L323.34,754.40 L323.69,754.40 L324.04,754.40 L324.40,754.40 L324.75,754.40 L325.10,754.40 L325.46,754.40 L325.81,754.40 L326.16,754.40 L326.52,754.40 L326.87,754.40 L327.22,754.40 L327.58,754.40 L327.93,754.40 L328.28,754.40 L328.64,754.40 L328.99,754.40 L329.34,754.40 L329.70,754.40 L330.05,754.40 L330.40,754.40 L330.76,754.40 L331.11,754.40 L331.46,754.40 L331.82,754.40 L332.17,754.40 L332.52,754.40 L332.88,754.40 L333.23,754.40 L333.58,754.40 L333.94,754.40 L334.29,754.40 L334.64,754.40 L335.00,754.40 L335.35,754.40 L335.70,754.40 L336.06,754.40 L336.41,754.40 L336.76,754.40 L337.12,754.40 L337.47,754.40 L337.82,754.40 L338.18,754.40 L338.53,754.40 L338.88,754.40 L339.24,754.40 L339.59,754.40 L339.95,754.40 L340.30,754.40 L340.65,754.40 L341.01,754.40 L341.36,754.40 L341.71,754.40 L342.07,754.40 L342.42,754.40 L342.77,754.40 L343.13,754.40 L343.48,754.40 L343.83,754.40 L344.19,754.40 L344.54,754.40 L344.89,754.40 L345.25,754.40 L345.60,754.40 L345.95,754.40 L346.31,754.40 L346.66,754.40 L347.01,754.40 L347.37,754.40 L347.72,754.40 L348.07,754.40 L348.43,754.40 L348.78,754.40 L349.13,754.40 L349.49,754.40 L349.84,754.40 L350.19,754.40 L350.55,754.40 L350.90,754.40 L351.25,754.40 L351.61,754.40 L351.96,754.40 L352.31,754.40 L352.67,754.40 L353.02,754.40 L353.37,754.40 L353.73,754.40 L354.08,754.40 L354.43,754.40 L354.79,754.40 L355.14,754.40 L355.49,754.40 L355.85,754.40 L356.20,754.40 L356.55,754.40 L356.91,754.40 L357.26,754.40 L357.62,754.40 L357.97,754.40 L358.32,754.40 L358.68,754.40 L359.03,754.40 L359.38,754.40 L359.74,754.40 L360.09,754.40 L360.44,754.40 L360.80,754.40 L361.15,754.40 L361.50,754.40 L361.86,754.40 L362.21,754.40 L362.56,754.40 L362.92,754.40 L363.27,754.40 L363.62,754.40 L363.98,754.40 L364.33,754.40 L364.68,754.40 L365.04,754.40 L365.39,754.40 L365.74,754.40 L366.10,754.40 L366.45,754.40 L366.80,754.40 L367.16,754.40 L367.51,754.40 L367.86,754.40 L368.22,754.40 L368.57,754.40 L368.92,754.40 L369.28,754.40 L369.63,754.40 L369.98,754.40 L370.34,754.40 L370.69,754.40 L371.04,754.40 L371.40,754.40 L371.75,754.40 L372.10,754.40 L372.46,754.40 L372.81,754.40 L373.16,754.40 L373.52,754.40 L373.87,754.40 L374.22,754.40 L374.58,754.40 L374.93,754.40 L375.28,754.40 L375.64,754.40 L375.99,754.40 L376.35,754.40 L376.70,754.40 L377.05,754.40 L377.41,754.40 L377.76,754.40 L378.11,754.40 L378.47,754.40 L378.82,754.40 L379.17,754.40 L379.53,754.40 L379.88,754.40 L380.23,754.40 L380.59,754.40 L380.94,754.40 L381.29,754.40 L381.65,754.40 L382.00,754.40 L382.35,754.40 L382.71,754.40 L383.06,754.40 L383.41,754.40 L383.77,754.40 L384.12,754.40 L384.47,754.40 L384.83,754.40 L385.18,754.40 L385.53,754.40 L385.89,754.40 L386.24,754.40 L386.59,754.40 L386.95,754.40 L387.30,754.40 L387.65,754.40 L388.01,754.40 L388.36,754.40 L388.71,754.40 L389.07,754.40 L389.42,754.40 L389.77,754.40 L390.13,754.40 L390.48,754.40 L390.83,754.40 L391.19,754.40 L391.54,754.40 L391.89,754.40 L392.25,754.40 L392.60,754.40 L392.95,754.40 L393.31,754.40 L393.66,754.40 L394.02,754.40 L394.37,754.40 L394.72,754.40 L395.08,754.40 L395.43,754.40 L395.78,754.40 L396.14,754.40 L396.49,754.40 L396.84,754.40 L397.20,754.40 L397.55,754.40 L397.90,754.40 L398.26,754.40 L398.61,754.40 L398.96,754.40 L399.32,754.40 L399.67,754.40 L400.02,754.40 L400.38,754.40 L400.73,754.40 L401.08,754.40 L401.44,754.40 L401.79,754.40 L402.14,754.40 L402.50,754.40 L402.85,754.40 L403.20,754.40 L403.56,754.40 L403.91,754.40 L404.26,754.40 L404.62,754.40 L404.97,754.40 L405.32,754.40 L405.68,754.40 L406.03,754.40 L406.38,754.40 L406.74,754.40 L407.09,754.40 L407.44,754.40 L407.80,754.40 L408.15,754.40 L408.50,754.40 L408.86,754.40 L409.21,754.40 L409.56,754.40 L409.92,754.40 L410.27,754.40 L410.62,754.40 L410.98,754.40 L411.33,754.40 L411.69,754.40 L412.04,754.40 L412.39,754.40 L412.75,754.40 L413.10,754.40 L413.45,754.40 L413.81,754.40 L414.16,754.40 L414.51,754.40 L414.87,754.40 L415.22,754.40 L415.57,754.40 L415.93,754.40 L416.28,754.40 L416.63,754.40 L416.99,754.40 L417.34,754.40 L417.69,754.40 L418.05,754.40 L418.40,754.40 L418.75,754.40 L419.11,754.40 L419.46,754.40 L419.81,754.40 L420.17,754.40 L420.52,754.40 L420.87,754.40 L421.23,754.40 L421.58,754.40 L421.93,754.40 L422.29,754.40 L422.64,754.40 L422.99,754.40 L423.35,754.40 L423.70,754.40 L424.05,754.40 L424.41,754.40 L424.76,754.40 L425.11,754.40 L425.47,754.40 L425.82,754.40 L426.17,754.40 L426.53,754.40 L426.88,754.40 L427.23,754.40 L427.59,754.40 L427.94,754.40 L428.29,754.40 L428.65,754.40 L429.00,754.40 L429.36,754.40 L429.71,754.40 L430.06,754.40 L430.42,754.40 L430.77,754.40 L431.12,754.40 L431.48,754.40 L431.83,754.40 L432.18,754.40 L432.54,754.40 L432.89,754.40 L433.24,754.40 L433.60,754.40 L433.95,754.40 L434.30,754.40 L434.66,754.40 L435.01,754.40 L435.36,754.40 L435.72,754.40 L436.07,754.40 L436.42,754.40 L436.78,754.40 L437.13,754.40 L437.48,754.40 L437.84,754.40 L438.19,754.40 L438.54,754.40 L438.90,754.40 L439.25,754.40 L439.60,754.40 L439.96,754.40 L440.31,754.40 L440.66,754.40 L441.02,754.40 L441.37,754.40 L441.72,754.40 L442.08,754.40 L442.43,754.40 L442.78,754.40 L443.14,754.40 L443.49,754.40 L443.84,754.40 L444.20,754.40 L444.55,754.40 L444.90,754.40 L445.26,754.40 L445.61,754.40 L445.96,754.40 L446.32,754.40 L446.67,754.40 L447.03,754.40 L447.38,754.40 L447.73,754.40 L448.09,754.40 L448.44,754.40 L448.79,754.40 L449.15,754.40 L449.50,754.40 L449.85,754.40 L450.21,754.40 L450.56,754.40 L450.91,754.40 L451.27,754.40 L451.62,754.40 L451.97,754.40 L452.33,754.40 L452.68,754.40 L453.03,754.40 L453.39,754.40 L453.74,754.40 L454.09,754.40 L454.45,754.40 L454.80,754.40" fill="none" stroke="#ee1c24" stroke-width="2.0" /><rect x="137.90" y="624.20" width="111.90" height="74.00" fill="#ffffff" stroke="#999" stroke-width="1" /><line x1="134.90" y1="624.45" x2="137.90" y2="624.45" stroke="#555" stroke-width="0.9" /><text x="133.90" y="629.45" font-size="14.5" fill="#111" text-anchor="end" >20</text><line x1="134.90" y1="647.20" x2="137.90" y2="647.20" stroke="#555" stroke-width="0.9" /><text x="133.90" y="652.20" font-size="14.5" fill="#111" text-anchor="end" >0</text><line x1="134.90" y1="669.95" x2="137.90" y2="669.95" stroke="#555" stroke-width="0.9" /><text x="133.90" y="674.95" font-size="14.5" fill="#111" text-anchor="end" >−20</text><line x1="134.90" y1="692.70" x2="137.90" y2="692.70" stroke="#555" stroke-width="0.9" /><text x="133.90" y="697.70" font-size="14.5" fill="#111" text-anchor="end" >−40</text><line x1="137.90" y1="698.20" x2="137.90" y2="701.20" stroke="#555" stroke-width="0.9" /><text x="137.90" y="715.00" font-size="14.5" fill="#111" text-anchor="middle" >15</text><line x1="165.88" y1="698.20" x2="165.88" y2="701.20" stroke="#555" stroke-width="0.9" /><text x="165.88" y="715.00" font-size="14.5" fill="#111" text-anchor="middle" >20</text><line x1="193.85" y1="698.20" x2="193.85" y2="701.20" stroke="#555" stroke-width="0.9" /><text x="193.85" y="715.00" font-size="14.5" fill="#111" text-anchor="middle" >25</text><line x1="221.82" y1="698.20" x2="221.82" y2="701.20" stroke="#555" stroke-width="0.9" /><text x="221.82" y="715.00" font-size="14.5" fill="#111" text-anchor="middle" >30</text><line x1="249.80" y1="698.20" x2="249.80" y2="701.20" stroke="#555" stroke-width="0.9" /><text x="249.80" y="715.00" font-size="14.5" fill="#111" text-anchor="middle" >35</text><path d="M163.08,647.20 L163.36,647.20 L163.64,647.20 L163.92,647.20 L164.20,647.20 L164.48,647.20 L164.76,647.20 L165.04,647.20 L165.32,647.20 L165.60,647.20 L165.88,648.30 L166.15,648.45 L166.43,648.61 L166.71,648.79 L166.99,648.98 L167.27,649.20 L167.55,649.44 L167.83,649.70 L168.11,649.99 L168.39,650.30 L168.67,650.64 L168.95,651.01 L169.23,651.41 L169.51,651.84 L169.79,652.31 L170.07,652.82 L170.35,653.36 L170.63,653.94 L170.91,654.56 L171.19,655.21 L171.47,655.91 L171.75,656.65 L172.03,657.44 L172.31,658.26 L172.59,659.13 L172.87,660.04 L173.15,660.98 L173.43,661.97 L173.71,663.00 L173.99,664.06 L174.27,665.16 L174.55,666.29 L174.83,667.44 L175.11,668.63 L175.39,669.83 L175.67,671.06 L175.95,672.30 L176.23,673.54 L176.51,674.80 L176.79,676.05 L177.07,677.30 L177.34,678.54 L177.62,679.76 L177.90,680.96 L178.18,682.13 L178.46,683.26 L178.74,684.36 L179.02,685.41 L179.30,686.41 L179.58,687.35 L179.86,688.23 L180.14,689.05 L180.42,689.79 L180.70,690.45 L180.98,691.04 L181.26,691.54 L181.54,691.95 L181.82,692.28 L182.10,692.51 L182.38,692.65 L182.66,692.70 L182.94,692.69 L183.22,692.66 L183.50,692.60 L183.78,692.53 L184.06,692.43 L184.34,692.31 L184.62,692.18 L184.90,692.02 L185.18,691.84 L185.46,691.64 L185.74,691.42 L186.02,691.18 L186.30,690.92 L186.58,690.64 L186.86,690.34 L187.14,690.03 L187.42,689.70 L187.70,689.35 L187.98,688.98 L188.26,688.60 L188.53,688.20 L188.81,687.78 L189.09,687.35 L189.37,686.91 L189.65,686.45 L189.93,685.98 L190.21,685.50 L190.49,685.01 L190.77,684.50 L191.05,683.98 L191.33,683.46 L191.61,682.92 L191.89,682.38 L192.17,681.82 L192.45,681.26 L192.73,680.70 L193.01,680.12 L193.29,679.55 L193.57,678.96 L193.85,678.38 L194.13,677.78 L194.41,677.19 L194.69,676.59 L194.97,676.00 L195.25,675.40 L195.53,674.80 L195.81,674.20 L196.09,673.60 L196.37,673.00 L196.65,672.40 L196.93,671.81 L197.21,671.22 L197.49,670.63 L197.77,670.04 L198.05,669.46 L198.33,668.89 L198.61,668.32 L198.89,667.75 L199.17,667.19 L199.45,666.63 L199.72,666.09 L200.00,665.55 L200.28,665.01 L200.56,664.49 L200.84,663.97 L201.12,663.46 L201.40,662.95 L201.68,662.46 L201.96,661.97 L202.24,661.49 L202.52,661.03 L202.80,660.57 L203.08,660.12 L203.36,659.68 L203.64,659.24 L203.92,658.82 L204.20,658.41 L204.48,658.01 L204.76,657.61 L205.04,657.23 L205.32,656.85 L205.60,656.49 L205.88,656.13 L206.16,655.79 L206.44,655.45 L206.72,655.13 L207.00,654.81 L207.28,654.50 L207.56,654.20 L207.84,653.91 L208.12,653.63 L208.40,653.36 L208.68,653.09 L208.96,652.84 L209.24,652.59 L209.52,652.36 L209.80,652.13 L210.08,651.90 L210.36,651.69 L210.64,651.48 L210.91,651.28 L211.19,651.09 L211.47,650.91 L211.75,650.73 L212.03,650.56 L212.31,650.40 L212.59,650.24 L212.87,650.09 L213.15,649.95 L213.43,649.81 L213.71,649.68 L213.99,649.55 L214.27,649.43 L214.55,649.31 L214.83,649.20 L215.11,649.09 L215.39,648.99 L215.67,648.89 L215.95,648.80 L216.23,648.71 L216.51,648.63 L216.79,648.55 L217.07,648.47 L217.35,648.40 L217.63,648.33 L217.91,648.27 L218.19,648.21 L218.47,648.15 L218.75,648.09 L219.03,648.04 L219.31,647.99 L219.59,647.94 L219.87,647.90 L220.15,647.85 L220.43,647.81 L220.71,647.78 L220.99,647.74 L221.27,647.71 L221.55,647.67 L221.83,647.64 L222.10,647.61 L222.38,647.59 L222.66,647.56 L222.94,647.54 L223.22,647.52 L223.50,647.50 L223.78,647.48 L224.06,647.46 L224.34,647.44 L224.62,647.42 L224.90,647.41 L225.18,647.39 L225.46,647.38 L225.74,647.37 L226.02,647.36 L226.30,647.34 L226.58,647.33 L226.86,647.32 L227.14,647.32 L227.42,647.31 L227.70,647.30 L227.98,647.29 L228.26,647.29 L228.54,647.28 L228.82,647.27 L229.10,647.27 L229.38,647.26 L229.66,647.26 L229.94,647.25 L230.22,647.25 L230.50,647.25 L230.78,647.24 L231.06,647.24 L231.34,647.24 L231.62,647.23 L231.90,647.23 L232.18,647.23 L232.46,647.23 L232.74,647.22 L233.02,647.22 L233.29,647.22 L233.57,647.22 L233.85,647.22 L234.13,647.22 L234.41,647.21 L234.69,647.21 L234.97,647.21 L235.25,647.21 L235.53,647.21 L235.81,647.21 L236.09,647.21 L236.37,647.21 L236.65,647.21 L236.93,647.21 L237.21,647.21 L237.49,647.21 L237.77,647.20 L238.05,647.20 L238.33,647.20 L238.61,647.20 L238.89,647.20 L239.17,647.20 L239.45,647.20 L239.73,647.20 L240.01,647.20 L240.29,647.20 L240.57,647.20 L240.85,647.20 L241.13,647.20 L241.41,647.20 L241.69,647.20 L241.97,647.20 L242.25,647.20 L242.53,647.20 L242.81,647.20 L243.09,647.20 L243.37,647.20 L243.65,647.20 L243.93,647.20 L244.21,647.20 L244.48,647.20 L244.76,647.20 L245.04,647.20 L245.32,647.20 L245.60,647.20 L245.88,647.20 L246.16,647.20 L246.44,647.20 L246.72,647.20 L247.00,647.20 L247.28,647.20 L247.56,647.20 L247.84,647.20 L248.12,647.20 L248.40,647.20 L248.68,647.20 L248.96,647.20 L249.24,647.20 L249.52,647.20 L249.80,647.20" fill="none" stroke="#2233ee" stroke-width="1.8" /><path d="M137.90,647.20 L138.18,647.20 L138.46,647.20 L138.74,647.20 L139.02,647.20 L139.30,647.20 L139.58,647.20 L139.86,647.20 L140.14,647.20 L140.42,647.20 L140.70,647.20 L140.98,647.20 L141.26,647.20 L141.54,647.20 L141.82,647.20 L142.10,647.20 L142.38,647.20 L142.66,647.20 L142.94,647.20 L143.22,647.20 L143.50,647.20 L143.77,647.20 L144.05,647.20 L144.33,647.20 L144.61,647.20 L144.89,647.20 L145.17,647.20 L145.45,647.20 L145.73,647.20 L146.01,647.20 L146.29,647.20 L146.57,647.20 L146.85,647.20 L147.13,647.20 L147.41,647.20 L147.69,647.20 L147.97,647.20 L148.25,647.20 L148.53,647.20 L148.81,647.20 L149.09,647.20 L149.37,647.20 L149.65,647.20 L149.93,647.20 L150.21,647.20 L150.49,647.20 L150.77,647.20 L151.05,647.20 L151.33,647.20 L151.61,647.20 L151.89,647.20 L152.17,647.20 L152.45,647.20 L152.73,647.20 L153.01,647.20 L153.29,647.20 L153.57,647.20 L153.85,647.20 L154.13,647.20 L154.41,647.20 L154.69,647.20 L154.96,647.20 L155.24,647.20 L155.52,647.20 L155.80,647.20 L156.08,647.20 L156.36,647.20 L156.64,647.20 L156.92,647.20 L157.20,647.20 L157.48,647.20 L157.76,647.20 L158.04,647.20 L158.32,647.20 L158.60,647.20 L158.88,647.20 L159.16,647.20 L159.44,647.20 L159.72,647.20 L160.00,647.20 L160.28,647.20 L160.56,647.20 L160.84,647.20 L161.12,647.20 L161.40,647.20 L161.68,647.20 L161.96,647.20 L162.24,647.20 L162.52,647.20 L162.80,647.20 L163.08,647.20 L163.36,647.20 L163.64,647.20 L163.92,647.20 L164.20,647.20 L164.48,647.20 L164.76,647.20 L165.04,647.20 L165.32,647.20 L165.60,647.20 L165.88,647.20 L166.15,647.20 L166.43,647.20 L166.71,647.20 L166.99,647.20 L167.27,647.20 L167.55,647.20 L167.83,647.20 L168.11,647.20 L168.39,647.20 L168.67,647.20 L168.95,647.20 L169.23,647.20 L169.51,647.20 L169.79,647.20 L170.07,647.20 L170.35,647.20 L170.63,647.20 L170.91,647.20 L171.19,647.20 L171.47,647.20 L171.75,647.20 L172.03,647.20 L172.31,647.20 L172.59,647.20 L172.87,647.20 L173.15,647.20 L173.43,647.20 L173.71,647.20 L173.99,647.20 L174.27,647.20 L174.55,647.20 L174.83,647.20 L175.11,647.20 L175.39,647.20 L175.67,647.20 L175.95,647.20 L176.23,647.20 L176.51,647.20 L176.79,647.20 L177.07,647.20 L177.34,647.20 L177.62,647.20 L177.90,647.20 L178.18,647.20 L178.46,647.20 L178.74,647.20 L179.02,647.20 L179.30,647.20 L179.58,647.20 L179.86,647.20 L180.14,647.20 L180.42,647.20 L180.70,647.20 L180.98,647.20 L181.26,647.20 L181.54,647.20 L181.82,647.20 L182.10,647.20 L182.38,647.20 L182.66,647.20 L182.94,647.20 L183.22,647.20 L183.50,647.20 L183.78,647.20 L184.06,647.20 L184.34,647.20 L184.62,647.20 L184.90,647.20 L185.18,647.20 L185.46,647.20 L185.74,647.20 L186.02,647.20 L186.30,647.20 L186.58,647.19 L186.86,647.19 L187.14,647.19 L187.42,647.19 L187.70,647.19 L187.98,647.19 L188.26,647.19 L188.53,647.18 L188.81,647.18 L189.09,647.18 L189.37,647.17 L189.65,647.17 L189.93,647.16 L190.21,647.16 L190.49,647.15 L190.77,647.15 L191.05,647.14 L191.33,647.13 L191.61,647.12 L191.89,647.11 L192.17,647.10 L192.45,647.09 L192.73,647.07 L193.01,647.05 L193.29,647.04 L193.57,647.02 L193.85,646.99 L194.13,646.97 L194.41,646.94 L194.69,646.91 L194.97,646.88 L195.25,646.84 L195.53,646.80 L195.81,646.76 L196.09,646.71 L196.37,646.66 L196.65,646.60 L196.93,646.54 L197.21,646.48 L197.49,646.41 L197.77,646.33 L198.05,646.25 L198.33,646.16 L198.61,646.07 L198.89,645.97 L199.17,645.86 L199.45,645.75 L199.72,645.63 L200.00,645.50 L200.28,645.37 L200.56,645.23 L200.84,645.08 L201.12,644.93 L201.40,644.77 L201.68,644.60 L201.96,644.43 L202.24,644.25 L202.52,644.06 L202.80,643.86 L203.08,643.66 L203.36,643.46 L203.64,643.25 L203.92,643.03 L204.20,642.81 L204.48,642.59 L204.76,642.37 L205.04,642.14 L205.32,641.91 L205.60,641.68 L205.88,641.45 L206.16,641.22 L206.44,640.99 L206.72,640.77 L207.00,640.55 L207.28,640.33 L207.56,640.12 L207.84,639.91 L208.12,639.71 L208.40,639.52 L208.68,639.34 L208.96,639.17 L209.24,639.01 L209.52,638.86 L209.80,638.72 L210.08,638.59 L210.36,638.48 L210.64,638.38 L210.91,638.30 L211.19,638.23 L211.47,638.17 L211.75,638.13 L212.03,638.11 L212.31,638.10 L212.59,638.12 L212.87,638.19 L213.15,638.31 L213.43,638.46 L213.71,638.66 L213.99,638.90 L214.27,639.17 L214.55,639.47 L214.83,639.80 L215.11,640.15 L215.39,640.52 L215.67,640.90 L215.95,641.29 L216.23,641.68 L216.51,642.07 L216.79,642.46 L217.07,642.85 L217.35,643.22 L217.63,643.58 L217.91,643.92 L218.19,644.25 L218.47,644.55 L218.75,644.84 L219.03,645.11 L219.31,645.35 L219.59,645.58 L219.87,645.78 L220.15,645.97 L220.43,646.14 L220.71,646.28 L220.99,646.42 L221.27,646.53 L221.55,646.63 L221.83,646.72 L222.10,646.80 L222.38,646.87 L222.66,646.92 L222.94,646.97 L223.22,647.01 L223.50,647.05 L223.78,647.08 L224.06,647.10 L224.34,647.12 L224.62,647.13 L224.90,647.15 L225.18,647.16 L225.46,647.17 L225.74,647.17 L226.02,647.18 L226.30,647.18 L226.58,647.19 L226.86,647.19 L227.14,647.19 L227.42,647.19 L227.70,647.20 L227.98,647.20 L228.26,647.20 L228.54,647.20 L228.82,647.20 L229.10,647.20 L229.38,647.20 L229.66,647.20 L229.94,647.20 L230.22,647.20 L230.50,647.20 L230.78,647.20 L231.06,647.20 L231.34,647.20 L231.62,647.20 L231.90,647.20 L232.18,647.20 L232.46,647.20 L232.74,647.20 L233.02,647.20 L233.29,647.20 L233.57,647.20 L233.85,647.20 L234.13,647.20 L234.41,647.20 L234.69,647.20 L234.97,647.20 L235.25,647.20 L235.53,647.20 L235.81,647.20 L236.09,647.20 L236.37,647.20 L236.65,647.20 L236.93,647.20 L237.21,647.20 L237.49,647.20 L237.77,647.20 L238.05,647.20 L238.33,647.20 L238.61,647.20 L238.89,647.20 L239.17,647.20 L239.45,647.20 L239.73,647.20 L240.01,647.20 L240.29,647.20 L240.57,647.20 L240.85,647.20 L241.13,647.20 L241.41,647.20 L241.69,647.20 L241.97,647.20 L242.25,647.20 L242.53,647.20 L242.81,647.20 L243.09,647.20 L243.37,647.20 L243.65,647.20 L243.93,647.20 L244.21,647.20 L244.48,647.20 L244.76,647.20 L245.04,647.20 L245.32,647.20 L245.60,647.20 L245.88,647.20 L246.16,647.20 L246.44,647.20 L246.72,647.20 L247.00,647.20 L247.28,647.20 L247.56,647.20 L247.84,647.20 L248.12,647.20 L248.40,647.20 L248.68,647.20 L248.96,647.20 L249.24,647.20 L249.52,647.20 L249.80,647.20" fill="none" stroke="#ee1c24" stroke-width="1.8" /><line x1="190.40" y1="742.70" x2="190.40" y2="727.40" stroke="#3d4a5c" stroke-width="2.2" /><polygon points="190.40,721.00 194.90,729.00 185.90,729.00" fill="#3d4a5c" /><line x1="328.00" y1="645.00" x2="373.80" y2="645.00" stroke="#ee1c24" stroke-width="2" /><line x1="328.00" y1="678.90" x2="373.80" y2="678.90" stroke="#2233ee" stroke-width="2" /><text x="383.00" y="650.50" font-size="17" fill="#111" ><tspan font-style="italic">ε</tspan><tspan font-size="11.5" dy="4">c</tspan><tspan dy="-4">: 10</tspan><tspan font-size="11.5" dy="-7">10</tspan></text><text x="383.00" y="684.50" font-size="17" fill="#111" ><tspan font-style="italic">ε</tspan><tspan font-size="11.5" dy="4">c</tspan><tspan dy="-4">: 10</tspan><tspan font-size="11.5" dy="-7">5</tspan></text><line x1="172.30" y1="468.10" x2="172.30" y2="774.40" stroke="#000" stroke-width="2.5" stroke-dasharray="4.6,5.4" /><line x1="207.50" y1="468.10" x2="207.50" y2="774.40" stroke="#000" stroke-width="2.5" stroke-dasharray="4.6,5.4" /><line x1="278.50" y1="468.10" x2="278.50" y2="774.40" stroke="#000" stroke-width="2.5" stroke-dasharray="4.6,5.4" /><line x1="313.40" y1="468.10" x2="313.40" y2="774.40" stroke="#000" stroke-width="2.5" stroke-dasharray="4.6,5.4" /><rect x="197.00" y="523.30" width="86.70" height="23.70" fill="#ffffff" stroke="none" stroke-width="1" /><text x="240.30" y="540.60" font-size="17.3" fill="#111" text-anchor="middle" textLength="66.5" lengthAdjust="spacingAndGlyphs" >Na metal</text><text x="513.00" y="440.70" font-size="22.5" fill="#000" font-weight="bold" stroke="#000" stroke-width="1.1">e</text><rect x="531.50" y="468.20" width="145.00" height="349.00" fill="#fdf4f4" stroke="#ff1f33" stroke-width="1.6" stroke-dasharray="6,4.5" /><rect x="756.60" y="467.70" width="145.10" height="349.20" fill="#f5f7fd" stroke="#2848ff" stroke-width="1.6" stroke-dasharray="6,4.5" /><rect x="542.70" y="473.30" width="52.50" height="318.20" rx="1.5" fill="none" stroke="#7a7a7a" stroke-width="1.8"/><rect x="612.50" y="473.30" width="52.30" height="318.20" rx="1.5" fill="none" stroke="#7a7a7a" stroke-width="1.8"/><rect x="688.90" y="472.80" width="53.00" height="317.90" rx="1.5" fill="#ffffff" stroke="#7a7a7a" stroke-width="1.8"/><rect x="768.00" y="472.80" width="53.00" height="319.20" rx="1.5" fill="none" stroke="#7a7a7a" stroke-width="1.8"/><rect x="836.40" y="473.70" width="53.00" height="318.30" rx="1.5" fill="none" stroke="#7a7a7a" stroke-width="1.8"/><path d="M544.6,502.2 L578.7,488.1 L573.7,497.3 L660.4,497.3 L660.4,506.8 L573.7,506.8 L578.7,515.7 Z" fill="url(#gStripL)" stroke="none" stroke-width="1" /><path d="M889.4,502.7 L856.1,489.4 L861,498 L774,498 L774,507.9 L861,507.9 L856.1,516.4 Z" fill="url(#gStripR)" stroke="none" stroke-width="1" /><text x="580.00" y="521.40" font-size="17.3" fill="#111" textLength="69" lengthAdjust="spacingAndGlyphs" >Stripping</text><text x="785.70" y="521.90" font-size="17.3" fill="#111" textLength="69.5" lengthAdjust="spacingAndGlyphs" >Stripping</text><text x="715.40" y="495.90" font-size="17.3" fill="#111" text-anchor="middle" textLength="40.2" lengthAdjust="spacingAndGlyphs" >Initial</text><text x="715.40" y="514.40" font-size="17.3" fill="#111" text-anchor="middle" textLength="41" lengthAdjust="spacingAndGlyphs" >stage</text><ellipse cx="544.60" cy="580.30" rx="2.00" ry="1.50" fill="#efe17c" stroke="#c4b23c" stroke-width="0.6" /><ellipse cx="549.00" cy="577.70" rx="2.00" ry="1.50" fill="#efe17c" stroke="#c4b23c" stroke-width="0.6" /><ellipse cx="547.70" cy="582.20" rx="2.00" ry="1.50" fill="#efe17c" stroke="#c4b23c" stroke-width="0.6" /><ellipse cx="552.20" cy="581.50" rx="2.00" ry="1.50" fill="#efe17c" stroke="#c4b23c" stroke-width="0.6" /><ellipse cx="552.80" cy="587.80" rx="2.00" ry="1.50" fill="#efe17c" stroke="#c4b23c" stroke-width="0.6" /><ellipse cx="564.80" cy="579.60" rx="2.00" ry="1.50" fill="#efe17c" stroke="#c4b23c" stroke-width="0.6" /><ellipse cx="569.90" cy="582.20" rx="2.00" ry="1.50" fill="#efe17c" stroke="#c4b23c" stroke-width="0.6" /><ellipse cx="571.10" cy="586.00" rx="2.00" ry="1.50" fill="#efe17c" stroke="#c4b23c" stroke-width="0.6" /><ellipse cx="574.30" cy="581.50" rx="2.00" ry="1.50" fill="#efe17c" stroke="#c4b23c" stroke-width="0.6" /><ellipse cx="577.80" cy="582.50" rx="2.00" ry="1.50" fill="#efe17c" stroke="#c4b23c" stroke-width="0.6" /><ellipse cx="583.20" cy="580.30" rx="2.00" ry="1.50" fill="#efe17c" stroke="#c4b23c" stroke-width="0.6" /><ellipse cx="587.00" cy="584.70" rx="2.00" ry="1.50" fill="#efe17c" stroke="#c4b23c" stroke-width="0.6" /><ellipse cx="589.50" cy="579.00" rx="2.00" ry="1.50" fill="#efe17c" stroke="#c4b23c" stroke-width="0.6" /><ellipse cx="592.70" cy="587.80" rx="2.00" ry="1.50" fill="#efe17c" stroke="#c4b23c" stroke-width="0.6" /><ellipse cx="586.30" cy="581.50" rx="2.00" ry="1.50" fill="#efe17c" stroke="#c4b23c" stroke-width="0.6" /><ellipse cx="548.40" cy="713.30" rx="2.00" ry="1.50" fill="#efe17c" stroke="#c4b23c" stroke-width="0.6" /><ellipse cx="585.20" cy="708.60" rx="2.00" ry="1.50" fill="#efe17c" stroke="#c4b23c" stroke-width="0.6" /><ellipse cx="578.50" cy="716.20" rx="2.00" ry="1.50" fill="#efe17c" stroke="#c4b23c" stroke-width="0.6" /><ellipse cx="579.30" cy="712.80" rx="2.00" ry="1.50" fill="#efe17c" stroke="#c4b23c" stroke-width="0.6" /><ellipse cx="556.80" cy="782.20" rx="2.00" ry="1.50" fill="#efe17c" stroke="#c4b23c" stroke-width="0.6" /><ellipse cx="620.40" cy="558.10" rx="2.00" ry="1.50" fill="#efe17c" stroke="#c4b23c" stroke-width="0.6" /><ellipse cx="659.70" cy="555.20" rx="2.00" ry="1.50" fill="#efe17c" stroke="#c4b23c" stroke-width="0.6" /><ellipse cx="634.80" cy="570.80" rx="2.00" ry="1.50" fill="#efe17c" stroke="#c4b23c" stroke-width="0.6" /><ellipse cx="613.30" cy="574.60" rx="2.00" ry="1.50" fill="#efe17c" stroke="#c4b23c" stroke-width="0.6" /><ellipse cx="653.40" cy="577.00" rx="2.00" ry="1.50" fill="#efe17c" stroke="#c4b23c" stroke-width="0.6" /><ellipse cx="657.80" cy="575.40" rx="2.00" ry="1.50" fill="#efe17c" stroke="#c4b23c" stroke-width="0.6" /><ellipse cx="612.90" cy="588.50" rx="2.00" ry="1.50" fill="#efe17c" stroke="#c4b23c" stroke-width="0.6" /><ellipse cx="640.80" cy="588.50" rx="2.00" ry="1.50" fill="#efe17c" stroke="#c4b23c" stroke-width="0.6" /><ellipse cx="621.80" cy="598.60" rx="2.00" ry="1.50" fill="#efe17c" stroke="#c4b23c" stroke-width="0.6" /><ellipse cx="640.10" cy="603.70" rx="2.00" ry="1.50" fill="#efe17c" stroke="#c4b23c" stroke-width="0.6" /><ellipse cx="613.30" cy="611.30" rx="2.00" ry="1.50" fill="#efe17c" stroke="#c4b23c" stroke-width="0.6" /><ellipse cx="644.60" cy="611.90" rx="2.00" ry="1.50" fill="#efe17c" stroke="#c4b23c" stroke-width="0.6" /><ellipse cx="619.90" cy="522.70" rx="2.00" ry="1.50" fill="#efe17c" stroke="#c4b23c" stroke-width="0.6" /><ellipse cx="617.30" cy="628.00" rx="2.00" ry="1.50" fill="#efe17c" stroke="#c4b23c" stroke-width="0.6" /><ellipse cx="645.90" cy="628.00" rx="2.00" ry="1.50" fill="#efe17c" stroke="#c4b23c" stroke-width="0.6" /><ellipse cx="658.80" cy="621.70" rx="2.00" ry="1.50" fill="#efe17c" stroke="#c4b23c" stroke-width="0.6" /><ellipse cx="639.90" cy="644.70" rx="2.00" ry="1.50" fill="#efe17c" stroke="#c4b23c" stroke-width="0.6" /><ellipse cx="656.30" cy="654.30" rx="2.00" ry="1.50" fill="#efe17c" stroke="#c4b23c" stroke-width="0.6" /><ellipse cx="640.90" cy="671.80" rx="2.00" ry="1.50" fill="#efe17c" stroke="#c4b23c" stroke-width="0.6" /><ellipse cx="622.50" cy="706.10" rx="2.00" ry="1.50" fill="#efe17c" stroke="#c4b23c" stroke-width="0.6" /><ellipse cx="662.10" cy="704.40" rx="2.00" ry="1.50" fill="#efe17c" stroke="#c4b23c" stroke-width="0.6" /><ellipse cx="616.10" cy="763.80" rx="2.00" ry="1.50" fill="#efe17c" stroke="#c4b23c" stroke-width="0.6" /><ellipse cx="653.70" cy="755.50" rx="2.00" ry="1.50" fill="#efe17c" stroke="#c4b23c" stroke-width="0.6" /><ellipse cx="625.60" cy="782.20" rx="2.00" ry="1.50" fill="#efe17c" stroke="#c4b23c" stroke-width="0.6" /><ellipse cx="658.00" cy="762.00" rx="2.00" ry="1.50" fill="#efe17c" stroke="#c4b23c" stroke-width="0.6" /><ellipse cx="650.00" cy="765.00" rx="2.00" ry="1.50" fill="#efe17c" stroke="#c4b23c" stroke-width="0.6" /><ellipse cx="703.60" cy="533.30" rx="2.00" ry="1.50" fill="#efe17c" stroke="#c4b23c" stroke-width="0.6" /><ellipse cx="737.80" cy="521.20" rx="2.00" ry="1.50" fill="#efe17c" stroke="#c4b23c" stroke-width="0.6" /><ellipse cx="690.30" cy="544.10" rx="2.00" ry="1.50" fill="#efe17c" stroke="#c4b23c" stroke-width="0.6" /><ellipse cx="693.70" cy="551.00" rx="2.00" ry="1.50" fill="#efe17c" stroke="#c4b23c" stroke-width="0.6" /><ellipse cx="720.20" cy="550.10" rx="2.00" ry="1.50" fill="#efe17c" stroke="#c4b23c" stroke-width="0.6" /><ellipse cx="735.60" cy="552.30" rx="2.00" ry="1.50" fill="#efe17c" stroke="#c4b23c" stroke-width="0.6" /><ellipse cx="691.10" cy="579.70" rx="2.00" ry="1.50" fill="#efe17c" stroke="#c4b23c" stroke-width="0.6" /><ellipse cx="719.30" cy="579.70" rx="2.00" ry="1.50" fill="#efe17c" stroke="#c4b23c" stroke-width="0.6" /><ellipse cx="698.80" cy="594.60" rx="2.00" ry="1.50" fill="#efe17c" stroke="#c4b23c" stroke-width="0.6" /><ellipse cx="727.90" cy="605.30" rx="2.00" ry="1.50" fill="#efe17c" stroke="#c4b23c" stroke-width="0.6" /><ellipse cx="736.40" cy="622.80" rx="2.00" ry="1.50" fill="#efe17c" stroke="#c4b23c" stroke-width="0.6" /><ellipse cx="739.80" cy="625.50" rx="2.00" ry="1.50" fill="#efe17c" stroke="#c4b23c" stroke-width="0.6" /><ellipse cx="727.00" cy="628.90" rx="2.00" ry="1.50" fill="#efe17c" stroke="#c4b23c" stroke-width="0.6" /><ellipse cx="716.40" cy="637.30" rx="2.00" ry="1.50" fill="#efe17c" stroke="#c4b23c" stroke-width="0.6" /><ellipse cx="697.10" cy="639.20" rx="2.00" ry="1.50" fill="#efe17c" stroke="#c4b23c" stroke-width="0.6" /><ellipse cx="712.50" cy="665.40" rx="2.00" ry="1.50" fill="#efe17c" stroke="#c4b23c" stroke-width="0.6" /><ellipse cx="739.50" cy="683.30" rx="2.00" ry="1.50" fill="#efe17c" stroke="#c4b23c" stroke-width="0.6" /><ellipse cx="727.50" cy="711.60" rx="2.00" ry="1.50" fill="#efe17c" stroke="#c4b23c" stroke-width="0.6" /><ellipse cx="695.50" cy="781.40" rx="2.00" ry="1.50" fill="#efe17c" stroke="#c4b23c" stroke-width="0.6" /><ellipse cx="705.60" cy="786.40" rx="2.00" ry="1.50" fill="#efe17c" stroke="#c4b23c" stroke-width="0.6" /><ellipse cx="802.80" cy="488.20" rx="2.00" ry="1.50" fill="#efe17c" stroke="#c4b23c" stroke-width="0.6" /><ellipse cx="769.80" cy="515.00" rx="2.00" ry="1.50" fill="#efe17c" stroke="#c4b23c" stroke-width="0.6" /><ellipse cx="791.50" cy="557.50" rx="2.00" ry="1.50" fill="#efe17c" stroke="#c4b23c" stroke-width="0.6" /><ellipse cx="805.10" cy="558.30" rx="2.00" ry="1.50" fill="#efe17c" stroke="#c4b23c" stroke-width="0.6" /><ellipse cx="815.10" cy="554.40" rx="2.00" ry="1.50" fill="#efe17c" stroke="#c4b23c" stroke-width="0.6" /><ellipse cx="814.70" cy="558.30" rx="2.00" ry="1.50" fill="#efe17c" stroke="#c4b23c" stroke-width="0.6" /><ellipse cx="798.00" cy="575.40" rx="2.00" ry="1.50" fill="#efe17c" stroke="#c4b23c" stroke-width="0.6" /><ellipse cx="794.90" cy="600.20" rx="2.00" ry="1.50" fill="#efe17c" stroke="#c4b23c" stroke-width="0.6" /><ellipse cx="810.30" cy="597.60" rx="2.00" ry="1.50" fill="#efe17c" stroke="#c4b23c" stroke-width="0.6" /><ellipse cx="808.60" cy="604.00" rx="2.00" ry="1.50" fill="#efe17c" stroke="#c4b23c" stroke-width="0.6" /><ellipse cx="816.80" cy="606.70" rx="2.00" ry="1.50" fill="#efe17c" stroke="#c4b23c" stroke-width="0.6" /><ellipse cx="815.40" cy="610.10" rx="2.00" ry="1.50" fill="#efe17c" stroke="#c4b23c" stroke-width="0.6" /><ellipse cx="792.50" cy="607.00" rx="2.00" ry="1.50" fill="#efe17c" stroke="#c4b23c" stroke-width="0.6" /><ellipse cx="782.60" cy="618.70" rx="2.00" ry="1.50" fill="#efe17c" stroke="#c4b23c" stroke-width="0.6" /><ellipse cx="813.00" cy="620.70" rx="2.00" ry="1.50" fill="#efe17c" stroke="#c4b23c" stroke-width="0.6" /><ellipse cx="816.40" cy="626.70" rx="2.00" ry="1.50" fill="#efe17c" stroke="#c4b23c" stroke-width="0.6" /><ellipse cx="782.60" cy="655.60" rx="2.00" ry="1.50" fill="#efe17c" stroke="#c4b23c" stroke-width="0.6" /><ellipse cx="772.00" cy="678.70" rx="2.00" ry="1.50" fill="#efe17c" stroke="#c4b23c" stroke-width="0.6" /><ellipse cx="778.30" cy="715.00" rx="2.00" ry="1.50" fill="#efe17c" stroke="#c4b23c" stroke-width="0.6" /><ellipse cx="818.50" cy="744.20" rx="2.00" ry="1.50" fill="#efe17c" stroke="#c4b23c" stroke-width="0.6" /><ellipse cx="813.00" cy="752.60" rx="2.00" ry="1.50" fill="#efe17c" stroke="#c4b23c" stroke-width="0.6" /><ellipse cx="820.20" cy="783.00" rx="2.00" ry="1.50" fill="#efe17c" stroke="#c4b23c" stroke-width="0.6" /><ellipse cx="871.10" cy="525.00" rx="2.00" ry="1.50" fill="#efe17c" stroke="#c4b23c" stroke-width="0.6" /><ellipse cx="842.10" cy="543.80" rx="2.00" ry="1.50" fill="#efe17c" stroke="#c4b23c" stroke-width="0.6" /><ellipse cx="861.60" cy="546.30" rx="2.00" ry="1.50" fill="#efe17c" stroke="#c4b23c" stroke-width="0.6" /><ellipse cx="852.70" cy="554.00" rx="2.00" ry="1.50" fill="#efe17c" stroke="#c4b23c" stroke-width="0.6" /><ellipse cx="885.70" cy="567.40" rx="2.00" ry="1.50" fill="#efe17c" stroke="#c4b23c" stroke-width="0.6" /><ellipse cx="883.50" cy="572.80" rx="2.00" ry="1.50" fill="#efe17c" stroke="#c4b23c" stroke-width="0.6" /><ellipse cx="845.50" cy="566.90" rx="2.00" ry="1.50" fill="#efe17c" stroke="#c4b23c" stroke-width="0.6" /><ellipse cx="854.70" cy="575.40" rx="2.00" ry="1.50" fill="#efe17c" stroke="#c4b23c" stroke-width="0.6" /><ellipse cx="877.00" cy="576.30" rx="2.00" ry="1.50" fill="#efe17c" stroke="#c4b23c" stroke-width="0.6" /><ellipse cx="841.20" cy="578.00" rx="2.00" ry="1.50" fill="#efe17c" stroke="#c4b23c" stroke-width="0.6" /><ellipse cx="886.90" cy="587.90" rx="2.00" ry="1.50" fill="#efe17c" stroke="#c4b23c" stroke-width="0.6" /><ellipse cx="852.30" cy="595.60" rx="2.00" ry="1.50" fill="#efe17c" stroke="#c4b23c" stroke-width="0.6" /><ellipse cx="876.10" cy="594.70" rx="2.00" ry="1.50" fill="#efe17c" stroke="#c4b23c" stroke-width="0.6" /><ellipse cx="837.60" cy="605.70" rx="2.00" ry="1.50" fill="#efe17c" stroke="#c4b23c" stroke-width="0.6" /><ellipse cx="845.80" cy="610.00" rx="2.00" ry="1.50" fill="#efe17c" stroke="#c4b23c" stroke-width="0.6" /><ellipse cx="873.50" cy="618.10" rx="2.00" ry="1.50" fill="#efe17c" stroke="#c4b23c" stroke-width="0.6" /><ellipse cx="848.90" cy="626.20" rx="2.00" ry="1.50" fill="#efe17c" stroke="#c4b23c" stroke-width="0.6" /><ellipse cx="886.00" cy="630.60" rx="2.00" ry="1.50" fill="#efe17c" stroke="#c4b23c" stroke-width="0.6" /><ellipse cx="837.00" cy="638.00" rx="2.00" ry="1.50" fill="#efe17c" stroke="#c4b23c" stroke-width="0.6" /><ellipse cx="853.50" cy="701.50" rx="2.00" ry="1.50" fill="#efe17c" stroke="#c4b23c" stroke-width="0.6" /><ellipse cx="866.40" cy="697.20" rx="2.00" ry="1.50" fill="#efe17c" stroke="#c4b23c" stroke-width="0.6" /><ellipse cx="887.70" cy="698.90" rx="2.00" ry="1.50" fill="#efe17c" stroke="#c4b23c" stroke-width="0.6" /><ellipse cx="871.80" cy="717.50" rx="2.00" ry="1.50" fill="#efe17c" stroke="#c4b23c" stroke-width="0.6" /><ellipse cx="864.30" cy="736.00" rx="2.00" ry="1.50" fill="#efe17c" stroke="#c4b23c" stroke-width="0.6" /><ellipse cx="842.80" cy="781.80" rx="2.00" ry="1.50" fill="#efe17c" stroke="#c4b23c" stroke-width="0.6" /><path d="M540.9,640.9 L552,641 L563.4,641.7 L572,637 L581.8,634.2 L590,636 L596,639.2 L596,651 L584,652 L571.8,658.5 L562,662 L554.2,666.8 L546,660 L541.7,651.8 Z" fill="url(#pNa)" stroke="#c8b646" stroke-width="0.6" /><ellipse cx="555.60" cy="700.70" rx="9.50" ry="6.00" fill="#efedf6" stroke="#333" stroke-width="0.9" transform="rotate(-20 555.60 700.70)" stroke-dasharray="2.2,1.6"/><ellipse cx="569.50" cy="708.00" rx="10.50" ry="6.30" fill="#efedf6" stroke="#333" stroke-width="0.9" transform="rotate(10 569.50 708.00)" stroke-dasharray="2.2,1.6"/><path d="M549,698 L553,695 L558,697 L560,703 L557,706 L551,705 Z" fill="url(#pNa)" stroke="#c8b646" stroke-width="0.6" /><path d="M563,706 L568,702 L574,704 L576,710 L571,713 L564,712 Z" fill="url(#pNa)" stroke="#c8b646" stroke-width="0.6" /><ellipse cx="548.00" cy="712.90" rx="2.00" ry="1.50" fill="#efe17c" stroke="#c4b23c" stroke-width="0.6" /><ellipse cx="578.00" cy="709.20" rx="2.00" ry="1.50" fill="#efe17c" stroke="#c4b23c" stroke-width="0.6" /><ellipse cx="577.00" cy="714.00" rx="2.00" ry="1.50" fill="#efe17c" stroke="#c4b23c" stroke-width="0.6" /><ellipse cx="576.00" cy="716.80" rx="2.00" ry="1.50" fill="#efe17c" stroke="#c4b23c" stroke-width="0.6" /><ellipse cx="639.80" cy="735.10" rx="28.50" ry="15.40" fill="#efedf6" stroke="#333" stroke-width="0.9" transform="rotate(-12 639.80 735.10)" stroke-dasharray="2.5,1.8"/><path d="M612,726.3 L625.1,722.7 L647,719 L661.7,723.4 L666.8,732.2 L662.4,738.8 L655,737 L650,736.6 L642.7,742.4 L637,748 L640,752 L644,758 L643,768 L633,768 L631,756 L622,752 L612,748.3 Z" fill="url(#pNa)" stroke="#c8b646" stroke-width="0.6" /><path d="M541.7,776.5 L541.7,770.8 L542.7,768.8 L549.3,768.0 L555.8,768.1 L562.4,768.7 L569.0,768.5 L575.5,769.8 L582.1,768.1 L588.6,767.6 L595.2,769.8 L596.2,776.5 Z" fill="url(#pNa)" stroke="#c8b646" stroke-width="0.6" /><rect x="540.70" y="774.70" width="56.50" height="2.00" fill="#83553a" stroke="none" stroke-width="1" /><rect x="540.70" y="778.00" width="56.50" height="1.20" fill="#a57a66" stroke="none" stroke-width="1" /><path d="M553,769 L557,763 L562,761.5 L566,765 L568,769 Z" fill="url(#pNa)" stroke="#c8b646" stroke-width="0.6" /><path d="M611.5,776.5 L611.5,770.5 L612.5,769.3 L619.0,767.8 L625.6,769.2 L632.1,768.7 L638.6,769.3 L645.2,768.7 L651.7,769.2 L658.3,769.5 L664.8,767.8 L665.8,776.5 Z" fill="url(#pNa)" stroke="#c8b646" stroke-width="0.6" /><rect x="610.50" y="774.70" width="56.30" height="2.00" fill="#83553a" stroke="none" stroke-width="1" /><rect x="610.50" y="778.00" width="56.30" height="1.20" fill="#a57a66" stroke="none" stroke-width="1" /><path d="M686.5,776.5 L686.5,757 L687.5,754.8 L694.5,754.1 L701.5,755.3 L708.5,756.0 L715.5,755.0 L722.5,756.1 L729.5,755.7 L736.5,754.1 L743.5,754.3 L744.5,776.5 Z" fill="url(#pNa)" stroke="#c8b646" stroke-width="0.6" /><rect x="685.50" y="774.70" width="60.00" height="2.00" fill="#83553a" stroke="none" stroke-width="1" /><rect x="685.50" y="778.00" width="60.00" height="1.20" fill="#a57a66" stroke="none" stroke-width="1" /><path d="M766,776.5 L766,759 L767.0,757.8 L773.9,757.5 L780.8,756.1 L787.6,756.9 L794.5,757.5 L801.4,756.5 L808.2,756.2 L815.1,756.6 L822.0,757.7 L823,776.5 Z" fill="url(#pNa)" stroke="#c8b646" stroke-width="0.6" /><rect x="765.00" y="774.70" width="59.00" height="2.00" fill="#83553a" stroke="none" stroke-width="1" /><rect x="765.00" y="778.00" width="59.00" height="1.20" fill="#a57a66" stroke="none" stroke-width="1" /><path d="M834.4,776.5 L834.4,758.5 L835.4,756.8 L842.3,757.6 L849.1,757.1 L856.0,757.0 L862.9,757.6 L869.8,756.2 L876.6,756.9 L883.5,756.1 L890.4,756.7 L891.4,776.5 Z" fill="url(#pNa)" stroke="#c8b646" stroke-width="0.6" /><rect x="833.40" y="774.70" width="59.00" height="2.00" fill="#83553a" stroke="none" stroke-width="1" /><rect x="833.40" y="778.00" width="59.00" height="1.20" fill="#a57a66" stroke="none" stroke-width="1" /><text x="572.40" y="682.40" font-size="17.3" fill="#ff1f33" textLength="75.4" lengthAdjust="spacingAndGlyphs" >Na cluster</text><line x1="585.60" y1="688.30" x2="578.98" y2="695.34" stroke="#ff1f33" stroke-width="2.8" /><polygon points="574.60,700.00 576.44,690.75 583.72,697.60" fill="#ff1f33" /><line x1="634.60" y1="689.80" x2="640.61" y2="707.15" stroke="#ff1f33" stroke-width="2.8" /><polygon points="642.70,713.20 635.36,707.28 644.81,704.00" fill="#ff1f33" /><text x="579.00" y="807.60" font-size="17.3" fill="#ff1f33" ><tspan>High </tspan><tspan font-style="italic">ε</tspan><tspan font-size="11.8" dy="4">c</tspan><tspan dy="-4"></tspan></text><text x="787.40" y="690.20" font-size="17.3" fill="#2040ff" textLength="88.9" lengthAdjust="spacingAndGlyphs" >Disperse Na</text><line x1="797.10" y1="668.50" x2="790.68" y2="661.67" stroke="#2040ff" stroke-width="2.8" /><polygon points="786.30,657.00 795.42,659.41 788.13,666.25" fill="#2040ff" /><line x1="862.90" y1="638.80" x2="869.31" y2="628.09" stroke="#2040ff" stroke-width="2.8" /><polygon points="872.60,622.60 872.78,632.03 864.20,626.90" fill="#2040ff" /><line x1="864.60" y1="701.80" x2="867.34" y2="707.53" stroke="#2040ff" stroke-width="2.8" /><polygon points="870.10,713.30 862.14,708.24 871.16,703.93" fill="#2040ff" /><text x="806.50" y="807.80" font-size="17.3" fill="#2040ff" ><tspan>Low </tspan><tspan font-style="italic">ε</tspan><tspan font-size="11.8" dy="4">c</tspan><tspan dy="-4"></tspan></text><text x="941.00" y="440.70" font-size="22.5" fill="#000" font-weight="bold" stroke="#000" stroke-width="1.1">f</text><text x="1136.50" y="457.50" font-size="17.3" fill="#111" text-anchor="middle" textLength="176.6" lengthAdjust="spacingAndGlyphs" >Initial stripping process</text><rect x="979.90" y="467.80" width="134.40" height="170.40" fill="none" stroke="#ee2a3a" stroke-width="1.5" /><rect x="1159.40" y="467.50" width="134.70" height="171.20" fill="none" stroke="#ee2a3a" stroke-width="1.5" /><text x="968.50" y="593.90" font-size="17.3" fill="#ff1f33" textLength="80" lengthAdjust="spacingAndGlyphs" transform="rotate(-90 968.50 593.90)" ><tspan>High </tspan><tspan font-style="italic">ε</tspan><tspan font-size="11.6" dy="4">c</tspan><tspan dy="-4"> CC</tspan></text><rect x="1040" y="495" width="16" height="119.6" rx="7" fill="#7ec8ea"/><line x1="998.70" y1="487.60" x2="998.70" y2="620.70" stroke="#ff1a2a" stroke-width="3.4" /><circle cx="998.70" cy="487.60" r="5.90" fill="#ff1a2a" stroke="none" stroke-width="0" /><circle cx="998.70" cy="509.78" r="5.90" fill="#ff1a2a" stroke="none" stroke-width="0" /><circle cx="998.70" cy="531.97" r="5.90" fill="#ff1a2a" stroke="none" stroke-width="0" /><circle cx="998.70" cy="554.15" r="5.90" fill="#ff1a2a" stroke="none" stroke-width="0" /><circle cx="998.70" cy="576.33" r="5.90" fill="#ff1a2a" stroke="none" stroke-width="0" /><circle cx="998.70" cy="598.52" r="5.90" fill="#ff1a2a" stroke="none" stroke-width="0" /><circle cx="998.70" cy="620.70" r="5.90" fill="#ff1a2a" stroke="none" stroke-width="0" /><line x1="1023.60" y1="487.60" x2="1023.60" y2="620.70" stroke="#ff1a2a" stroke-width="3.4" /><circle cx="1023.60" cy="487.60" r="5.90" fill="#ff1a2a" stroke="none" stroke-width="0" /><circle cx="1023.60" cy="509.78" r="5.90" fill="#ff1a2a" stroke="none" stroke-width="0" /><circle cx="1023.60" cy="531.97" r="5.90" fill="#ff1a2a" stroke="none" stroke-width="0" /><circle cx="1023.60" cy="554.15" r="5.90" fill="#ff1a2a" stroke="none" stroke-width="0" /><circle cx="1023.60" cy="576.33" r="5.90" fill="#ff1a2a" stroke="none" stroke-width="0" /><circle cx="1023.60" cy="598.52" r="5.90" fill="#ff1a2a" stroke="none" stroke-width="0" /><circle cx="1023.60" cy="620.70" r="5.90" fill="#ff1a2a" stroke="none" stroke-width="0" /><circle cx="1041.10" cy="499.80" r="6.80" fill="#a47412" stroke="none" stroke-width="0" /><circle cx="1040.40" cy="499.00" r="6.50" fill="#f6b92b" stroke="none" stroke-width="0" /><circle cx="1041.10" cy="513.83" r="6.80" fill="#a47412" stroke="none" stroke-width="0" /><circle cx="1040.40" cy="513.03" r="6.50" fill="#f6b92b" stroke="none" stroke-width="0" /><circle cx="1041.10" cy="527.86" r="6.80" fill="#a47412" stroke="none" stroke-width="0" /><circle cx="1040.40" cy="527.06" r="6.50" fill="#f6b92b" stroke="none" stroke-width="0" /><circle cx="1041.10" cy="541.89" r="6.80" fill="#a47412" stroke="none" stroke-width="0" /><circle cx="1040.40" cy="541.09" r="6.50" fill="#f6b92b" stroke="none" stroke-width="0" /><circle cx="1041.10" cy="555.92" r="6.80" fill="#a47412" stroke="none" stroke-width="0" /><circle cx="1040.40" cy="555.12" r="6.50" fill="#f6b92b" stroke="none" stroke-width="0" /><circle cx="1041.10" cy="569.95" r="6.80" fill="#a47412" stroke="none" stroke-width="0" /><circle cx="1040.40" cy="569.15" r="6.50" fill="#f6b92b" stroke="none" stroke-width="0" /><circle cx="1041.10" cy="583.98" r="6.80" fill="#a47412" stroke="none" stroke-width="0" /><circle cx="1040.40" cy="583.18" r="6.50" fill="#f6b92b" stroke="none" stroke-width="0" /><circle cx="1041.10" cy="598.01" r="6.80" fill="#a47412" stroke="none" stroke-width="0" /><circle cx="1040.40" cy="597.21" r="6.50" fill="#f6b92b" stroke="none" stroke-width="0" /><circle cx="1041.10" cy="612.04" r="6.80" fill="#a47412" stroke="none" stroke-width="0" /><circle cx="1040.40" cy="611.24" r="6.50" fill="#f6b92b" stroke="none" stroke-width="0" /><circle cx="1059.00" cy="506.50" r="6.80" fill="#a47412" stroke="none" stroke-width="0" /><circle cx="1058.30" cy="505.70" r="6.50" fill="#f6b92b" stroke="none" stroke-width="0" /><circle cx="1059.00" cy="520.61" r="6.80" fill="#a47412" stroke="none" stroke-width="0" /><circle cx="1058.30" cy="519.81" r="6.50" fill="#f6b92b" stroke="none" stroke-width="0" /><circle cx="1059.00" cy="534.72" r="6.80" fill="#a47412" stroke="none" stroke-width="0" /><circle cx="1058.30" cy="533.92" r="6.50" fill="#f6b92b" stroke="none" stroke-width="0" /><circle cx="1059.00" cy="548.83" r="6.80" fill="#a47412" stroke="none" stroke-width="0" /><circle cx="1058.30" cy="548.03" r="6.50" fill="#f6b92b" stroke="none" stroke-width="0" /><circle cx="1059.00" cy="562.94" r="6.80" fill="#a47412" stroke="none" stroke-width="0" /><circle cx="1058.30" cy="562.14" r="6.50" fill="#f6b92b" stroke="none" stroke-width="0" /><circle cx="1059.00" cy="577.05" r="6.80" fill="#a47412" stroke="none" stroke-width="0" /><circle cx="1058.30" cy="576.25" r="6.50" fill="#f6b92b" stroke="none" stroke-width="0" /><circle cx="1059.00" cy="591.16" r="6.80" fill="#a47412" stroke="none" stroke-width="0" /><circle cx="1058.30" cy="590.36" r="6.50" fill="#f6b92b" stroke="none" stroke-width="0" /><circle cx="1059.00" cy="605.27" r="6.80" fill="#a47412" stroke="none" stroke-width="0" /><circle cx="1058.30" cy="604.47" r="6.50" fill="#f6b92b" stroke="none" stroke-width="0" /><circle cx="1076.70" cy="507.20" r="6.80" fill="#a47412" stroke="none" stroke-width="0" /><circle cx="1076.00" cy="506.40" r="6.50" fill="#f6b92b" stroke="none" stroke-width="0" /><circle cx="1076.70" cy="521.31" r="6.80" fill="#a47412" stroke="none" stroke-width="0" /><circle cx="1076.00" cy="520.51" r="6.50" fill="#f6b92b" stroke="none" stroke-width="0" /><circle cx="1076.70" cy="535.42" r="6.80" fill="#a47412" stroke="none" stroke-width="0" /><circle cx="1076.00" cy="534.62" r="6.50" fill="#f6b92b" stroke="none" stroke-width="0" /><circle cx="1076.70" cy="549.53" r="6.80" fill="#a47412" stroke="none" stroke-width="0" /><circle cx="1076.00" cy="548.73" r="6.50" fill="#f6b92b" stroke="none" stroke-width="0" /><circle cx="1076.70" cy="563.64" r="6.80" fill="#a47412" stroke="none" stroke-width="0" /><circle cx="1076.00" cy="562.84" r="6.50" fill="#f6b92b" stroke="none" stroke-width="0" /><circle cx="1076.70" cy="577.75" r="6.80" fill="#a47412" stroke="none" stroke-width="0" /><circle cx="1076.00" cy="576.95" r="6.50" fill="#f6b92b" stroke="none" stroke-width="0" /><circle cx="1076.70" cy="591.86" r="6.80" fill="#a47412" stroke="none" stroke-width="0" /><circle cx="1076.00" cy="591.06" r="6.50" fill="#f6b92b" stroke="none" stroke-width="0" /><circle cx="1076.70" cy="605.97" r="6.80" fill="#a47412" stroke="none" stroke-width="0" /><circle cx="1076.00" cy="605.17" r="6.50" fill="#f6b92b" stroke="none" stroke-width="0" /><path d="M1024.70,497.00 L1024.70,491.90 L1044.50,491.90 L1044.50,497.00 M1034.40,491.90 L1034.40,486.20" fill="none" stroke="#555" stroke-width="1.4" /><path d="M1057.20,500.30 L1057.20,495.20 L1077.10,495.20 L1077.10,500.30 M1067.00,495.20 L1067.00,489.60" fill="none" stroke="#555" stroke-width="1.4" /><path d="M1029.70,485.00 L1029.70,478.00 Q1029.70,472.10 1019.90,472.10" fill="none" stroke="#444" stroke-width="2.3" /><polygon points="1014.90,472.10 1021.90,467.60 1020.40,472.10 1021.90,476.60" fill="#444"/><path d="M1067.70,489.00 L1067.70,482.00 Q1067.70,475.50 1058.90,475.50" fill="none" stroke="#444" stroke-width="2.3" /><polygon points="1053.90,475.50 1060.90,471.00 1059.40,475.50 1060.90,480.00" fill="#444"/><text x="1075.40" y="488.90" font-size="17.3" fill="#111" textLength="63" lengthAdjust="spacingAndGlyphs" >Electron</text><text x="1092.90" y="507.70" font-size="17.3" fill="#111" textLength="30.5" lengthAdjust="spacingAndGlyphs" >loss</text><path d="M1158.40,553.60 L1125.20,540.10 L1129.50,549.50 L1119.40,549.50 L1119.40,558.20 L1129.50,558.20 L1125.20,567.60 Z" fill="url(#gArrF)" stroke="none" stroke-width="1" /><line x1="1178.90" y1="485.30" x2="1178.90" y2="618.80" stroke="#ff1a2a" stroke-width="3.4" /><circle cx="1178.90" cy="485.30" r="5.90" fill="#ff1a2a" stroke="none" stroke-width="0" /><circle cx="1178.90" cy="507.55" r="5.90" fill="#ff1a2a" stroke="none" stroke-width="0" /><circle cx="1178.90" cy="529.80" r="5.90" fill="#ff1a2a" stroke="none" stroke-width="0" /><circle cx="1178.90" cy="552.05" r="5.90" fill="#ff1a2a" stroke="none" stroke-width="0" /><circle cx="1178.90" cy="574.30" r="5.90" fill="#ff1a2a" stroke="none" stroke-width="0" /><circle cx="1178.90" cy="596.55" r="5.90" fill="#ff1a2a" stroke="none" stroke-width="0" /><circle cx="1178.90" cy="618.80" r="5.90" fill="#ff1a2a" stroke="none" stroke-width="0" /><line x1="1203.10" y1="485.30" x2="1203.10" y2="618.80" stroke="#ff1a2a" stroke-width="3.4" /><circle cx="1203.10" cy="485.30" r="5.90" fill="#ff1a2a" stroke="none" stroke-width="0" /><circle cx="1203.10" cy="507.55" r="5.90" fill="#ff1a2a" stroke="none" stroke-width="0" /><circle cx="1203.10" cy="529.80" r="5.90" fill="#ff1a2a" stroke="none" stroke-width="0" /><circle cx="1203.10" cy="552.05" r="5.90" fill="#ff1a2a" stroke="none" stroke-width="0" /><circle cx="1203.10" cy="574.30" r="5.90" fill="#ff1a2a" stroke="none" stroke-width="0" /><circle cx="1203.10" cy="596.55" r="5.90" fill="#ff1a2a" stroke="none" stroke-width="0" /><circle cx="1203.10" cy="618.80" r="5.90" fill="#ff1a2a" stroke="none" stroke-width="0" /><circle cx="1241.40" cy="508.40" r="6.60" fill="#a47412" stroke="none" stroke-width="0" /><circle cx="1240.70" cy="507.60" r="6.30" fill="#f6b92b" stroke="none" stroke-width="0" /><circle cx="1230.50" cy="514.90" r="6.60" fill="#a47412" stroke="none" stroke-width="0" /><circle cx="1229.80" cy="514.10" r="6.30" fill="#f6b92b" stroke="none" stroke-width="0" /><circle cx="1252.90" cy="517.80" r="6.60" fill="#a47412" stroke="none" stroke-width="0" /><circle cx="1252.20" cy="517.00" r="6.30" fill="#f6b92b" stroke="none" stroke-width="0" /><circle cx="1226.20" cy="524.30" r="6.60" fill="#a47412" stroke="none" stroke-width="0" /><circle cx="1225.50" cy="523.50" r="6.30" fill="#f6b92b" stroke="none" stroke-width="0" /><circle cx="1241.40" cy="522.90" r="6.60" fill="#a47412" stroke="none" stroke-width="0" /><circle cx="1240.70" cy="522.10" r="6.30" fill="#f6b92b" stroke="none" stroke-width="0" /><circle cx="1233.40" cy="530.80" r="6.60" fill="#a47412" stroke="none" stroke-width="0" /><circle cx="1232.70" cy="530.00" r="6.30" fill="#f6b92b" stroke="none" stroke-width="0" /><circle cx="1250.70" cy="530.10" r="6.60" fill="#a47412" stroke="none" stroke-width="0" /><circle cx="1250.00" cy="529.30" r="6.30" fill="#f6b92b" stroke="none" stroke-width="0" /><circle cx="1241.40" cy="535.90" r="6.60" fill="#a47412" stroke="none" stroke-width="0" /><circle cx="1240.70" cy="535.10" r="6.30" fill="#f6b92b" stroke="none" stroke-width="0" /><circle cx="1242.10" cy="564.00" r="6.60" fill="#a47412" stroke="none" stroke-width="0" /><circle cx="1241.40" cy="563.20" r="6.30" fill="#f6b92b" stroke="none" stroke-width="0" /><circle cx="1232.00" cy="570.50" r="6.60" fill="#a47412" stroke="none" stroke-width="0" /><circle cx="1231.30" cy="569.70" r="6.30" fill="#f6b92b" stroke="none" stroke-width="0" /><circle cx="1253.70" cy="573.40" r="6.60" fill="#a47412" stroke="none" stroke-width="0" /><circle cx="1253.00" cy="572.60" r="6.30" fill="#f6b92b" stroke="none" stroke-width="0" /><circle cx="1226.90" cy="580.60" r="6.60" fill="#a47412" stroke="none" stroke-width="0" /><circle cx="1226.20" cy="579.80" r="6.30" fill="#f6b92b" stroke="none" stroke-width="0" /><circle cx="1242.10" cy="578.50" r="6.60" fill="#a47412" stroke="none" stroke-width="0" /><circle cx="1241.40" cy="577.70" r="6.30" fill="#f6b92b" stroke="none" stroke-width="0" /><circle cx="1234.10" cy="586.40" r="6.60" fill="#a47412" stroke="none" stroke-width="0" /><circle cx="1233.40" cy="585.60" r="6.30" fill="#f6b92b" stroke="none" stroke-width="0" /><circle cx="1252.20" cy="585.00" r="6.60" fill="#a47412" stroke="none" stroke-width="0" /><circle cx="1251.50" cy="584.20" r="6.30" fill="#f6b92b" stroke="none" stroke-width="0" /><circle cx="1242.10" cy="591.50" r="6.60" fill="#a47412" stroke="none" stroke-width="0" /><circle cx="1241.40" cy="590.70" r="6.30" fill="#f6b92b" stroke="none" stroke-width="0" /><text x="1237.80" y="614.50" font-size="17.3" fill="#111" text-anchor="middle" textLength="19.5" lengthAdjust="spacingAndGlyphs" >Na</text><text x="1237.00" y="632.50" font-size="17.3" fill="#111" text-anchor="middle" textLength="51" lengthAdjust="spacingAndGlyphs" >cluster</text><rect x="979.90" y="645.00" width="134.30" height="171.30" fill="none" stroke="#3355ee" stroke-width="1.5" /><rect x="1159.40" y="645.00" width="134.90" height="171.30" fill="none" stroke="#3355ee" stroke-width="1.5" /><text x="968.50" y="767.80" font-size="17.3" fill="#2244ff" textLength="73.8" lengthAdjust="spacingAndGlyphs" transform="rotate(-90 968.50 767.80)" ><tspan>Low </tspan><tspan font-style="italic">ε</tspan><tspan font-size="11.6" dy="4">c</tspan><tspan dy="-4"> CC</tspan></text><rect x="1028" y="670.6" width="24.7" height="120.4" rx="10" fill="#7fcbea"/><path d="M1025,666 Q1011,730 1025,794 L1036,794 L1036,666 Z" fill="#a98cc8"/><line x1="999.70" y1="663.50" x2="999.70" y2="797.30" stroke="#1a3cff" stroke-width="3.6" /><circle cx="999.70" cy="663.50" r="5.80" fill="#1a3cff" stroke="none" stroke-width="0" /><circle cx="999.70" cy="685.80" r="5.80" fill="#1a3cff" stroke="none" stroke-width="0" /><circle cx="999.70" cy="708.10" r="5.80" fill="#1a3cff" stroke="none" stroke-width="0" /><circle cx="999.70" cy="730.40" r="5.80" fill="#1a3cff" stroke="none" stroke-width="0" /><circle cx="999.70" cy="752.70" r="5.80" fill="#1a3cff" stroke="none" stroke-width="0" /><circle cx="999.70" cy="775.00" r="5.80" fill="#1a3cff" stroke="none" stroke-width="0" /><circle cx="999.70" cy="797.30" r="5.80" fill="#1a3cff" stroke="none" stroke-width="0" /><line x1="1024.50" y1="663.50" x2="1024.50" y2="797.30" stroke="#1a3cff" stroke-width="3.6" /><circle cx="1024.50" cy="663.50" r="5.80" fill="#1a3cff" stroke="none" stroke-width="0" /><circle cx="1024.50" cy="685.80" r="5.80" fill="#1a3cff" stroke="none" stroke-width="0" /><circle cx="1024.50" cy="708.10" r="5.80" fill="#1a3cff" stroke="none" stroke-width="0" /><circle cx="1024.50" cy="730.40" r="5.80" fill="#1a3cff" stroke="none" stroke-width="0" /><circle cx="1024.50" cy="752.70" r="5.80" fill="#1a3cff" stroke="none" stroke-width="0" /><circle cx="1024.50" cy="775.00" r="5.80" fill="#1a3cff" stroke="none" stroke-width="0" /><circle cx="1024.50" cy="797.30" r="5.80" fill="#1a3cff" stroke="none" stroke-width="0" /><circle cx="1038.10" cy="675.00" r="6.80" fill="#a47412" stroke="none" stroke-width="0" /><circle cx="1037.40" cy="674.20" r="6.50" fill="#f6b92b" stroke="none" stroke-width="0" /><circle cx="1038.10" cy="689.06" r="6.80" fill="#a47412" stroke="none" stroke-width="0" /><circle cx="1037.40" cy="688.26" r="6.50" fill="#f6b92b" stroke="none" stroke-width="0" /><circle cx="1038.10" cy="703.12" r="6.80" fill="#a47412" stroke="none" stroke-width="0" /><circle cx="1037.40" cy="702.32" r="6.50" fill="#f6b92b" stroke="none" stroke-width="0" /><circle cx="1038.10" cy="717.18" r="6.80" fill="#a47412" stroke="none" stroke-width="0" /><circle cx="1037.40" cy="716.38" r="6.50" fill="#f6b92b" stroke="none" stroke-width="0" /><circle cx="1038.10" cy="731.24" r="6.80" fill="#a47412" stroke="none" stroke-width="0" /><circle cx="1037.40" cy="730.44" r="6.50" fill="#f6b92b" stroke="none" stroke-width="0" /><circle cx="1038.10" cy="745.30" r="6.80" fill="#a47412" stroke="none" stroke-width="0" /><circle cx="1037.40" cy="744.50" r="6.50" fill="#f6b92b" stroke="none" stroke-width="0" /><circle cx="1038.10" cy="759.36" r="6.80" fill="#a47412" stroke="none" stroke-width="0" /><circle cx="1037.40" cy="758.56" r="6.50" fill="#f6b92b" stroke="none" stroke-width="0" /><circle cx="1038.10" cy="773.42" r="6.80" fill="#a47412" stroke="none" stroke-width="0" /><circle cx="1037.40" cy="772.62" r="6.50" fill="#f6b92b" stroke="none" stroke-width="0" /><circle cx="1038.10" cy="787.48" r="6.80" fill="#a47412" stroke="none" stroke-width="0" /><circle cx="1037.40" cy="786.68" r="6.50" fill="#f6b92b" stroke="none" stroke-width="0" /><circle cx="1055.90" cy="682.10" r="6.80" fill="#a47412" stroke="none" stroke-width="0" /><circle cx="1055.20" cy="681.30" r="6.50" fill="#f6b92b" stroke="none" stroke-width="0" /><circle cx="1055.90" cy="696.24" r="6.80" fill="#a47412" stroke="none" stroke-width="0" /><circle cx="1055.20" cy="695.44" r="6.50" fill="#f6b92b" stroke="none" stroke-width="0" /><circle cx="1055.90" cy="710.38" r="6.80" fill="#a47412" stroke="none" stroke-width="0" /><circle cx="1055.20" cy="709.58" r="6.50" fill="#f6b92b" stroke="none" stroke-width="0" /><circle cx="1055.90" cy="724.52" r="6.80" fill="#a47412" stroke="none" stroke-width="0" /><circle cx="1055.20" cy="723.72" r="6.50" fill="#f6b92b" stroke="none" stroke-width="0" /><circle cx="1055.90" cy="738.66" r="6.80" fill="#a47412" stroke="none" stroke-width="0" /><circle cx="1055.20" cy="737.86" r="6.50" fill="#f6b92b" stroke="none" stroke-width="0" /><circle cx="1055.90" cy="752.80" r="6.80" fill="#a47412" stroke="none" stroke-width="0" /><circle cx="1055.20" cy="752.00" r="6.50" fill="#f6b92b" stroke="none" stroke-width="0" /><circle cx="1055.90" cy="766.94" r="6.80" fill="#a47412" stroke="none" stroke-width="0" /><circle cx="1055.20" cy="766.14" r="6.50" fill="#f6b92b" stroke="none" stroke-width="0" /><circle cx="1055.90" cy="781.08" r="6.80" fill="#a47412" stroke="none" stroke-width="0" /><circle cx="1055.20" cy="780.28" r="6.50" fill="#f6b92b" stroke="none" stroke-width="0" /><circle cx="1073.70" cy="683.20" r="6.80" fill="#a47412" stroke="none" stroke-width="0" /><circle cx="1073.00" cy="682.40" r="6.50" fill="#f6b92b" stroke="none" stroke-width="0" /><circle cx="1073.70" cy="697.29" r="6.80" fill="#a47412" stroke="none" stroke-width="0" /><circle cx="1073.00" cy="696.49" r="6.50" fill="#f6b92b" stroke="none" stroke-width="0" /><circle cx="1073.70" cy="711.38" r="6.80" fill="#a47412" stroke="none" stroke-width="0" /><circle cx="1073.00" cy="710.58" r="6.50" fill="#f6b92b" stroke="none" stroke-width="0" /><circle cx="1073.70" cy="725.47" r="6.80" fill="#a47412" stroke="none" stroke-width="0" /><circle cx="1073.00" cy="724.67" r="6.50" fill="#f6b92b" stroke="none" stroke-width="0" /><circle cx="1073.70" cy="739.56" r="6.80" fill="#a47412" stroke="none" stroke-width="0" /><circle cx="1073.00" cy="738.76" r="6.50" fill="#f6b92b" stroke="none" stroke-width="0" /><circle cx="1073.70" cy="753.65" r="6.80" fill="#a47412" stroke="none" stroke-width="0" /><circle cx="1073.00" cy="752.85" r="6.50" fill="#f6b92b" stroke="none" stroke-width="0" /><circle cx="1073.70" cy="767.74" r="6.80" fill="#a47412" stroke="none" stroke-width="0" /><circle cx="1073.00" cy="766.94" r="6.50" fill="#f6b92b" stroke="none" stroke-width="0" /><circle cx="1073.70" cy="781.83" r="6.80" fill="#a47412" stroke="none" stroke-width="0" /><circle cx="1073.00" cy="781.03" r="6.50" fill="#f6b92b" stroke="none" stroke-width="0" /><path d="M1054.40,677.30 L1054.40,671.60 L1074.70,671.60 L1074.70,677.30 M1064.30,671.60 L1064.30,665.60" fill="none" stroke="#555" stroke-width="1.4" /><path d="M1066.20,665.00 L1066.20,659.00 Q1066.20,652.50 1056.90,652.50" fill="none" stroke="#444" stroke-width="2.3" /><polygon points="1051.90,652.50 1058.90,648.00 1057.40,652.50 1058.90,657.00" fill="#444"/><text x="1074.30" y="666.70" font-size="17.3" fill="#111" textLength="63" lengthAdjust="spacingAndGlyphs" >Electron</text><text x="1091.30" y="685.70" font-size="17.3" fill="#111" textLength="30.5" lengthAdjust="spacingAndGlyphs" >loss</text><path d="M1158.80,732.70 L1125.60,719.20 L1129.90,728.60 L1119.80,728.60 L1119.80,737.30 L1129.90,737.30 L1125.60,746.70 Z" fill="url(#gArrF)" stroke="none" stroke-width="1" /><rect x="1208" y="668" width="26" height="122" rx="10" fill="#7fcbea"/><path d="M1204.5,665 Q1190,729 1204.5,793 L1216,793 L1216,665 Z" fill="#a98cc8"/><line x1="1179.30" y1="662.30" x2="1179.30" y2="796.30" stroke="#1a3cff" stroke-width="3.6" /><circle cx="1179.30" cy="662.30" r="5.80" fill="#1a3cff" stroke="none" stroke-width="0" /><circle cx="1179.30" cy="684.63" r="5.80" fill="#1a3cff" stroke="none" stroke-width="0" /><circle cx="1179.30" cy="706.97" r="5.80" fill="#1a3cff" stroke="none" stroke-width="0" /><circle cx="1179.30" cy="729.30" r="5.80" fill="#1a3cff" stroke="none" stroke-width="0" /><circle cx="1179.30" cy="751.63" r="5.80" fill="#1a3cff" stroke="none" stroke-width="0" /><circle cx="1179.30" cy="773.97" r="5.80" fill="#1a3cff" stroke="none" stroke-width="0" /><circle cx="1179.30" cy="796.30" r="5.80" fill="#1a3cff" stroke="none" stroke-width="0" /><line x1="1204.30" y1="662.30" x2="1204.30" y2="796.30" stroke="#1a3cff" stroke-width="3.6" /><circle cx="1204.30" cy="662.30" r="5.80" fill="#1a3cff" stroke="none" stroke-width="0" /><circle cx="1204.30" cy="684.63" r="5.80" fill="#1a3cff" stroke="none" stroke-width="0" /><circle cx="1204.30" cy="706.97" r="5.80" fill="#1a3cff" stroke="none" stroke-width="0" /><circle cx="1204.30" cy="729.30" r="5.80" fill="#1a3cff" stroke="none" stroke-width="0" /><circle cx="1204.30" cy="751.63" r="5.80" fill="#1a3cff" stroke="none" stroke-width="0" /><circle cx="1204.30" cy="773.97" r="5.80" fill="#1a3cff" stroke="none" stroke-width="0" /><circle cx="1204.30" cy="796.30" r="5.80" fill="#1a3cff" stroke="none" stroke-width="0" /><circle cx="1218.70" cy="673.90" r="6.80" fill="#a47412" stroke="none" stroke-width="0" /><circle cx="1218.00" cy="673.10" r="6.50" fill="#f6b92b" stroke="none" stroke-width="0" /><circle cx="1218.70" cy="687.84" r="6.80" fill="#a47412" stroke="none" stroke-width="0" /><circle cx="1218.00" cy="687.04" r="6.50" fill="#f6b92b" stroke="none" stroke-width="0" /><circle cx="1218.70" cy="701.78" r="6.80" fill="#a47412" stroke="none" stroke-width="0" /><circle cx="1218.00" cy="700.98" r="6.50" fill="#f6b92b" stroke="none" stroke-width="0" /><circle cx="1218.70" cy="715.72" r="6.80" fill="#a47412" stroke="none" stroke-width="0" /><circle cx="1218.00" cy="714.92" r="6.50" fill="#f6b92b" stroke="none" stroke-width="0" /><circle cx="1218.70" cy="729.66" r="6.80" fill="#a47412" stroke="none" stroke-width="0" /><circle cx="1218.00" cy="728.86" r="6.50" fill="#f6b92b" stroke="none" stroke-width="0" /><circle cx="1218.70" cy="743.60" r="6.80" fill="#a47412" stroke="none" stroke-width="0" /><circle cx="1218.00" cy="742.80" r="6.50" fill="#f6b92b" stroke="none" stroke-width="0" /><circle cx="1218.70" cy="757.54" r="6.80" fill="#a47412" stroke="none" stroke-width="0" /><circle cx="1218.00" cy="756.74" r="6.50" fill="#f6b92b" stroke="none" stroke-width="0" /><circle cx="1218.70" cy="771.48" r="6.80" fill="#a47412" stroke="none" stroke-width="0" /><circle cx="1218.00" cy="770.68" r="6.50" fill="#f6b92b" stroke="none" stroke-width="0" /><circle cx="1218.70" cy="785.42" r="6.80" fill="#a47412" stroke="none" stroke-width="0" /><circle cx="1218.00" cy="784.62" r="6.50" fill="#f6b92b" stroke="none" stroke-width="0" /><circle cx="1236.40" cy="680.70" r="6.80" fill="#a47412" stroke="none" stroke-width="0" /><circle cx="1235.70" cy="679.90" r="6.50" fill="#f6b92b" stroke="none" stroke-width="0" /><circle cx="1236.40" cy="694.73" r="6.80" fill="#a47412" stroke="none" stroke-width="0" /><circle cx="1235.70" cy="693.93" r="6.50" fill="#f6b92b" stroke="none" stroke-width="0" /><circle cx="1236.40" cy="708.76" r="6.80" fill="#a47412" stroke="none" stroke-width="0" /><circle cx="1235.70" cy="707.96" r="6.50" fill="#f6b92b" stroke="none" stroke-width="0" /><circle cx="1236.40" cy="722.79" r="6.80" fill="#a47412" stroke="none" stroke-width="0" /><circle cx="1235.70" cy="721.99" r="6.50" fill="#f6b92b" stroke="none" stroke-width="0" /><circle cx="1236.40" cy="736.82" r="6.80" fill="#a47412" stroke="none" stroke-width="0" /><circle cx="1235.70" cy="736.02" r="6.50" fill="#f6b92b" stroke="none" stroke-width="0" /><circle cx="1236.40" cy="750.85" r="6.80" fill="#a47412" stroke="none" stroke-width="0" /><circle cx="1235.70" cy="750.05" r="6.50" fill="#f6b92b" stroke="none" stroke-width="0" /><circle cx="1236.40" cy="764.88" r="6.80" fill="#a47412" stroke="none" stroke-width="0" /><circle cx="1235.70" cy="764.08" r="6.50" fill="#f6b92b" stroke="none" stroke-width="0" /><circle cx="1236.40" cy="778.91" r="6.80" fill="#a47412" stroke="none" stroke-width="0" /><circle cx="1235.70" cy="778.11" r="6.50" fill="#f6b92b" stroke="none" stroke-width="0" /><circle cx="1264.10" cy="674.00" r="7.00" fill="#3d6e2a" stroke="none" stroke-width="0" /><circle cx="1263.50" cy="673.40" r="6.70" fill="#6aa64c" stroke="none" stroke-width="0" /><circle cx="1264.10" cy="698.60" r="7.00" fill="#3d6e2a" stroke="none" stroke-width="0" /><circle cx="1263.50" cy="698.00" r="6.70" fill="#6aa64c" stroke="none" stroke-width="0" /><circle cx="1254.60" cy="718.60" r="7.00" fill="#3d6e2a" stroke="none" stroke-width="0" /><circle cx="1254.00" cy="718.00" r="6.70" fill="#6aa64c" stroke="none" stroke-width="0" /><circle cx="1264.10" cy="740.60" r="7.00" fill="#3d6e2a" stroke="none" stroke-width="0" /><circle cx="1263.50" cy="740.00" r="6.70" fill="#6aa64c" stroke="none" stroke-width="0" /><circle cx="1262.60" cy="772.00" r="7.00" fill="#3d6e2a" stroke="none" stroke-width="0" /><circle cx="1262.00" cy="771.40" r="6.70" fill="#6aa64c" stroke="none" stroke-width="0" /><rect x="1271.20" y="660.00" width="6.00" height="120.00" fill="#ffffff" stroke="none" stroke-width="1" /><text x="13.00" y="856.70" font-size="22.5" fill="#000" font-weight="bold" stroke="#000" stroke-width="1.1">g</text><rect x="36.30" y="859.70" width="663.90" height="386.90" fill="#fef3d8" stroke="#111" stroke-width="1.5" stroke-dasharray="6,4.5" /><path d="M45,901.8 L517,901.8 L517,891.3 L553.6,906.5 L517,919.8 L517,910.9 L45,910.9 Z" fill="url(#gPlatG)" stroke="none" stroke-width="1" /><text x="292.70" y="895.50" font-size="17.3" fill="#111" text-anchor="middle" textLength="52" lengthAdjust="spacingAndGlyphs" >Plating</text><text x="109.40" y="931.90" font-size="17.3" fill="#111" text-anchor="middle" textLength="52" lengthAdjust="spacingAndGlyphs" >20 min</text><text x="233.60" y="931.90" font-size="17.3" fill="#111" text-anchor="middle" textLength="52" lengthAdjust="spacingAndGlyphs" >40 min</text><text x="358.30" y="931.90" font-size="17.3" fill="#111" text-anchor="middle" textLength="52" lengthAdjust="spacingAndGlyphs" >60 min</text><text x="489.60" y="931.90" font-size="17.3" fill="#111" text-anchor="middle" textLength="61.5" lengthAdjust="spacingAndGlyphs" >120 min</text><text x="637.30" y="896.30" font-size="17.3" fill="#111" text-anchor="middle" textLength="28" lengthAdjust="spacingAndGlyphs" >Full</text><text x="637.30" y="913.50" font-size="17.3" fill="#111" text-anchor="middle" textLength="68" lengthAdjust="spacingAndGlyphs" >stripping</text><rect x="41.70" y="943.00" width="653.90" height="145.80" fill="url(#gAl)" stroke="none" stroke-width="1" /><rect x="560.00" y="943.00" width="135.60" height="145.80" fill="#c2c2c2" stroke="none" stroke-width="1" opacity="0.45"/><rect x="41.70" y="1097.00" width="653.90" height="145.50" fill="url(#gHC)" stroke="none" stroke-width="1" /><ellipse cx="115.00" cy="1006.20" rx="40.00" ry="35.00" fill="#7a7a7a" stroke="none" stroke-width="0" opacity="0.5"/><ellipse cx="113.50" cy="1005.50" rx="40.00" ry="35.00" fill="#f2f2f2" stroke="none" stroke-width="0" /><ellipse cx="113.50" cy="1003.70" rx="40.00" ry="34.20" fill="#7b7b7b" stroke="#555" stroke-width="0.8" /><ellipse cx="117.50" cy="1006.00" rx="31.00" ry="27.50" fill="#dededc" stroke="none" stroke-width="0" /><path d="M100,1000 Q108,988 122,992 Q134,998 132,1012 Q126,1024 112,1022 Q100,1016 100,1000 Z" fill="#d2d2d0" stroke="none" stroke-width="1" /><ellipse cx="246.20" cy="1012.80" rx="38.00" ry="34.50" fill="#7a7a7a" stroke="none" stroke-width="0" opacity="0.5"/><ellipse cx="244.70" cy="1012.10" rx="38.00" ry="34.50" fill="#f2f2f2" stroke="none" stroke-width="0" /><ellipse cx="244.70" cy="1010.30" rx="38.00" ry="33.70" fill="#7b7b7b" stroke="#555" stroke-width="0.8" /><ellipse cx="246.60" cy="1011.00" rx="28.50" ry="26.50" fill="#e2e2e0" stroke="none" stroke-width="0" /><path d="M223,1001 Q228,992 240,996 Q246,990 254,995 Q268,996 269,1007 Q266,1016 258,1016 Q256,1030 246,1032 Q238,1026 234,1018 Q224,1014 223,1001 Z" fill="#b4b4b2" stroke="none" stroke-width="1" /><ellipse cx="366.50" cy="1015.20" rx="36.60" ry="33.00" fill="#7a7a7a" stroke="none" stroke-width="0" opacity="0.5"/><ellipse cx="365.00" cy="1014.50" rx="36.60" ry="33.00" fill="#f2f2f2" stroke="none" stroke-width="0" /><ellipse cx="365.00" cy="1012.70" rx="36.60" ry="32.20" fill="#7b7b7b" stroke="#555" stroke-width="0.8" /><ellipse cx="357.50" cy="1013.70" rx="29.50" ry="27.00" fill="#e2e2e0" stroke="none" stroke-width="0" /><path d="M337,1008 Q340,995 356,994 Q376,994 381,1008 Q384,1024 372,1032 Q356,1036 344,1028 Q335,1020 337,1008 Z" fill="#7f7f7d" stroke="none" stroke-width="1" /><ellipse cx="360.00" cy="1010.00" rx="9.00" ry="7.00" fill="#9c9c9a" stroke="none" stroke-width="0" /><ellipse cx="350.00" cy="1020.00" rx="5.00" ry="4.00" fill="#a8a8a6" stroke="none" stroke-width="0" /><ellipse cx="495.50" cy="1019.50" rx="36.00" ry="32.40" fill="#7a7a7a" stroke="none" stroke-width="0" opacity="0.5"/><ellipse cx="494.00" cy="1018.80" rx="36.00" ry="32.40" fill="#f2f2f2" stroke="none" stroke-width="0" /><ellipse cx="494.00" cy="1017.00" rx="36.00" ry="31.60" fill="#7b7b7b" stroke="#555" stroke-width="0.8" /><ellipse cx="491.50" cy="1017.50" rx="28.50" ry="26.50" fill="#d6d6d4" stroke="none" stroke-width="0" /><ellipse cx="488.00" cy="1014.00" rx="18.00" ry="18.00" fill="#c8c8c6" stroke="none" stroke-width="0" /><ellipse cx="620.80" cy="1025.50" rx="36.00" ry="30.00" fill="#7a7a7a" stroke="none" stroke-width="0" transform="rotate(22 620.80 1025.50)" opacity="0.5"/><ellipse cx="619.30" cy="1024.80" rx="36.00" ry="30.00" fill="#f2f2f2" stroke="none" stroke-width="0" transform="rotate(22 619.30 1024.80)" /><ellipse cx="619.30" cy="1023.00" rx="36.00" ry="29.20" fill="#767676" stroke="#555" stroke-width="0.8" transform="rotate(22 619.30 1023.00)" /><ellipse cx="622.50" cy="1022.50" rx="28.50" ry="24.00" fill="#d9d9d7" stroke="none" stroke-width="0" transform="rotate(22 622.50 1022.50)" /><ellipse cx="106.80" cy="1170.50" rx="43.90" ry="40.00" fill="#7a7a7a" stroke="none" stroke-width="0" opacity="0.5"/><ellipse cx="105.30" cy="1169.80" rx="43.90" ry="40.00" fill="#f2f2f2" stroke="none" stroke-width="0" /><ellipse cx="105.30" cy="1168.00" rx="43.90" ry="39.20" fill="#8e908f" stroke="#666" stroke-width="0.8" /><ellipse cx="111.10" cy="1170.00" rx="34.00" ry="30.60" fill="#151515" stroke="none" stroke-width="0" /><ellipse cx="244.50" cy="1167.50" rx="43.50" ry="39.40" fill="#7a7a7a" stroke="none" stroke-width="0" opacity="0.5"/><ellipse cx="243.00" cy="1166.80" rx="43.50" ry="39.40" fill="#f2f2f2" stroke="none" stroke-width="0" /><ellipse cx="243.00" cy="1165.00" rx="43.50" ry="38.60" fill="#8e908f" stroke="#666" stroke-width="0.8" /><ellipse cx="245.60" cy="1164.00" rx="31.50" ry="29.00" fill="#1c1c1c" stroke="none" stroke-width="0" /><ellipse cx="246.00" cy="1164.50" rx="26.50" ry="24.50" fill="#b8b8b8" stroke="none" stroke-width="0" /><circle cx="240.00" cy="1170.00" r="1.30" fill="#2a2a2a" stroke="none" stroke-width="0" /><circle cx="248.00" cy="1175.00" r="1.50" fill="#2a2a2a" stroke="none" stroke-width="0" /><circle cx="255.00" cy="1168.00" r="1.00" fill="#2a2a2a" stroke="none" stroke-width="0" /><circle cx="236.00" cy="1178.00" r="1.00" fill="#2a2a2a" stroke="none" stroke-width="0" /><circle cx="252.00" cy="1160.00" r="1.00" fill="#2a2a2a" stroke="none" stroke-width="0" /><circle cx="244.00" cy="1168.00" r="1.10" fill="#2a2a2a" stroke="none" stroke-width="0" /><ellipse cx="372.50" cy="1168.00" rx="42.00" ry="38.50" fill="#7a7a7a" stroke="none" stroke-width="0" opacity="0.5"/><ellipse cx="371.00" cy="1167.30" rx="42.00" ry="38.50" fill="#f2f2f2" stroke="none" stroke-width="0" /><ellipse cx="371.00" cy="1165.50" rx="42.00" ry="37.70" fill="#8e908f" stroke="#666" stroke-width="0.8" /><ellipse cx="368.50" cy="1168.00" rx="31.50" ry="29.50" fill="#1e1e1e" stroke="none" stroke-width="0" /><ellipse cx="369.00" cy="1170.00" rx="27.50" ry="25.50" fill="#c6c6c6" stroke="none" stroke-width="0" /><ellipse cx="498.50" cy="1162.50" rx="42.60" ry="39.40" fill="#7a7a7a" stroke="none" stroke-width="0" opacity="0.5"/><ellipse cx="497.00" cy="1161.80" rx="42.60" ry="39.40" fill="#f2f2f2" stroke="none" stroke-width="0" /><ellipse cx="497.00" cy="1160.00" rx="42.60" ry="38.60" fill="#8e908f" stroke="#666" stroke-width="0.8" /><ellipse cx="486.30" cy="1162.70" rx="32.50" ry="30.50" fill="#1e1e1e" stroke="none" stroke-width="0" /><ellipse cx="486.50" cy="1163.00" rx="27.50" ry="26.00" fill="#e0e0e0" stroke="none" stroke-width="0" /><ellipse cx="640.80" cy="1155.00" rx="43.90" ry="38.60" fill="#7a7a7a" stroke="none" stroke-width="0" opacity="0.5"/><ellipse cx="639.30" cy="1154.30" rx="43.90" ry="38.60" fill="#f2f2f2" stroke="none" stroke-width="0" /><ellipse cx="639.30" cy="1152.50" rx="43.90" ry="37.80" fill="#8e908f" stroke="#666" stroke-width="0.8" /><ellipse cx="641.40" cy="1152.00" rx="33.20" ry="29.30" fill="#1c1f24" stroke="none" stroke-width="0" /><line x1="559.50" y1="859.70" x2="559.50" y2="1246.60" stroke="#222" stroke-width="1.5" stroke-dasharray="6,4.5" /><text x="49.50" y="1077.60" font-size="17.3" fill="#111" textLength="14" lengthAdjust="spacingAndGlyphs" >Al</text><text x="49.50" y="1233.00" font-size="17.3" fill="#111" textLength="45" lengthAdjust="spacingAndGlyphs" >Al-HC</text><text x="336.40" y="1070.50" font-size="17.3" fill="#ff1f33" textLength="180.6" lengthAdjust="spacingAndGlyphs" >Inhomogeneous plating</text><text x="343.50" y="1222.00" font-size="17.3" fill="#2040ff" textLength="167" lengthAdjust="spacingAndGlyphs" >Homogeneous plating</text><text x="643.90" y="960.00" font-size="17.3" fill="#ff1f33" text-anchor="middle" textLength="63" lengthAdjust="spacingAndGlyphs" >Residual</text><text x="643.90" y="980.00" font-size="17.3" fill="#ff1f33" text-anchor="middle" textLength="66" lengthAdjust="spacingAndGlyphs" >Na metal</text><text x="629.80" y="1210.80" font-size="17.3" fill="#2040ff" text-anchor="middle" textLength="86" lengthAdjust="spacingAndGlyphs" >No residual</text><text x="629.80" y="1230.90" font-size="17.3" fill="#2040ff" text-anchor="middle" textLength="66" lengthAdjust="spacingAndGlyphs" >Na metal</text><line x1="620.70" y1="989.10" x2="609.65" y2="1000.23" stroke="#ff1f33" stroke-width="2.4" /><polygon points="605.70,1004.20 607.80,996.41 613.47,1002.05" fill="#ff1f33" /><line x1="646.80" y1="996.70" x2="637.26" y2="1006.24" stroke="#ff1f33" stroke-width="2.4" /><polygon points="633.30,1010.20 635.42,1002.42 641.08,1008.08" fill="#ff1f33" /><text x="796.00" y="857.10" font-size="22.5" fill="#000" font-weight="bold" stroke="#000" stroke-width="1.1">h</text><text x="1050.90" y="884.70" font-size="17.3" fill="#111" text-anchor="middle" textLength="188.6" lengthAdjust="spacingAndGlyphs" >Different Al CC modifiers</text><rect x="795.90" y="892.80" width="162.50" height="354.20" fill="#dde7f3" stroke="#222" stroke-width="1.5" stroke-dasharray="6,4.5" /><text x="877.20" y="922.00" font-size="17.3" fill="#111" text-anchor="middle" textLength="56" lengthAdjust="spacingAndGlyphs" >Carbon</text><rect x="969.50" y="892.80" width="162.80" height="354.20" fill="#dde7f3" stroke="#222" stroke-width="1.5" stroke-dasharray="6,4.5" /><text x="1050.60" y="922.00" font-size="17.3" fill="#111" text-anchor="middle" textLength="41.5" lengthAdjust="spacingAndGlyphs" >Metal</text><rect x="1140.90" y="892.80" width="163.70" height="354.20" fill="#dde7f3" stroke="#222" stroke-width="1.5" stroke-dasharray="6,4.5" /><text x="1222.00" y="922.00" font-size="17.3" fill="#111" text-anchor="middle" textLength="87.6" lengthAdjust="spacingAndGlyphs" >Metal oxide</text><rect x="803.80" y="939.00" width="149.00" height="146.30" fill="#b8bbba" stroke="none" stroke-width="1" /><rect x="803.80" y="1094.00" width="149.00" height="145.80" fill="#c2c4c3" stroke="none" stroke-width="1" /><rect x="977.50" y="939.00" width="148.90" height="146.30" fill="#aeb2b2" stroke="none" stroke-width="1" /><rect x="977.50" y="1094.00" width="148.90" height="145.80" fill="#c4c6c5" stroke="none" stroke-width="1" /><rect x="1148.80" y="939.00" width="149.00" height="146.30" fill="#c7c9c8" stroke="none" stroke-width="1" /><rect x="1148.80" y="1094.00" width="149.00" height="145.80" fill="#c0c2c1" stroke="none" stroke-width="1" /><ellipse cx="878.20" cy="1016.30" rx="39.00" ry="39.00" fill="#8a8c8a" stroke="none" stroke-width="0" opacity="0.6"/><ellipse cx="877.20" cy="1014.30" rx="39.00" ry="39.00" fill="#c4c2b8" stroke="#6a6a68" stroke-width="1" /><ellipse cx="877.20" cy="1015.30" rx="30.50" ry="30.00" fill="#3a3a3e" stroke="none" stroke-width="0" /><ellipse cx="877.70" cy="1014.80" rx="24.50" ry="24.00" fill="#ebebe6" stroke="none" stroke-width="0" /><ellipse cx="1055.60" cy="1016.80" rx="37.80" ry="37.80" fill="#8a8c8a" stroke="none" stroke-width="0" opacity="0.6"/><ellipse cx="1054.60" cy="1014.80" rx="37.80" ry="37.80" fill="#c8c6b8" stroke="#6a6a68" stroke-width="1" /><ellipse cx="1054.60" cy="1015.80" rx="28.70" ry="28.20" fill="#5a5e60" stroke="none" stroke-width="0" /><ellipse cx="1055.10" cy="1015.30" rx="21.30" ry="20.80" fill="#ececea" stroke="none" stroke-width="0" /><ellipse cx="1223.00" cy="1014.20" rx="40.00" ry="40.00" fill="#8a8c8a" stroke="none" stroke-width="0" opacity="0.6"/><ellipse cx="1222.00" cy="1012.20" rx="40.00" ry="40.00" fill="#8a8a88" stroke="#6a6a68" stroke-width="1" /><ellipse cx="1222.00" cy="1013.20" rx="31.00" ry="30.50" fill="#2a2a2e" stroke="none" stroke-width="0" /><ellipse cx="1222.50" cy="1012.70" rx="23.50" ry="23.00" fill="#c4c4c2" stroke="none" stroke-width="0" /><ellipse cx="880.00" cy="1169.00" rx="37.50" ry="37.50" fill="#8a8c8a" stroke="none" stroke-width="0" opacity="0.6"/><ellipse cx="879.00" cy="1167.00" rx="37.50" ry="37.50" fill="#b0aa98" stroke="#6a6a68" stroke-width="1" /><ellipse cx="879.00" cy="1168.00" rx="29.50" ry="29.00" fill="#1e1e22" stroke="none" stroke-width="0" /><ellipse cx="879.50" cy="1167.50" rx="22.00" ry="21.50" fill="#e8e8e2" stroke="none" stroke-width="0" /><ellipse cx="1056.00" cy="1168.40" rx="39.50" ry="39.50" fill="#8a8c8a" stroke="none" stroke-width="0" opacity="0.6"/><ellipse cx="1055.00" cy="1166.40" rx="39.50" ry="39.50" fill="url(#gSb)" stroke="#6a6a68" stroke-width="1" /><ellipse cx="1055.00" cy="1167.40" rx="29.30" ry="28.80" fill="#1e1e22" stroke="none" stroke-width="0" /><ellipse cx="1055.50" cy="1166.90" rx="22.60" ry="22.10" fill="#e4e6e2" stroke="none" stroke-width="0" /><ellipse cx="1221.60" cy="1169.20" rx="39.00" ry="39.00" fill="#8a8c8a" stroke="none" stroke-width="0" opacity="0.6"/><ellipse cx="1220.60" cy="1167.20" rx="39.00" ry="39.00" fill="#b8b8b4" stroke="#6a6a68" stroke-width="1" /><ellipse cx="1220.60" cy="1168.20" rx="29.80" ry="29.30" fill="#3a3c40" stroke="none" stroke-width="0" /><ellipse cx="1221.10" cy="1167.70" rx="23.50" ry="23.00" fill="#ececea" stroke="none" stroke-width="0" /><text x="877.20" y="961.10" font-size="17.3" fill="#111" text-anchor="middle" textLength="40" lengthAdjust="spacingAndGlyphs" >AECT</text><text x="1050.10" y="961.10" font-size="17.3" fill="#111" text-anchor="middle" textLength="20" lengthAdjust="spacingAndGlyphs" >Sn</text><text x="1222.00" y="961.10" font-size="17.3" fill="#111" text-anchor="middle" textLength="33.4" lengthAdjust="spacingAndGlyphs" >CuO</text><text x="877.20" y="1115.40" font-size="17.3" fill="#111" text-anchor="middle" textLength="22.5" lengthAdjust="spacingAndGlyphs" >AC</text><text x="1050.40" y="1115.40" font-size="17.3" fill="#111" text-anchor="middle" textLength="20" lengthAdjust="spacingAndGlyphs" >Sb</text><text x="1222.00" y="1115.40" font-size="17.3" fill="#111" text-anchor="middle" textLength="36.7" lengthAdjust="spacingAndGlyphs" >MgO</text></svg></body></html>
